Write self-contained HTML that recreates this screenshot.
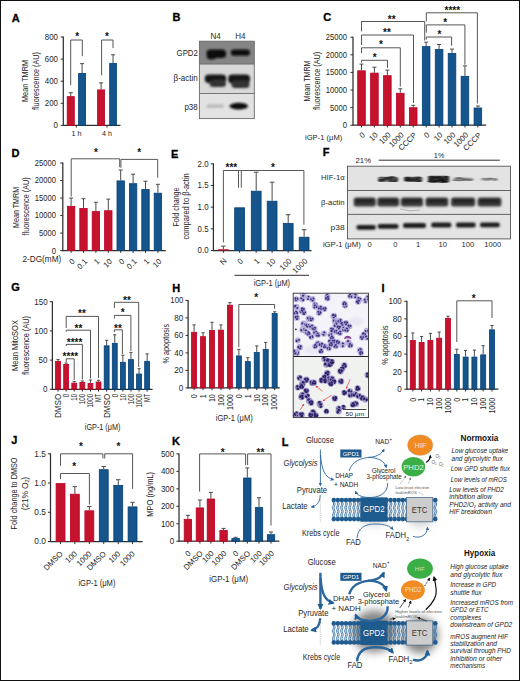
<!DOCTYPE html>
<html><head><meta charset="utf-8"><style>
html,body{margin:0;padding:0;background:#fff;overflow:hidden;}
svg{display:block;font-family:"Liberation Sans", sans-serif;}
</style></head><body>
<svg width="520" height="681" viewBox="0 0 520 681" fill="#262626">
<rect x="0.5" y="0.5" width="519" height="680" fill="#fff" stroke="#111" stroke-width="1"/>
<text x="11.80" y="21.58" font-size="11.0" font-weight="bold" fill="#000" stroke="#000" stroke-width="0.3">A</text>
<line x1="63.30" y1="36.50" x2="63.30" y2="126.00" stroke="#2e2e2e" stroke-width="1.25"/>
<line x1="60.70" y1="125.40" x2="63.30" y2="125.40" stroke="#2e2e2e" stroke-width="1.0"/>
<text x="58.00" y="128.30" font-size="8.2" text-anchor="end" textLength="4.40" lengthAdjust="spacingAndGlyphs" >0</text>
<line x1="60.70" y1="103.30" x2="63.30" y2="103.30" stroke="#2e2e2e" stroke-width="1.0"/>
<text x="58.00" y="106.20" font-size="8.2" text-anchor="end" textLength="13.20" lengthAdjust="spacingAndGlyphs" >200</text>
<line x1="60.70" y1="81.20" x2="63.30" y2="81.20" stroke="#2e2e2e" stroke-width="1.0"/>
<text x="58.00" y="84.10" font-size="8.2" text-anchor="end" textLength="13.20" lengthAdjust="spacingAndGlyphs" >400</text>
<line x1="60.70" y1="59.10" x2="63.30" y2="59.10" stroke="#2e2e2e" stroke-width="1.0"/>
<text x="58.00" y="62.00" font-size="8.2" text-anchor="end" textLength="13.20" lengthAdjust="spacingAndGlyphs" >600</text>
<line x1="60.70" y1="37.00" x2="63.30" y2="37.00" stroke="#2e2e2e" stroke-width="1.0"/>
<text x="58.00" y="39.90" font-size="8.2" text-anchor="end" textLength="13.20" lengthAdjust="spacingAndGlyphs" >800</text>
<line x1="63.30" y1="125.40" x2="120.50" y2="125.40" stroke="#2e2e2e" stroke-width="1.25"/>
<line x1="76.30" y1="125.40" x2="76.30" y2="127.60" stroke="#2e2e2e" stroke-width="1.0"/>
<line x1="107.00" y1="125.40" x2="107.00" y2="127.60" stroke="#2e2e2e" stroke-width="1.0"/>
<rect x="67.20" y="96.63" width="7.10" height="28.77" fill="#c5132e" stroke="#bb0026" stroke-width="0.8"/>
<line x1="70.75" y1="92.69" x2="70.75" y2="96.23" stroke="#4a4a4a" stroke-width="1.0"/>
<line x1="68.75" y1="92.69" x2="72.75" y2="92.69" stroke="#4a4a4a" stroke-width="1.0"/>
<rect x="78.60" y="73.53" width="7.00" height="51.87" fill="#16558b" stroke="#003f79" stroke-width="0.8"/>
<line x1="82.10" y1="63.63" x2="82.10" y2="73.13" stroke="#4a4a4a" stroke-width="1.0"/>
<line x1="80.10" y1="63.63" x2="84.10" y2="63.63" stroke="#4a4a4a" stroke-width="1.0"/>
<rect x="97.60" y="89.89" width="7.00" height="35.51" fill="#c5132e" stroke="#bb0026" stroke-width="0.8"/>
<line x1="101.10" y1="82.86" x2="101.10" y2="89.49" stroke="#4a4a4a" stroke-width="1.0"/>
<line x1="99.10" y1="82.86" x2="103.10" y2="82.86" stroke="#4a4a4a" stroke-width="1.0"/>
<rect x="109.70" y="63.37" width="6.70" height="62.03" fill="#16558b" stroke="#003f79" stroke-width="0.8"/>
<line x1="113.05" y1="54.79" x2="113.05" y2="62.97" stroke="#4a4a4a" stroke-width="1.0"/>
<line x1="111.05" y1="54.79" x2="115.05" y2="54.79" stroke="#4a4a4a" stroke-width="1.0"/>
<path d="M70.70 85.20 L70.70 40.00 L82.30 40.00 L82.30 56.20" stroke="#444444" stroke-width="0.9" fill="none" />
<path d="M101.60 75.40 L101.60 40.00 L113.00 40.00 L113.00 48.10" stroke="#444444" stroke-width="0.9" fill="none" />
<text x="77.10" y="40.00" font-size="10" text-anchor="middle" textLength="3.90" lengthAdjust="spacingAndGlyphs" font-weight="bold" fill="#111" >*</text>
<text x="106.90" y="40.00" font-size="10" text-anchor="middle" textLength="3.90" lengthAdjust="spacingAndGlyphs" font-weight="bold" fill="#111" >*</text>
<text x="76.50" y="136.30" font-size="7.3" text-anchor="middle" textLength="10.00" lengthAdjust="spacingAndGlyphs" >1 h</text>
<text x="107.00" y="136.30" font-size="7.3" text-anchor="middle" textLength="10.00" lengthAdjust="spacingAndGlyphs" >4 h</text>
<text x="28.30" y="81.00" font-size="9.6" text-anchor="middle" textLength="42.00" lengthAdjust="spacingAndGlyphs" transform="rotate(-90 28.30 81.00)" >Mean TMRM</text>
<text x="38.60" y="81.00" font-size="9.6" text-anchor="middle" textLength="58.00" lengthAdjust="spacingAndGlyphs" transform="rotate(-90 38.60 81.00)" >fluorescence (AU)</text>
<text x="172.50" y="20.77" font-size="11.0" font-weight="bold" fill="#000" stroke="#000" stroke-width="0.3">B</text>
<text x="215.60" y="39.30" font-size="8.2" text-anchor="middle" textLength="10.20" lengthAdjust="spacingAndGlyphs" >N4</text>
<text x="240.30" y="39.30" font-size="8.2" text-anchor="middle" textLength="10.20" lengthAdjust="spacingAndGlyphs" >H4</text>
<defs><filter id="bl4" x="-30%" y="-60%" width="160%" height="220%"><feGaussianBlur stdDeviation="1.3"/></filter><filter id="bl1" x="-30%" y="-60%" width="160%" height="220%"><feGaussianBlur stdDeviation="1.1"/></filter><filter id="bl2" x="-30%" y="-60%" width="160%" height="220%"><feGaussianBlur stdDeviation="0.7"/></filter><filter id="bl3" x="-30%" y="-60%" width="160%" height="220%"><feGaussianBlur stdDeviation="1.6"/></filter></defs>
<rect x="199.40" y="41.20" width="54.90" height="22.90" fill="#858585" />
<rect x="199.40" y="64.10" width="54.90" height="29.40" fill="#d8d8d8" />
<rect x="199.40" y="93.50" width="54.90" height="25.10" fill="#e2e2e2" />
<g stroke="#6a6a6a" stroke-width="0.9" fill="none"><rect x="199.4" y="41.2" width="54.9" height="77.4"/><line x1="199.4" y1="64.1" x2="254.3" y2="64.1"/><line x1="199.4" y1="93.5" x2="254.3" y2="93.5"/></g>
<g filter="url(#bl1)" fill="#0a0a0a"><rect x="206.5" y="49.6" width="19.6" height="8.4" rx="4"/><ellipse cx="211.5" cy="57.2" rx="4.5" ry="2.2"/><rect x="230.8" y="49.4" width="19.2" height="6.4" rx="3.2"/></g>
<g filter="url(#bl4)"><rect x="204.8" y="74.4" width="21.4" height="8.6" rx="4" fill="#151515"/><rect x="209.5" y="80.0" width="16.5" height="7.0" rx="3.5" fill="#363636"/><rect x="228.2" y="74.6" width="21.8" height="8.8" rx="4" fill="#151515"/><rect x="231.5" y="80.5" width="18" height="7.5" rx="3.5" fill="#323232"/></g>
<g filter="url(#bl1)"><rect x="206.5" y="104.4" width="17.5" height="3.4" rx="1.7" fill="#b8b8b8"/><ellipse cx="238.8" cy="106.2" rx="9.2" ry="3.4" fill="#0d0d0d"/></g>
<text x="197.80" y="56.00" font-size="8.8" text-anchor="end" textLength="21.20" lengthAdjust="spacingAndGlyphs" >GPD2</text>
<text x="197.80" y="81.30" font-size="8.8" text-anchor="end" textLength="24.20" lengthAdjust="spacingAndGlyphs" >β-actin</text>
<text x="197.80" y="110.30" font-size="8.8" text-anchor="end" textLength="13.40" lengthAdjust="spacingAndGlyphs" >p38</text>
<text x="323.20" y="21.38" font-size="11.0" font-weight="bold" fill="#000" stroke="#000" stroke-width="0.3">C</text>
<line x1="353.00" y1="36.70" x2="353.00" y2="125.80" stroke="#2e2e2e" stroke-width="1.25"/>
<line x1="350.40" y1="125.20" x2="353.00" y2="125.20" stroke="#2e2e2e" stroke-width="1.0"/>
<text x="347.00" y="128.10" font-size="8.2" text-anchor="end" textLength="4.30" lengthAdjust="spacingAndGlyphs" >0</text>
<line x1="350.40" y1="107.60" x2="353.00" y2="107.60" stroke="#2e2e2e" stroke-width="1.0"/>
<text x="347.00" y="110.50" font-size="8.2" text-anchor="end" textLength="17.00" lengthAdjust="spacingAndGlyphs" >5000</text>
<line x1="350.40" y1="90.00" x2="353.00" y2="90.00" stroke="#2e2e2e" stroke-width="1.0"/>
<text x="347.00" y="92.90" font-size="8.2" text-anchor="end" textLength="21.20" lengthAdjust="spacingAndGlyphs" >10000</text>
<line x1="350.40" y1="72.40" x2="353.00" y2="72.40" stroke="#2e2e2e" stroke-width="1.0"/>
<text x="347.00" y="75.30" font-size="8.2" text-anchor="end" textLength="21.20" lengthAdjust="spacingAndGlyphs" >15000</text>
<line x1="350.40" y1="54.80" x2="353.00" y2="54.80" stroke="#2e2e2e" stroke-width="1.0"/>
<text x="347.00" y="57.70" font-size="8.2" text-anchor="end" textLength="21.20" lengthAdjust="spacingAndGlyphs" >20000</text>
<line x1="350.40" y1="37.20" x2="353.00" y2="37.20" stroke="#2e2e2e" stroke-width="1.0"/>
<text x="347.00" y="40.10" font-size="8.2" text-anchor="end" textLength="21.20" lengthAdjust="spacingAndGlyphs" >25000</text>
<line x1="353.00" y1="125.20" x2="486.20" y2="125.20" stroke="#2e2e2e" stroke-width="1.25"/>
<rect x="357.70" y="70.80" width="7.60" height="54.40" fill="#c5132e" stroke="#bb0026" stroke-width="0.8"/>
<line x1="361.50" y1="64.10" x2="361.50" y2="70.40" stroke="#4a4a4a" stroke-width="1.0"/>
<line x1="359.50" y1="64.10" x2="363.50" y2="64.10" stroke="#4a4a4a" stroke-width="1.0"/>
<line x1="361.50" y1="125.20" x2="361.50" y2="127.50" stroke="#2e2e2e" stroke-width="1.0"/>
<text x="365.50" y="135.50" font-size="7.8" text-anchor="end" transform="rotate(-45 365.50 135.50)" >0</text>
<rect x="370.63" y="73.10" width="7.60" height="52.10" fill="#c5132e" stroke="#bb0026" stroke-width="0.8"/>
<line x1="374.43" y1="67.20" x2="374.43" y2="72.70" stroke="#4a4a4a" stroke-width="1.0"/>
<line x1="372.43" y1="67.20" x2="376.43" y2="67.20" stroke="#4a4a4a" stroke-width="1.0"/>
<line x1="374.43" y1="125.20" x2="374.43" y2="127.50" stroke="#2e2e2e" stroke-width="1.0"/>
<text x="378.43" y="135.50" font-size="7.8" text-anchor="end" transform="rotate(-45 378.43 135.50)" >10</text>
<rect x="383.56" y="75.70" width="7.60" height="49.50" fill="#c5132e" stroke="#bb0026" stroke-width="0.8"/>
<line x1="387.36" y1="70.10" x2="387.36" y2="75.30" stroke="#4a4a4a" stroke-width="1.0"/>
<line x1="385.36" y1="70.10" x2="389.36" y2="70.10" stroke="#4a4a4a" stroke-width="1.0"/>
<line x1="387.36" y1="125.20" x2="387.36" y2="127.50" stroke="#2e2e2e" stroke-width="1.0"/>
<text x="391.36" y="135.50" font-size="7.8" text-anchor="end" transform="rotate(-45 391.36 135.50)" >100</text>
<rect x="396.49" y="93.30" width="7.60" height="31.90" fill="#c5132e" stroke="#bb0026" stroke-width="0.8"/>
<line x1="400.29" y1="88.80" x2="400.29" y2="92.90" stroke="#4a4a4a" stroke-width="1.0"/>
<line x1="398.29" y1="88.80" x2="402.29" y2="88.80" stroke="#4a4a4a" stroke-width="1.0"/>
<line x1="400.29" y1="125.20" x2="400.29" y2="127.50" stroke="#2e2e2e" stroke-width="1.0"/>
<text x="404.29" y="135.50" font-size="7.8" text-anchor="end" transform="rotate(-45 404.29 135.50)" >1000</text>
<rect x="409.42" y="107.70" width="7.60" height="17.50" fill="#c5132e" stroke="#bb0026" stroke-width="0.8"/>
<line x1="413.22" y1="105.30" x2="413.22" y2="107.30" stroke="#4a4a4a" stroke-width="1.0"/>
<line x1="411.22" y1="105.30" x2="415.22" y2="105.30" stroke="#4a4a4a" stroke-width="1.0"/>
<line x1="413.22" y1="125.20" x2="413.22" y2="127.50" stroke="#2e2e2e" stroke-width="1.0"/>
<text x="417.22" y="135.50" font-size="7.8" text-anchor="end" transform="rotate(-45 417.22 135.50)" >CCCP</text>
<rect x="422.35" y="46.60" width="7.60" height="78.60" fill="#16558b" stroke="#003f79" stroke-width="0.8"/>
<line x1="426.15" y1="42.20" x2="426.15" y2="46.20" stroke="#4a4a4a" stroke-width="1.0"/>
<line x1="424.15" y1="42.20" x2="428.15" y2="42.20" stroke="#4a4a4a" stroke-width="1.0"/>
<line x1="426.15" y1="125.20" x2="426.15" y2="127.50" stroke="#2e2e2e" stroke-width="1.0"/>
<text x="430.15" y="135.50" font-size="7.8" text-anchor="end" transform="rotate(-45 430.15 135.50)" >0</text>
<rect x="435.28" y="49.50" width="7.60" height="75.70" fill="#16558b" stroke="#003f79" stroke-width="0.8"/>
<line x1="439.08" y1="44.50" x2="439.08" y2="49.10" stroke="#4a4a4a" stroke-width="1.0"/>
<line x1="437.08" y1="44.50" x2="441.08" y2="44.50" stroke="#4a4a4a" stroke-width="1.0"/>
<line x1="439.08" y1="125.20" x2="439.08" y2="127.50" stroke="#2e2e2e" stroke-width="1.0"/>
<text x="443.08" y="135.50" font-size="7.8" text-anchor="end" transform="rotate(-45 443.08 135.50)" >10</text>
<rect x="448.21" y="53.50" width="7.60" height="71.70" fill="#16558b" stroke="#003f79" stroke-width="0.8"/>
<line x1="452.01" y1="49.10" x2="452.01" y2="53.10" stroke="#4a4a4a" stroke-width="1.0"/>
<line x1="450.01" y1="49.10" x2="454.01" y2="49.10" stroke="#4a4a4a" stroke-width="1.0"/>
<line x1="452.01" y1="125.20" x2="452.01" y2="127.50" stroke="#2e2e2e" stroke-width="1.0"/>
<text x="456.01" y="135.50" font-size="7.8" text-anchor="end" transform="rotate(-45 456.01 135.50)" >100</text>
<rect x="461.14" y="76.30" width="7.60" height="48.90" fill="#16558b" stroke="#003f79" stroke-width="0.8"/>
<line x1="464.94" y1="65.90" x2="464.94" y2="75.90" stroke="#4a4a4a" stroke-width="1.0"/>
<line x1="462.94" y1="65.90" x2="466.94" y2="65.90" stroke="#4a4a4a" stroke-width="1.0"/>
<line x1="464.94" y1="125.20" x2="464.94" y2="127.50" stroke="#2e2e2e" stroke-width="1.0"/>
<text x="468.94" y="135.50" font-size="7.8" text-anchor="end" transform="rotate(-45 468.94 135.50)" >1000</text>
<rect x="474.07" y="108.00" width="7.60" height="17.20" fill="#16558b" stroke="#003f79" stroke-width="0.8"/>
<line x1="477.87" y1="106.00" x2="477.87" y2="107.60" stroke="#4a4a4a" stroke-width="1.0"/>
<line x1="475.87" y1="106.00" x2="479.87" y2="106.00" stroke="#4a4a4a" stroke-width="1.0"/>
<line x1="477.87" y1="125.20" x2="477.87" y2="127.50" stroke="#2e2e2e" stroke-width="1.0"/>
<text x="481.87" y="135.50" font-size="7.8" text-anchor="end" transform="rotate(-45 481.87 135.50)" >CCCP</text>
<path d="M361.50 31.40 L361.50 21.50 L424.70 21.50 L424.70 40.50" stroke="#444444" stroke-width="0.9" fill="none" />
<path d="M361.50 45.00 L361.50 35.00 L413.50 35.00 L413.50 103.00" stroke="#444444" stroke-width="0.9" fill="none" />
<path d="M361.50 53.00 L361.50 47.80 L400.30 47.80 L400.30 86.50" stroke="#444444" stroke-width="0.9" fill="none" />
<path d="M361.50 62.50 L361.50 60.30 L387.50 60.30 L387.50 67.90" stroke="#444444" stroke-width="0.9" fill="none" />
<text x="391.70" y="22.50" font-size="10" text-anchor="middle" textLength="7.80" lengthAdjust="spacingAndGlyphs" font-weight="bold" fill="#111" >**</text>
<text x="386.90" y="35.70" font-size="10" text-anchor="middle" textLength="7.80" lengthAdjust="spacingAndGlyphs" font-weight="bold" fill="#111" >**</text>
<text x="381.00" y="48.20" font-size="10" text-anchor="middle" textLength="3.90" lengthAdjust="spacingAndGlyphs" font-weight="bold" fill="#111" >*</text>
<text x="374.80" y="60.70" font-size="10" text-anchor="middle" textLength="3.90" lengthAdjust="spacingAndGlyphs" font-weight="bold" fill="#111" >*</text>
<path d="M426.30 21.40 L426.30 12.80 L477.40 12.80 L477.40 103.50" stroke="#444444" stroke-width="0.9" fill="none" />
<path d="M426.30 32.70 L426.30 24.90 L464.90 24.90 L464.90 64.70" stroke="#444444" stroke-width="0.9" fill="none" />
<path d="M426.30 39.60 L426.30 37.00 L451.60 37.00 L451.60 45.70" stroke="#444444" stroke-width="0.9" fill="none" />
<text x="452.30" y="13.60" font-size="10" text-anchor="middle" textLength="15.60" lengthAdjust="spacingAndGlyphs" font-weight="bold" fill="#111" >****</text>
<text x="445.30" y="25.60" font-size="10" text-anchor="middle" textLength="3.90" lengthAdjust="spacingAndGlyphs" font-weight="bold" fill="#111" >*</text>
<text x="439.50" y="37.60" font-size="10" text-anchor="middle" textLength="3.90" lengthAdjust="spacingAndGlyphs" font-weight="bold" fill="#111" >*</text>
<text x="310.00" y="81.00" font-size="9.6" text-anchor="middle" textLength="41.10" lengthAdjust="spacingAndGlyphs" transform="rotate(-90 310.00 81.00)" >Mean TMRM</text>
<text x="320.50" y="80.80" font-size="9.6" text-anchor="middle" textLength="58.20" lengthAdjust="spacingAndGlyphs" transform="rotate(-90 320.50 80.80)" >fluorescence (AU)</text>
<text x="305.00" y="139.80" font-size="7.3" textLength="37.30" lengthAdjust="spacingAndGlyphs" >iGP-1 (μM)</text>
<text x="11.60" y="157.17" font-size="11.0" font-weight="bold" fill="#000" stroke="#000" stroke-width="0.3">D</text>
<line x1="62.80" y1="162.50" x2="62.80" y2="251.20" stroke="#2e2e2e" stroke-width="1.25"/>
<line x1="60.20" y1="250.60" x2="62.80" y2="250.60" stroke="#2e2e2e" stroke-width="1.0"/>
<text x="56.00" y="253.50" font-size="8.2" text-anchor="end" textLength="4.30" lengthAdjust="spacingAndGlyphs" >0</text>
<line x1="60.20" y1="233.08" x2="62.80" y2="233.08" stroke="#2e2e2e" stroke-width="1.0"/>
<text x="56.00" y="235.98" font-size="8.2" text-anchor="end" textLength="17.00" lengthAdjust="spacingAndGlyphs" >5000</text>
<line x1="60.20" y1="215.56" x2="62.80" y2="215.56" stroke="#2e2e2e" stroke-width="1.0"/>
<text x="56.00" y="218.46" font-size="8.2" text-anchor="end" textLength="21.20" lengthAdjust="spacingAndGlyphs" >10000</text>
<line x1="60.20" y1="198.04" x2="62.80" y2="198.04" stroke="#2e2e2e" stroke-width="1.0"/>
<text x="56.00" y="200.94" font-size="8.2" text-anchor="end" textLength="21.20" lengthAdjust="spacingAndGlyphs" >15000</text>
<line x1="60.20" y1="180.52" x2="62.80" y2="180.52" stroke="#2e2e2e" stroke-width="1.0"/>
<text x="56.00" y="183.42" font-size="8.2" text-anchor="end" textLength="21.20" lengthAdjust="spacingAndGlyphs" >20000</text>
<line x1="60.20" y1="163.00" x2="62.80" y2="163.00" stroke="#2e2e2e" stroke-width="1.0"/>
<text x="56.00" y="165.90" font-size="8.2" text-anchor="end" textLength="21.20" lengthAdjust="spacingAndGlyphs" >25000</text>
<line x1="62.80" y1="250.60" x2="165.80" y2="250.60" stroke="#2e2e2e" stroke-width="1.25"/>
<rect x="67.40" y="206.30" width="7.40" height="44.30" fill="#c5132e" stroke="#bb0026" stroke-width="0.8"/>
<line x1="71.10" y1="198.10" x2="71.10" y2="205.90" stroke="#4a4a4a" stroke-width="1.0"/>
<line x1="69.10" y1="198.10" x2="73.10" y2="198.10" stroke="#4a4a4a" stroke-width="1.0"/>
<line x1="71.10" y1="250.60" x2="71.10" y2="252.90" stroke="#2e2e2e" stroke-width="1.0"/>
<text x="75.40" y="262.00" font-size="7.8" text-anchor="end" transform="rotate(-45 75.40 262.00)" >0</text>
<rect x="79.80" y="208.40" width="7.40" height="42.20" fill="#c5132e" stroke="#bb0026" stroke-width="0.8"/>
<line x1="83.50" y1="198.70" x2="83.50" y2="208.00" stroke="#4a4a4a" stroke-width="1.0"/>
<line x1="81.50" y1="198.70" x2="85.50" y2="198.70" stroke="#4a4a4a" stroke-width="1.0"/>
<line x1="83.50" y1="250.60" x2="83.50" y2="252.90" stroke="#2e2e2e" stroke-width="1.0"/>
<text x="87.80" y="262.00" font-size="7.8" text-anchor="end" transform="rotate(-45 87.80 262.00)" >0.1</text>
<rect x="92.20" y="211.60" width="7.40" height="39.00" fill="#c5132e" stroke="#bb0026" stroke-width="0.8"/>
<line x1="95.90" y1="202.30" x2="95.90" y2="211.20" stroke="#4a4a4a" stroke-width="1.0"/>
<line x1="93.90" y1="202.30" x2="97.90" y2="202.30" stroke="#4a4a4a" stroke-width="1.0"/>
<line x1="95.90" y1="250.60" x2="95.90" y2="252.90" stroke="#2e2e2e" stroke-width="1.0"/>
<text x="100.20" y="262.00" font-size="7.8" text-anchor="end" transform="rotate(-45 100.20 262.00)" >1</text>
<rect x="104.60" y="210.70" width="7.40" height="39.90" fill="#c5132e" stroke="#bb0026" stroke-width="0.8"/>
<line x1="108.30" y1="199.10" x2="108.30" y2="210.30" stroke="#4a4a4a" stroke-width="1.0"/>
<line x1="106.30" y1="199.10" x2="110.30" y2="199.10" stroke="#4a4a4a" stroke-width="1.0"/>
<line x1="108.30" y1="250.60" x2="108.30" y2="252.90" stroke="#2e2e2e" stroke-width="1.0"/>
<text x="112.60" y="262.00" font-size="7.8" text-anchor="end" transform="rotate(-45 112.60 262.00)" >10</text>
<rect x="117.00" y="180.90" width="7.40" height="69.70" fill="#16558b" stroke="#003f79" stroke-width="0.8"/>
<line x1="120.70" y1="170.00" x2="120.70" y2="180.50" stroke="#4a4a4a" stroke-width="1.0"/>
<line x1="118.70" y1="170.00" x2="122.70" y2="170.00" stroke="#4a4a4a" stroke-width="1.0"/>
<line x1="120.70" y1="250.60" x2="120.70" y2="252.90" stroke="#2e2e2e" stroke-width="1.0"/>
<text x="125.00" y="262.00" font-size="7.8" text-anchor="end" transform="rotate(-45 125.00 262.00)" >0</text>
<rect x="129.40" y="183.70" width="7.40" height="66.90" fill="#16558b" stroke="#003f79" stroke-width="0.8"/>
<line x1="133.10" y1="174.20" x2="133.10" y2="183.30" stroke="#4a4a4a" stroke-width="1.0"/>
<line x1="131.10" y1="174.20" x2="135.10" y2="174.20" stroke="#4a4a4a" stroke-width="1.0"/>
<line x1="133.10" y1="250.60" x2="133.10" y2="252.90" stroke="#2e2e2e" stroke-width="1.0"/>
<text x="137.40" y="262.00" font-size="7.8" text-anchor="end" transform="rotate(-45 137.40 262.00)" >0.1</text>
<rect x="141.80" y="189.60" width="7.40" height="61.00" fill="#16558b" stroke="#003f79" stroke-width="0.8"/>
<line x1="145.50" y1="181.20" x2="145.50" y2="189.20" stroke="#4a4a4a" stroke-width="1.0"/>
<line x1="143.50" y1="181.20" x2="147.50" y2="181.20" stroke="#4a4a4a" stroke-width="1.0"/>
<line x1="145.50" y1="250.60" x2="145.50" y2="252.90" stroke="#2e2e2e" stroke-width="1.0"/>
<text x="149.80" y="262.00" font-size="7.8" text-anchor="end" transform="rotate(-45 149.80 262.00)" >1</text>
<rect x="154.20" y="193.20" width="7.40" height="57.40" fill="#16558b" stroke="#003f79" stroke-width="0.8"/>
<line x1="157.90" y1="184.30" x2="157.90" y2="192.80" stroke="#4a4a4a" stroke-width="1.0"/>
<line x1="155.90" y1="184.30" x2="159.90" y2="184.30" stroke="#4a4a4a" stroke-width="1.0"/>
<line x1="157.90" y1="250.60" x2="157.90" y2="252.90" stroke="#2e2e2e" stroke-width="1.0"/>
<text x="162.20" y="262.00" font-size="7.8" text-anchor="end" transform="rotate(-45 162.20 262.00)" >10</text>
<path d="M71.20 196.50 L71.20 158.80 L119.70 158.80 L119.70 167.20" stroke="#444444" stroke-width="0.9" fill="none" />
<path d="M120.90 167.80 L120.90 159.40 L157.70 159.40 L157.70 177.80" stroke="#444444" stroke-width="0.9" fill="none" />
<text x="96.00" y="156.40" font-size="10" text-anchor="middle" textLength="3.90" lengthAdjust="spacingAndGlyphs" font-weight="bold" fill="#111" >*</text>
<text x="139.30" y="156.40" font-size="10" text-anchor="middle" textLength="3.90" lengthAdjust="spacingAndGlyphs" font-weight="bold" fill="#111" >*</text>
<text x="18.60" y="207.40" font-size="9.6" text-anchor="middle" textLength="41.10" lengthAdjust="spacingAndGlyphs" transform="rotate(-90 18.60 207.40)" >Mean TMRM</text>
<text x="28.60" y="206.40" font-size="9.6" text-anchor="middle" textLength="58.20" lengthAdjust="spacingAndGlyphs" transform="rotate(-90 28.60 206.40)" >fluorescence (AU)</text>
<text x="22.50" y="262.00" font-size="8.4" textLength="38.70" lengthAdjust="spacingAndGlyphs" >2-DG(mM)</text>
<text x="171.10" y="158.07" font-size="11.0" font-weight="bold" fill="#000" stroke="#000" stroke-width="0.3">E</text>
<line x1="213.40" y1="163.30" x2="213.40" y2="251.10" stroke="#2e2e2e" stroke-width="1.25"/>
<line x1="210.80" y1="250.50" x2="213.40" y2="250.50" stroke="#2e2e2e" stroke-width="1.0"/>
<text x="208.60" y="253.40" font-size="8.2" text-anchor="end" textLength="11.00" lengthAdjust="spacingAndGlyphs" >0.0</text>
<line x1="210.80" y1="228.82" x2="213.40" y2="228.82" stroke="#2e2e2e" stroke-width="1.0"/>
<text x="208.60" y="231.72" font-size="8.2" text-anchor="end" textLength="11.00" lengthAdjust="spacingAndGlyphs" >0.5</text>
<line x1="210.80" y1="207.15" x2="213.40" y2="207.15" stroke="#2e2e2e" stroke-width="1.0"/>
<text x="208.60" y="210.05" font-size="8.2" text-anchor="end" textLength="11.00" lengthAdjust="spacingAndGlyphs" >1.0</text>
<line x1="210.80" y1="185.48" x2="213.40" y2="185.48" stroke="#2e2e2e" stroke-width="1.0"/>
<text x="208.60" y="188.38" font-size="8.2" text-anchor="end" textLength="11.00" lengthAdjust="spacingAndGlyphs" >1.5</text>
<line x1="210.80" y1="163.80" x2="213.40" y2="163.80" stroke="#2e2e2e" stroke-width="1.0"/>
<text x="208.60" y="166.70" font-size="8.2" text-anchor="end" textLength="11.00" lengthAdjust="spacingAndGlyphs" >2.0</text>
<line x1="213.40" y1="250.50" x2="311.50" y2="250.50" stroke="#2e2e2e" stroke-width="1.25"/>
<rect x="218.10" y="249.20" width="10.60" height="1.30" fill="#c8102e" />
<line x1="223.40" y1="246.10" x2="223.40" y2="249.20" stroke="#4a4a4a" stroke-width="1.0"/>
<line x1="221.10" y1="246.10" x2="225.70" y2="246.10" stroke="#4a4a4a" stroke-width="1.0"/>
<line x1="223.40" y1="250.50" x2="223.40" y2="252.80" stroke="#2e2e2e" stroke-width="1.0"/>
<text x="227.40" y="261.50" font-size="8" text-anchor="end" transform="rotate(-45 227.40 261.50)" >N</text>
<rect x="234.70" y="207.80" width="9.80" height="42.70" fill="#16558b" stroke="#003f79" stroke-width="0.8"/>
<line x1="239.60" y1="250.50" x2="239.60" y2="252.80" stroke="#2e2e2e" stroke-width="1.0"/>
<text x="243.60" y="261.50" font-size="8" text-anchor="end" transform="rotate(-45 243.60 261.50)" >0</text>
<rect x="251.30" y="191.20" width="9.80" height="59.30" fill="#16558b" stroke="#003f79" stroke-width="0.8"/>
<line x1="256.20" y1="172.20" x2="256.20" y2="190.80" stroke="#4a4a4a" stroke-width="1.0"/>
<line x1="253.90" y1="172.20" x2="258.50" y2="172.20" stroke="#4a4a4a" stroke-width="1.0"/>
<line x1="256.20" y1="250.50" x2="256.20" y2="252.80" stroke="#2e2e2e" stroke-width="1.0"/>
<text x="260.20" y="261.50" font-size="8" text-anchor="end" transform="rotate(-45 260.20 261.50)" >1</text>
<rect x="267.20" y="201.20" width="9.80" height="49.30" fill="#16558b" stroke="#003f79" stroke-width="0.8"/>
<line x1="272.10" y1="182.20" x2="272.10" y2="200.80" stroke="#4a4a4a" stroke-width="1.0"/>
<line x1="269.80" y1="182.20" x2="274.40" y2="182.20" stroke="#4a4a4a" stroke-width="1.0"/>
<line x1="272.10" y1="250.50" x2="272.10" y2="252.80" stroke="#2e2e2e" stroke-width="1.0"/>
<text x="276.10" y="261.50" font-size="8" text-anchor="end" transform="rotate(-45 276.10 261.50)" >10</text>
<rect x="283.30" y="223.50" width="9.80" height="27.00" fill="#16558b" stroke="#003f79" stroke-width="0.8"/>
<line x1="288.20" y1="214.70" x2="288.20" y2="223.10" stroke="#4a4a4a" stroke-width="1.0"/>
<line x1="285.90" y1="214.70" x2="290.50" y2="214.70" stroke="#4a4a4a" stroke-width="1.0"/>
<line x1="288.20" y1="250.50" x2="288.20" y2="252.80" stroke="#2e2e2e" stroke-width="1.0"/>
<text x="292.20" y="261.50" font-size="8" text-anchor="end" transform="rotate(-45 292.20 261.50)" >100</text>
<rect x="299.20" y="237.20" width="9.80" height="13.30" fill="#16558b" stroke="#003f79" stroke-width="0.8"/>
<line x1="304.10" y1="229.70" x2="304.10" y2="236.80" stroke="#4a4a4a" stroke-width="1.0"/>
<line x1="301.80" y1="229.70" x2="306.40" y2="229.70" stroke="#4a4a4a" stroke-width="1.0"/>
<line x1="304.10" y1="250.50" x2="304.10" y2="252.80" stroke="#2e2e2e" stroke-width="1.0"/>
<text x="308.10" y="261.50" font-size="8" text-anchor="end" transform="rotate(-45 308.10 261.50)" >1000</text>
<path d="M223.40 242.40 L223.40 170.50 L238.50 170.50 L238.50 187.70" stroke="#444444" stroke-width="0.9" fill="none" />
<path d="M241.30 187.70 L241.30 170.50 L303.90 170.50 L303.90 224.70" stroke="#444444" stroke-width="0.9" fill="none" />
<line x1="238.50" y1="170.50" x2="241.30" y2="170.50" stroke="#444444" stroke-width="0.9"/>
<text x="231.40" y="171.40" font-size="10" text-anchor="middle" textLength="11.70" lengthAdjust="spacingAndGlyphs" font-weight="bold" fill="#111" >***</text>
<text x="273.00" y="171.40" font-size="10" text-anchor="middle" textLength="3.90" lengthAdjust="spacingAndGlyphs" font-weight="bold" fill="#111" >*</text>
<line x1="234.40" y1="275.30" x2="309.00" y2="275.30" stroke="#2e2e2e" stroke-width="1.0"/>
<text x="253.70" y="285.50" font-size="9" textLength="36.40" lengthAdjust="spacingAndGlyphs" >iGP-1 (μM)</text>
<text x="179.40" y="207.00" font-size="9.6" text-anchor="middle" textLength="38.90" lengthAdjust="spacingAndGlyphs" transform="rotate(-90 179.40 207.00)" >Fold change</text>
<text x="189.30" y="206.40" font-size="9.6" text-anchor="middle" textLength="66.30" lengthAdjust="spacingAndGlyphs" transform="rotate(-90 189.30 206.40)" >compared to β-actin</text>
<text x="322.70" y="156.38" font-size="11.0" font-weight="bold" fill="#000" stroke="#000" stroke-width="0.3">F</text>
<text x="363.30" y="163.30" font-size="7.6" text-anchor="middle" textLength="15.40" lengthAdjust="spacingAndGlyphs" >21%</text>
<line x1="378.70" y1="160.20" x2="499.80" y2="160.20" stroke="#333" stroke-width="1.0"/>
<text x="439.00" y="157.50" font-size="7.6" text-anchor="middle" textLength="10.70" lengthAdjust="spacingAndGlyphs" >1%</text>
<rect x="347.50" y="166.20" width="163.00" height="72.70" fill="#e3e3e3" />
<g stroke="#555" stroke-width="0.9" fill="none"><rect x="347.5" y="166.2" width="163.0" height="72.7"/><line x1="347.5" y1="190.5" x2="510.5" y2="190.5"/><line x1="347.5" y1="214.4" x2="510.5" y2="214.4"/></g>
<filter id="blh" x="-20%" y="-80%" width="140%" height="260%"><feGaussianBlur stdDeviation="0.9 0.55"/></filter>
<g filter="url(#blh)">
<rect x="378.0" y="176.8" width="20.3" height="5.0" rx="2" fill="rgb(84,84,84)" opacity="0.82"/>
<ellipse cx="383.9" cy="179.5" rx="2.7" ry="0.8" fill="rgb(41,41,41)" opacity="0.70"/>
<ellipse cx="381.1" cy="177.3" rx="2.0" ry="0.6" fill="rgb(55,55,55)" opacity="0.70"/>
<ellipse cx="396.2" cy="179.2" rx="2.5" ry="0.8" fill="rgb(55,55,55)" opacity="0.70"/>
<ellipse cx="382.5" cy="179.9" rx="2.5" ry="0.9" fill="rgb(56,56,56)" opacity="0.70"/>
<ellipse cx="390.9" cy="177.5" rx="2.7" ry="0.7" fill="rgb(52,52,52)" opacity="0.70"/>
<ellipse cx="380.5" cy="180.8" rx="2.9" ry="0.9" fill="rgb(44,44,44)" opacity="0.70"/>
<ellipse cx="391.6" cy="181.1" rx="3.1" ry="0.7" fill="rgb(41,41,41)" opacity="0.70"/>
<ellipse cx="395.3" cy="180.9" rx="1.8" ry="0.6" fill="rgb(32,32,32)" opacity="0.70"/>
<ellipse cx="395.7" cy="179.0" rx="2.1" ry="0.8" fill="rgb(48,48,48)" opacity="0.70"/>
<ellipse cx="386.3" cy="178.7" rx="2.7" ry="1.0" fill="rgb(47,47,47)" opacity="0.70"/>
<ellipse cx="391.1" cy="181.1" rx="3.5" ry="0.8" fill="rgb(55,55,55)" opacity="0.70"/>
<ellipse cx="382.7" cy="180.8" rx="3.3" ry="0.8" fill="rgb(58,58,58)" opacity="0.70"/>
<ellipse cx="391.6" cy="178.1" rx="2.6" ry="0.6" fill="rgb(54,54,54)" opacity="0.70"/>
<ellipse cx="381.0" cy="180.8" rx="1.7" ry="0.9" fill="rgb(59,59,59)" opacity="0.70"/>
<ellipse cx="386.7" cy="177.8" rx="3.0" ry="0.9" fill="rgb(38,38,38)" opacity="0.70"/>
<ellipse cx="380.7" cy="179.8" rx="2.9" ry="0.7" fill="rgb(31,31,31)" opacity="0.70"/>
<ellipse cx="394.4" cy="181.3" rx="3.5" ry="0.7" fill="rgb(45,45,45)" opacity="0.70"/>
<ellipse cx="381.3" cy="179.7" rx="1.9" ry="0.7" fill="rgb(30,30,30)" opacity="0.70"/>
<ellipse cx="390.0" cy="177.9" rx="3.2" ry="0.7" fill="rgb(31,31,31)" opacity="0.70"/>
<ellipse cx="395.6" cy="181.0" rx="2.4" ry="0.8" fill="rgb(41,41,41)" opacity="0.70"/>
<ellipse cx="390.5" cy="179.7" rx="2.7" ry="1.0" fill="rgb(46,46,46)" opacity="0.70"/>
<ellipse cx="388.3" cy="179.0" rx="2.0" ry="0.7" fill="rgb(51,51,51)" opacity="0.70"/>
<ellipse cx="395.9" cy="179.4" rx="1.5" ry="0.7" fill="rgb(46,46,46)" opacity="0.70"/>
<ellipse cx="389.5" cy="177.3" rx="2.8" ry="0.5" fill="rgb(48,48,48)" opacity="0.70"/>
<ellipse cx="390.2" cy="179.2" rx="2.2" ry="0.9" fill="rgb(50,50,50)" opacity="0.70"/>
<ellipse cx="392.0" cy="177.3" rx="2.9" ry="1.0" fill="rgb(31,31,31)" opacity="0.70"/>
<ellipse cx="384.1" cy="179.1" rx="2.1" ry="0.7" fill="rgb(47,47,47)" opacity="0.70"/>
<ellipse cx="385.1" cy="178.8" rx="2.1" ry="0.7" fill="rgb(47,47,47)" opacity="0.70"/>
<ellipse cx="392.6" cy="177.3" rx="3.0" ry="0.7" fill="rgb(47,47,47)" opacity="0.70"/>
<ellipse cx="383.6" cy="180.6" rx="1.9" ry="0.7" fill="rgb(37,37,37)" opacity="0.70"/>
<rect x="403.7" y="176.8" width="18.8" height="5.0" rx="2" fill="rgb(78,78,78)" opacity="0.84"/>
<ellipse cx="416.0" cy="177.6" rx="2.2" ry="0.9" fill="rgb(34,34,34)" opacity="0.72"/>
<ellipse cx="412.2" cy="180.8" rx="2.2" ry="0.8" fill="rgb(30,30,30)" opacity="0.72"/>
<ellipse cx="418.8" cy="179.1" rx="1.7" ry="0.8" fill="rgb(31,31,31)" opacity="0.72"/>
<ellipse cx="408.5" cy="180.6" rx="1.9" ry="0.6" fill="rgb(50,50,50)" opacity="0.72"/>
<ellipse cx="417.6" cy="179.9" rx="2.2" ry="0.6" fill="rgb(49,49,49)" opacity="0.72"/>
<ellipse cx="410.0" cy="180.5" rx="2.2" ry="0.7" fill="rgb(33,33,33)" opacity="0.72"/>
<ellipse cx="411.9" cy="178.9" rx="1.8" ry="0.5" fill="rgb(52,52,52)" opacity="0.72"/>
<ellipse cx="419.7" cy="180.9" rx="2.4" ry="1.0" fill="rgb(54,54,54)" opacity="0.72"/>
<ellipse cx="419.4" cy="178.1" rx="3.2" ry="0.8" fill="rgb(47,47,47)" opacity="0.72"/>
<ellipse cx="413.4" cy="178.4" rx="2.0" ry="0.5" fill="rgb(35,35,35)" opacity="0.72"/>
<ellipse cx="414.4" cy="178.4" rx="1.6" ry="1.0" fill="rgb(49,49,49)" opacity="0.72"/>
<ellipse cx="416.0" cy="181.1" rx="3.3" ry="0.8" fill="rgb(51,51,51)" opacity="0.72"/>
<ellipse cx="405.9" cy="180.3" rx="2.1" ry="0.8" fill="rgb(30,30,30)" opacity="0.72"/>
<ellipse cx="413.5" cy="178.9" rx="2.7" ry="0.7" fill="rgb(53,53,53)" opacity="0.72"/>
<ellipse cx="409.4" cy="180.8" rx="3.1" ry="0.7" fill="rgb(39,39,39)" opacity="0.72"/>
<ellipse cx="408.6" cy="179.4" rx="1.8" ry="0.9" fill="rgb(49,49,49)" opacity="0.72"/>
<ellipse cx="419.3" cy="180.6" rx="1.5" ry="0.8" fill="rgb(49,49,49)" opacity="0.72"/>
<ellipse cx="418.5" cy="177.4" rx="2.0" ry="0.8" fill="rgb(33,33,33)" opacity="0.72"/>
<ellipse cx="412.0" cy="179.2" rx="1.5" ry="0.5" fill="rgb(48,48,48)" opacity="0.72"/>
<ellipse cx="407.6" cy="177.7" rx="3.4" ry="0.9" fill="rgb(27,27,27)" opacity="0.72"/>
<ellipse cx="407.0" cy="179.3" rx="2.1" ry="0.7" fill="rgb(34,34,34)" opacity="0.72"/>
<ellipse cx="415.3" cy="179.7" rx="1.9" ry="0.7" fill="rgb(35,35,35)" opacity="0.72"/>
<ellipse cx="407.5" cy="179.5" rx="2.3" ry="0.5" fill="rgb(46,46,46)" opacity="0.72"/>
<ellipse cx="408.3" cy="178.8" rx="3.1" ry="0.7" fill="rgb(43,43,43)" opacity="0.72"/>
<ellipse cx="417.6" cy="179.8" rx="2.2" ry="0.7" fill="rgb(37,37,37)" opacity="0.72"/>
<ellipse cx="416.1" cy="179.0" rx="2.4" ry="0.6" fill="rgb(45,45,45)" opacity="0.72"/>
<ellipse cx="413.6" cy="180.1" rx="2.3" ry="0.7" fill="rgb(27,27,27)" opacity="0.72"/>
<ellipse cx="418.7" cy="181.1" rx="3.3" ry="0.9" fill="rgb(36,36,36)" opacity="0.72"/>
<ellipse cx="409.6" cy="179.1" rx="3.1" ry="0.8" fill="rgb(28,28,28)" opacity="0.72"/>
<ellipse cx="418.8" cy="180.5" rx="3.0" ry="0.8" fill="rgb(45,45,45)" opacity="0.72"/>
<ellipse cx="407.2" cy="179.7" rx="1.8" ry="0.9" fill="rgb(25,25,25)" opacity="0.72"/>
<rect x="427.9" y="175.8" width="21.5" height="7.0" rx="2" fill="rgb(60,60,60)" opacity="0.90"/>
<ellipse cx="430.7" cy="177.0" rx="3.3" ry="0.6" fill="rgb(12,12,12)" opacity="0.80"/>
<ellipse cx="430.3" cy="181.2" rx="3.2" ry="0.8" fill="rgb(13,13,13)" opacity="0.80"/>
<ellipse cx="444.5" cy="181.8" rx="3.1" ry="0.5" fill="rgb(27,27,27)" opacity="0.80"/>
<ellipse cx="443.3" cy="179.4" rx="1.7" ry="0.9" fill="rgb(31,31,31)" opacity="0.80"/>
<ellipse cx="446.3" cy="176.8" rx="2.6" ry="0.9" fill="rgb(19,19,19)" opacity="0.80"/>
<ellipse cx="434.1" cy="177.5" rx="2.7" ry="0.9" fill="rgb(17,17,17)" opacity="0.80"/>
<ellipse cx="436.8" cy="178.6" rx="2.2" ry="0.7" fill="rgb(21,21,21)" opacity="0.80"/>
<ellipse cx="431.4" cy="179.3" rx="2.3" ry="0.9" fill="rgb(39,39,39)" opacity="0.80"/>
<ellipse cx="432.7" cy="180.4" rx="2.8" ry="0.8" fill="rgb(32,32,32)" opacity="0.80"/>
<ellipse cx="438.4" cy="180.1" rx="1.8" ry="0.5" fill="rgb(36,36,36)" opacity="0.80"/>
<ellipse cx="443.0" cy="181.6" rx="2.4" ry="0.9" fill="rgb(25,25,25)" opacity="0.80"/>
<ellipse cx="433.2" cy="178.0" rx="2.7" ry="0.7" fill="rgb(15,15,15)" opacity="0.80"/>
<ellipse cx="434.0" cy="180.4" rx="2.1" ry="0.9" fill="rgb(38,38,38)" opacity="0.80"/>
<ellipse cx="437.1" cy="181.3" rx="2.0" ry="0.6" fill="rgb(27,27,27)" opacity="0.80"/>
<ellipse cx="430.3" cy="179.2" rx="1.8" ry="0.7" fill="rgb(21,21,21)" opacity="0.80"/>
<ellipse cx="435.5" cy="180.8" rx="3.5" ry="0.7" fill="rgb(14,14,14)" opacity="0.80"/>
<ellipse cx="440.4" cy="179.1" rx="3.1" ry="0.8" fill="rgb(35,35,35)" opacity="0.80"/>
<ellipse cx="438.3" cy="180.5" rx="2.3" ry="0.9" fill="rgb(35,35,35)" opacity="0.80"/>
<ellipse cx="446.7" cy="179.1" rx="2.0" ry="0.9" fill="rgb(16,16,16)" opacity="0.80"/>
<ellipse cx="441.7" cy="181.9" rx="2.0" ry="0.6" fill="rgb(35,35,35)" opacity="0.80"/>
<ellipse cx="434.4" cy="177.5" rx="3.2" ry="0.9" fill="rgb(31,31,31)" opacity="0.80"/>
<ellipse cx="434.4" cy="181.3" rx="2.3" ry="0.9" fill="rgb(19,19,19)" opacity="0.80"/>
<ellipse cx="431.4" cy="177.0" rx="2.1" ry="0.7" fill="rgb(35,35,35)" opacity="0.80"/>
<ellipse cx="440.1" cy="180.3" rx="2.2" ry="0.7" fill="rgb(10,10,10)" opacity="0.80"/>
<ellipse cx="438.4" cy="177.7" rx="3.4" ry="0.7" fill="rgb(27,27,27)" opacity="0.80"/>
<ellipse cx="439.4" cy="177.2" rx="2.8" ry="0.6" fill="rgb(18,18,18)" opacity="0.80"/>
<ellipse cx="445.4" cy="181.6" rx="3.4" ry="0.7" fill="rgb(12,12,12)" opacity="0.80"/>
<ellipse cx="443.4" cy="180.7" rx="2.9" ry="0.8" fill="rgb(18,18,18)" opacity="0.80"/>
<ellipse cx="444.0" cy="178.0" rx="3.4" ry="0.8" fill="rgb(32,32,32)" opacity="0.80"/>
<ellipse cx="439.3" cy="177.1" rx="2.2" ry="0.9" fill="rgb(24,24,24)" opacity="0.80"/>
<ellipse cx="441.8" cy="179.7" rx="2.8" ry="0.8" fill="rgb(15,15,15)" opacity="0.80"/>
<ellipse cx="433.0" cy="181.5" rx="1.7" ry="1.0" fill="rgb(29,29,29)" opacity="0.80"/>
<ellipse cx="432.4" cy="178.4" rx="2.7" ry="0.8" fill="rgb(31,31,31)" opacity="0.80"/>
<ellipse cx="441.2" cy="179.1" rx="1.9" ry="0.5" fill="rgb(19,19,19)" opacity="0.80"/>
<ellipse cx="442.4" cy="180.7" rx="3.0" ry="0.7" fill="rgb(26,26,26)" opacity="0.80"/>
<ellipse cx="434.6" cy="178.6" rx="1.6" ry="0.8" fill="rgb(36,36,36)" opacity="0.80"/>
<rect x="452.9" y="177.6" width="20.8" height="3.5" rx="2" fill="rgb(138,138,138)" opacity="0.64"/>
<ellipse cx="459.1" cy="180.1" rx="2.2" ry="0.7" fill="rgb(85,85,85)" opacity="0.47"/>
<ellipse cx="464.0" cy="180.2" rx="3.2" ry="0.6" fill="rgb(85,85,85)" opacity="0.47"/>
<ellipse cx="459.4" cy="178.0" rx="3.1" ry="0.9" fill="rgb(78,78,78)" opacity="0.47"/>
<ellipse cx="458.0" cy="178.3" rx="3.0" ry="0.9" fill="rgb(87,87,87)" opacity="0.47"/>
<ellipse cx="467.5" cy="179.6" rx="2.3" ry="0.6" fill="rgb(79,79,79)" opacity="0.47"/>
<ellipse cx="463.8" cy="179.5" rx="2.0" ry="0.9" fill="rgb(81,81,81)" opacity="0.47"/>
<ellipse cx="455.4" cy="180.3" rx="3.4" ry="0.7" fill="rgb(101,101,101)" opacity="0.47"/>
<ellipse cx="464.2" cy="179.6" rx="3.5" ry="0.8" fill="rgb(94,94,94)" opacity="0.47"/>
<ellipse cx="459.9" cy="180.4" rx="2.7" ry="0.9" fill="rgb(89,89,89)" opacity="0.47"/>
<ellipse cx="454.9" cy="180.2" rx="2.5" ry="0.8" fill="rgb(94,94,94)" opacity="0.47"/>
<ellipse cx="462.6" cy="178.3" rx="1.6" ry="0.8" fill="rgb(90,90,90)" opacity="0.47"/>
<ellipse cx="465.8" cy="179.1" rx="3.4" ry="0.9" fill="rgb(91,91,91)" opacity="0.47"/>
<ellipse cx="457.2" cy="180.2" rx="1.6" ry="0.7" fill="rgb(93,93,93)" opacity="0.47"/>
<ellipse cx="458.8" cy="178.0" rx="3.4" ry="0.7" fill="rgb(91,91,91)" opacity="0.47"/>
<ellipse cx="469.5" cy="179.9" rx="3.2" ry="0.8" fill="rgb(79,79,79)" opacity="0.47"/>
<ellipse cx="470.5" cy="180.0" rx="2.2" ry="0.9" fill="rgb(97,97,97)" opacity="0.47"/>
<rect x="480.4" y="178.1" width="17.5" height="2.5" rx="2" fill="rgb(150,150,150)" opacity="0.60"/>
<ellipse cx="495.0" cy="180.2" rx="3.0" ry="0.7" fill="rgb(98,98,98)" opacity="0.42"/>
<ellipse cx="483.9" cy="178.2" rx="1.9" ry="0.6" fill="rgb(87,87,87)" opacity="0.42"/>
<ellipse cx="489.1" cy="179.8" rx="2.3" ry="0.8" fill="rgb(101,101,101)" opacity="0.42"/>
<ellipse cx="486.5" cy="179.2" rx="2.3" ry="0.6" fill="rgb(107,107,107)" opacity="0.42"/>
<ellipse cx="494.5" cy="179.8" rx="2.2" ry="0.8" fill="rgb(96,96,96)" opacity="0.42"/>
<ellipse cx="490.5" cy="178.6" rx="1.9" ry="0.9" fill="rgb(85,85,85)" opacity="0.42"/>
<ellipse cx="484.3" cy="179.2" rx="1.9" ry="0.6" fill="rgb(90,90,90)" opacity="0.42"/>
<ellipse cx="487.9" cy="178.5" rx="1.7" ry="0.6" fill="rgb(85,85,85)" opacity="0.42"/>
<ellipse cx="489.0" cy="178.2" rx="2.4" ry="0.7" fill="rgb(85,85,85)" opacity="0.42"/>
<ellipse cx="491.9" cy="178.2" rx="2.3" ry="0.5" fill="rgb(97,97,97)" opacity="0.42"/>
<ellipse cx="495.4" cy="178.6" rx="2.4" ry="0.6" fill="rgb(87,87,87)" opacity="0.42"/>
<ellipse cx="490.8" cy="178.9" rx="1.6" ry="0.9" fill="rgb(88,88,88)" opacity="0.42"/>
<ellipse cx="486.1" cy="180.0" rx="3.4" ry="0.7" fill="rgb(98,98,98)" opacity="0.42"/>
</g>
<g filter="url(#bl1)">
<rect x="353.7" y="197.4" width="22.1" height="9.0" rx="2.5" fill="#3a3a3a"/>
<rect x="355.7" y="198.6" width="18.1" height="4.5" rx="2" fill="#262626"/>
<rect x="377.3" y="197.4" width="21.9" height="9.0" rx="2.5" fill="#3a3a3a"/>
<rect x="379.3" y="198.6" width="17.9" height="4.5" rx="2" fill="#262626"/>
<rect x="400.8" y="197.4" width="22.2" height="9.0" rx="2.5" fill="#3a3a3a"/>
<rect x="402.8" y="198.6" width="18.2" height="4.5" rx="2" fill="#262626"/>
<rect x="425.5" y="197.4" width="22.8" height="9.0" rx="2.5" fill="#3a3a3a"/>
<rect x="427.5" y="198.6" width="18.8" height="4.5" rx="2" fill="#262626"/>
<rect x="451.0" y="197.4" width="24.2" height="9.0" rx="2.5" fill="#3a3a3a"/>
<rect x="453.0" y="198.6" width="20.2" height="4.5" rx="2" fill="#262626"/>
<rect x="477.6" y="197.4" width="23.8" height="9.0" rx="2.5" fill="#3a3a3a"/>
<rect x="479.6" y="198.6" width="19.8" height="4.5" rx="2" fill="#262626"/>
</g>
<g filter="url(#bl2)" opacity="0.35"><path d="M400 209 q10 3 20 1" stroke="#555" stroke-width="1" fill="none"/></g>
<g filter="url(#bl1)">
<rect x="356.5" y="224.9" width="19.3" height="4.8" rx="2" fill="#1e1e1e"/>
<rect x="377.7" y="223.9" width="20.8" height="4.8" rx="2" fill="#1e1e1e"/>
<rect x="403.0" y="223.1" width="23.0" height="4.8" rx="2" fill="#1e1e1e"/>
<rect x="431.2" y="222.6" width="20.1" height="4.8" rx="2" fill="#1e1e1e"/>
<rect x="456.0" y="222.6" width="19.6" height="4.8" rx="2" fill="#1e1e1e"/>
<rect x="480.0" y="222.4" width="19.8" height="4.8" rx="2" fill="#1e1e1e"/>
</g>
<text x="321.00" y="180.20" font-size="7.6" textLength="23.60" lengthAdjust="spacingAndGlyphs" >HIF-1α</text>
<text x="321.00" y="205.00" font-size="7.6" textLength="23.60" lengthAdjust="spacingAndGlyphs" >β-actin</text>
<text x="344.60" y="229.60" font-size="7.6" text-anchor="end" textLength="14.00" lengthAdjust="spacingAndGlyphs" >p38</text>
<text x="322.90" y="246.90" font-size="7.6" textLength="37.90" lengthAdjust="spacingAndGlyphs" >iGP-1 (μM)</text>
<text x="369.60" y="247.20" font-size="7.6" text-anchor="middle" >0</text>
<text x="395.40" y="247.20" font-size="7.6" text-anchor="middle" >0</text>
<text x="418.00" y="247.20" font-size="7.6" text-anchor="middle" >1</text>
<text x="442.70" y="247.20" font-size="7.6" text-anchor="middle" >10</text>
<text x="467.90" y="247.20" font-size="7.6" text-anchor="middle" >100</text>
<text x="492.70" y="247.20" font-size="7.6" text-anchor="middle" >1000</text>
<text x="11.30" y="291.08" font-size="11.0" font-weight="bold" fill="#000" stroke="#000" stroke-width="0.3">G</text>
<line x1="52.40" y1="301.20" x2="52.40" y2="389.90" stroke="#2e2e2e" stroke-width="1.25"/>
<line x1="49.80" y1="389.30" x2="52.40" y2="389.30" stroke="#2e2e2e" stroke-width="1.0"/>
<text x="47.60" y="392.20" font-size="8.2" text-anchor="end" textLength="4.50" lengthAdjust="spacingAndGlyphs" >0</text>
<line x1="49.80" y1="360.10" x2="52.40" y2="360.10" stroke="#2e2e2e" stroke-width="1.0"/>
<text x="47.60" y="363.00" font-size="8.2" text-anchor="end" textLength="9.00" lengthAdjust="spacingAndGlyphs" >50</text>
<line x1="49.80" y1="330.90" x2="52.40" y2="330.90" stroke="#2e2e2e" stroke-width="1.0"/>
<text x="47.60" y="333.80" font-size="8.2" text-anchor="end" textLength="13.30" lengthAdjust="spacingAndGlyphs" >100</text>
<line x1="49.80" y1="301.70" x2="52.40" y2="301.70" stroke="#2e2e2e" stroke-width="1.0"/>
<text x="47.60" y="304.60" font-size="8.2" text-anchor="end" textLength="13.30" lengthAdjust="spacingAndGlyphs" >150</text>
<line x1="52.40" y1="389.30" x2="152.60" y2="389.30" stroke="#2e2e2e" stroke-width="1.25"/>
<rect x="55.60" y="361.30" width="4.90" height="28.00" fill="#c5132e" stroke="#bb0026" stroke-width="0.8"/>
<line x1="58.05" y1="359.40" x2="58.05" y2="360.90" stroke="#4a4a4a" stroke-width="1.0"/>
<line x1="56.45" y1="359.40" x2="59.65" y2="359.40" stroke="#4a4a4a" stroke-width="1.0"/>
<line x1="58.05" y1="389.30" x2="58.05" y2="391.60" stroke="#2e2e2e" stroke-width="1.0"/>
<text x="60.95" y="393.80" font-size="8.2" text-anchor="end" textLength="24.20" lengthAdjust="spacingAndGlyphs" transform="rotate(-90 60.95 393.80)" >DMSO</text>
<rect x="63.70" y="364.40" width="4.90" height="24.90" fill="#c5132e" stroke="#bb0026" stroke-width="0.8"/>
<line x1="66.15" y1="363.00" x2="66.15" y2="364.00" stroke="#4a4a4a" stroke-width="1.0"/>
<line x1="64.55" y1="363.00" x2="67.75" y2="363.00" stroke="#4a4a4a" stroke-width="1.0"/>
<line x1="66.15" y1="389.30" x2="66.15" y2="391.60" stroke="#2e2e2e" stroke-width="1.0"/>
<text x="69.05" y="393.80" font-size="8.2" text-anchor="end" textLength="3.50" lengthAdjust="spacingAndGlyphs" transform="rotate(-90 69.05 393.80)" >0</text>
<rect x="71.80" y="383.10" width="4.90" height="6.20" fill="#c5132e" stroke="#bb0026" stroke-width="0.8"/>
<line x1="74.25" y1="381.40" x2="74.25" y2="382.70" stroke="#4a4a4a" stroke-width="1.0"/>
<line x1="72.65" y1="381.40" x2="75.85" y2="381.40" stroke="#4a4a4a" stroke-width="1.0"/>
<line x1="74.25" y1="389.30" x2="74.25" y2="391.60" stroke="#2e2e2e" stroke-width="1.0"/>
<text x="77.15" y="393.80" font-size="8.2" text-anchor="end" textLength="6.90" lengthAdjust="spacingAndGlyphs" transform="rotate(-90 77.15 393.80)" >10</text>
<rect x="79.90" y="382.40" width="4.90" height="6.90" fill="#c5132e" stroke="#bb0026" stroke-width="0.8"/>
<line x1="82.35" y1="381.00" x2="82.35" y2="382.00" stroke="#4a4a4a" stroke-width="1.0"/>
<line x1="80.75" y1="381.00" x2="83.95" y2="381.00" stroke="#4a4a4a" stroke-width="1.0"/>
<line x1="82.35" y1="389.30" x2="82.35" y2="391.60" stroke="#2e2e2e" stroke-width="1.0"/>
<text x="85.25" y="393.80" font-size="8.2" text-anchor="end" textLength="10.40" lengthAdjust="spacingAndGlyphs" transform="rotate(-90 85.25 393.80)" >100</text>
<rect x="88.00" y="383.40" width="4.90" height="5.90" fill="#c5132e" stroke="#bb0026" stroke-width="0.8"/>
<line x1="90.45" y1="380.00" x2="90.45" y2="383.00" stroke="#4a4a4a" stroke-width="1.0"/>
<line x1="88.85" y1="380.00" x2="92.05" y2="380.00" stroke="#4a4a4a" stroke-width="1.0"/>
<line x1="90.45" y1="389.30" x2="90.45" y2="391.60" stroke="#2e2e2e" stroke-width="1.0"/>
<text x="93.35" y="393.80" font-size="8.2" text-anchor="end" textLength="13.80" lengthAdjust="spacingAndGlyphs" transform="rotate(-90 93.35 393.80)" >1000</text>
<rect x="96.10" y="382.00" width="4.90" height="7.30" fill="#c5132e" stroke="#bb0026" stroke-width="0.8"/>
<line x1="98.55" y1="380.30" x2="98.55" y2="381.60" stroke="#4a4a4a" stroke-width="1.0"/>
<line x1="96.95" y1="380.30" x2="100.15" y2="380.30" stroke="#4a4a4a" stroke-width="1.0"/>
<line x1="98.55" y1="389.30" x2="98.55" y2="391.60" stroke="#2e2e2e" stroke-width="1.0"/>
<text x="101.45" y="393.80" font-size="8.2" text-anchor="end" textLength="8.20" lengthAdjust="spacingAndGlyphs" transform="rotate(-90 101.45 393.80)" >MT</text>
<rect x="104.20" y="345.80" width="4.90" height="43.50" fill="#16558b" stroke="#003f79" stroke-width="0.8"/>
<line x1="106.65" y1="340.30" x2="106.65" y2="345.40" stroke="#4a4a4a" stroke-width="1.0"/>
<line x1="105.05" y1="340.30" x2="108.25" y2="340.30" stroke="#4a4a4a" stroke-width="1.0"/>
<line x1="106.65" y1="389.30" x2="106.65" y2="391.60" stroke="#2e2e2e" stroke-width="1.0"/>
<text x="109.55" y="393.80" font-size="8.2" text-anchor="end" textLength="24.20" lengthAdjust="spacingAndGlyphs" transform="rotate(-90 109.55 393.80)" >DMSO</text>
<rect x="112.30" y="343.30" width="4.90" height="46.00" fill="#16558b" stroke="#003f79" stroke-width="0.8"/>
<line x1="114.75" y1="334.80" x2="114.75" y2="342.90" stroke="#4a4a4a" stroke-width="1.0"/>
<line x1="113.15" y1="334.80" x2="116.35" y2="334.80" stroke="#4a4a4a" stroke-width="1.0"/>
<line x1="114.75" y1="389.30" x2="114.75" y2="391.60" stroke="#2e2e2e" stroke-width="1.0"/>
<text x="117.65" y="393.80" font-size="8.2" text-anchor="end" textLength="3.50" lengthAdjust="spacingAndGlyphs" transform="rotate(-90 117.65 393.80)" >0</text>
<rect x="120.40" y="362.30" width="4.90" height="27.00" fill="#16558b" stroke="#003f79" stroke-width="0.8"/>
<line x1="122.85" y1="355.20" x2="122.85" y2="361.90" stroke="#4a4a4a" stroke-width="1.0"/>
<line x1="121.25" y1="355.20" x2="124.45" y2="355.20" stroke="#4a4a4a" stroke-width="1.0"/>
<line x1="122.85" y1="389.30" x2="122.85" y2="391.60" stroke="#2e2e2e" stroke-width="1.0"/>
<text x="125.75" y="393.80" font-size="8.2" text-anchor="end" textLength="6.90" lengthAdjust="spacingAndGlyphs" transform="rotate(-90 125.75 393.80)" >10</text>
<rect x="128.50" y="359.60" width="4.90" height="29.70" fill="#16558b" stroke="#003f79" stroke-width="0.8"/>
<line x1="130.95" y1="352.40" x2="130.95" y2="359.20" stroke="#4a4a4a" stroke-width="1.0"/>
<line x1="129.35" y1="352.40" x2="132.55" y2="352.40" stroke="#4a4a4a" stroke-width="1.0"/>
<line x1="130.95" y1="389.30" x2="130.95" y2="391.60" stroke="#2e2e2e" stroke-width="1.0"/>
<text x="133.85" y="393.80" font-size="8.2" text-anchor="end" textLength="10.40" lengthAdjust="spacingAndGlyphs" transform="rotate(-90 133.85 393.80)" >100</text>
<rect x="136.60" y="374.00" width="4.90" height="15.30" fill="#16558b" stroke="#003f79" stroke-width="0.8"/>
<line x1="139.05" y1="368.70" x2="139.05" y2="373.60" stroke="#4a4a4a" stroke-width="1.0"/>
<line x1="137.45" y1="368.70" x2="140.65" y2="368.70" stroke="#4a4a4a" stroke-width="1.0"/>
<line x1="139.05" y1="389.30" x2="139.05" y2="391.60" stroke="#2e2e2e" stroke-width="1.0"/>
<text x="141.95" y="393.80" font-size="8.2" text-anchor="end" textLength="13.80" lengthAdjust="spacingAndGlyphs" transform="rotate(-90 141.95 393.80)" >1000</text>
<rect x="144.70" y="361.30" width="4.90" height="28.00" fill="#16558b" stroke="#003f79" stroke-width="0.8"/>
<line x1="147.15" y1="353.90" x2="147.15" y2="360.90" stroke="#4a4a4a" stroke-width="1.0"/>
<line x1="145.55" y1="353.90" x2="148.75" y2="353.90" stroke="#4a4a4a" stroke-width="1.0"/>
<line x1="147.15" y1="389.30" x2="147.15" y2="391.60" stroke="#2e2e2e" stroke-width="1.0"/>
<text x="150.05" y="393.80" font-size="8.2" text-anchor="end" textLength="8.20" lengthAdjust="spacingAndGlyphs" transform="rotate(-90 150.05 393.80)" >MT</text>
<path d="M66.20 362.00 L66.20 358.80 L74.20 358.80 L74.20 379.90" stroke="#444444" stroke-width="0.9" fill="none" />
<path d="M66.20 346.00 L66.20 344.40 L82.40 344.40 L82.40 379.50" stroke="#444444" stroke-width="0.9" fill="none" />
<path d="M66.20 331.70 L66.20 330.20 L90.50 330.20 L90.50 378.50" stroke="#444444" stroke-width="0.9" fill="none" />
<path d="M66.20 328.00 L66.20 316.40 L98.50 316.40 L98.50 378.00" stroke="#444444" stroke-width="0.9" fill="none" />
<text x="70.40" y="360.00" font-size="10" text-anchor="middle" textLength="15.60" lengthAdjust="spacingAndGlyphs" font-weight="bold" fill="#111" >****</text>
<text x="74.60" y="345.50" font-size="10" text-anchor="middle" textLength="15.60" lengthAdjust="spacingAndGlyphs" font-weight="bold" fill="#111" >****</text>
<text x="78.40" y="331.50" font-size="10" text-anchor="middle" textLength="7.80" lengthAdjust="spacingAndGlyphs" font-weight="bold" fill="#111" >**</text>
<text x="82.00" y="317.30" font-size="10" text-anchor="middle" textLength="7.80" lengthAdjust="spacingAndGlyphs" font-weight="bold" fill="#111" >**</text>
<path d="M114.40 332.00 L114.40 329.80 L122.40 329.80 L122.40 354.00" stroke="#444444" stroke-width="0.9" fill="none" />
<path d="M114.40 318.60 L114.40 315.40 L130.90 315.40 L130.90 351.00" stroke="#444444" stroke-width="0.9" fill="none" />
<path d="M114.40 308.00 L114.40 302.30 L138.70 302.30 L138.70 367.00" stroke="#444444" stroke-width="0.9" fill="none" />
<text x="118.00" y="331.50" font-size="10" text-anchor="middle" textLength="7.80" lengthAdjust="spacingAndGlyphs" font-weight="bold" fill="#111" >**</text>
<text x="122.80" y="316.00" font-size="10" text-anchor="middle" textLength="3.90" lengthAdjust="spacingAndGlyphs" font-weight="bold" fill="#111" >*</text>
<text x="126.90" y="303.50" font-size="10" text-anchor="middle" textLength="7.80" lengthAdjust="spacingAndGlyphs" font-weight="bold" fill="#111" >**</text>
<text x="18.00" y="345.50" font-size="9.6" text-anchor="middle" textLength="50.90" lengthAdjust="spacingAndGlyphs" transform="rotate(-90 18.00 345.50)" >Mean MitoSOX</text>
<text x="29.30" y="345.50" font-size="9.6" text-anchor="middle" textLength="59.10" lengthAdjust="spacingAndGlyphs" transform="rotate(-90 29.30 345.50)" >fluorescence (AU)</text>
<text x="84.80" y="429.60" font-size="9" textLength="35.60" lengthAdjust="spacingAndGlyphs" >iGP-1 (μM)</text>
<text x="172.30" y="291.88" font-size="11.0" font-weight="bold" fill="#000" stroke="#000" stroke-width="0.3">H</text>
<line x1="188.10" y1="299.90" x2="188.10" y2="388.50" stroke="#2e2e2e" stroke-width="1.25"/>
<line x1="185.50" y1="387.90" x2="188.10" y2="387.90" stroke="#2e2e2e" stroke-width="1.0"/>
<text x="183.30" y="390.80" font-size="8.2" text-anchor="end" textLength="4.50" lengthAdjust="spacingAndGlyphs" >0</text>
<line x1="185.50" y1="370.40" x2="188.10" y2="370.40" stroke="#2e2e2e" stroke-width="1.0"/>
<text x="183.30" y="373.30" font-size="8.2" text-anchor="end" textLength="9.00" lengthAdjust="spacingAndGlyphs" >20</text>
<line x1="185.50" y1="352.90" x2="188.10" y2="352.90" stroke="#2e2e2e" stroke-width="1.0"/>
<text x="183.30" y="355.80" font-size="8.2" text-anchor="end" textLength="9.00" lengthAdjust="spacingAndGlyphs" >40</text>
<line x1="185.50" y1="335.40" x2="188.10" y2="335.40" stroke="#2e2e2e" stroke-width="1.0"/>
<text x="183.30" y="338.30" font-size="8.2" text-anchor="end" textLength="9.00" lengthAdjust="spacingAndGlyphs" >60</text>
<line x1="185.50" y1="317.90" x2="188.10" y2="317.90" stroke="#2e2e2e" stroke-width="1.0"/>
<text x="183.30" y="320.80" font-size="8.2" text-anchor="end" textLength="9.00" lengthAdjust="spacingAndGlyphs" >80</text>
<line x1="185.50" y1="300.40" x2="188.10" y2="300.40" stroke="#2e2e2e" stroke-width="1.0"/>
<text x="183.30" y="303.30" font-size="8.2" text-anchor="end" textLength="13.00" lengthAdjust="spacingAndGlyphs" >100</text>
<line x1="188.10" y1="387.90" x2="279.80" y2="387.90" stroke="#2e2e2e" stroke-width="1.25"/>
<rect x="191.60" y="332.30" width="5.00" height="55.60" fill="#c5132e" stroke="#bb0026" stroke-width="0.8"/>
<line x1="194.10" y1="324.90" x2="194.10" y2="331.90" stroke="#4a4a4a" stroke-width="1.0"/>
<line x1="192.50" y1="324.90" x2="195.70" y2="324.90" stroke="#4a4a4a" stroke-width="1.0"/>
<line x1="194.10" y1="387.90" x2="194.10" y2="390.20" stroke="#2e2e2e" stroke-width="1.0"/>
<text x="196.90" y="394.20" font-size="8.4" text-anchor="end" textLength="3.95" lengthAdjust="spacingAndGlyphs" transform="rotate(-90 196.90 394.20)" >0</text>
<rect x="200.55" y="336.67" width="5.00" height="51.23" fill="#c5132e" stroke="#bb0026" stroke-width="0.8"/>
<line x1="203.05" y1="332.77" x2="203.05" y2="336.27" stroke="#4a4a4a" stroke-width="1.0"/>
<line x1="201.45" y1="332.77" x2="204.65" y2="332.77" stroke="#4a4a4a" stroke-width="1.0"/>
<line x1="203.05" y1="387.90" x2="203.05" y2="390.20" stroke="#2e2e2e" stroke-width="1.0"/>
<text x="205.85" y="394.20" font-size="8.4" text-anchor="end" textLength="3.95" lengthAdjust="spacingAndGlyphs" transform="rotate(-90 205.85 394.20)" >1</text>
<rect x="209.50" y="330.55" width="5.00" height="57.35" fill="#c5132e" stroke="#bb0026" stroke-width="0.8"/>
<line x1="212.00" y1="322.27" x2="212.00" y2="330.15" stroke="#4a4a4a" stroke-width="1.0"/>
<line x1="210.40" y1="322.27" x2="213.60" y2="322.27" stroke="#4a4a4a" stroke-width="1.0"/>
<line x1="212.00" y1="387.90" x2="212.00" y2="390.20" stroke="#2e2e2e" stroke-width="1.0"/>
<text x="214.80" y="394.20" font-size="8.4" text-anchor="end" textLength="7.90" lengthAdjust="spacingAndGlyphs" transform="rotate(-90 214.80 394.20)" >10</text>
<rect x="218.45" y="330.11" width="5.00" height="57.79" fill="#c5132e" stroke="#bb0026" stroke-width="0.8"/>
<line x1="220.95" y1="324.90" x2="220.95" y2="329.71" stroke="#4a4a4a" stroke-width="1.0"/>
<line x1="219.35" y1="324.90" x2="222.55" y2="324.90" stroke="#4a4a4a" stroke-width="1.0"/>
<line x1="220.95" y1="387.90" x2="220.95" y2="390.20" stroke="#2e2e2e" stroke-width="1.0"/>
<text x="223.75" y="394.20" font-size="8.4" text-anchor="end" textLength="11.85" lengthAdjust="spacingAndGlyphs" transform="rotate(-90 223.75 394.20)" >100</text>
<rect x="227.40" y="305.17" width="5.00" height="82.72" fill="#c5132e" stroke="#bb0026" stroke-width="0.8"/>
<line x1="229.90" y1="302.59" x2="229.90" y2="304.77" stroke="#4a4a4a" stroke-width="1.0"/>
<line x1="228.30" y1="302.59" x2="231.50" y2="302.59" stroke="#4a4a4a" stroke-width="1.0"/>
<line x1="229.90" y1="387.90" x2="229.90" y2="390.20" stroke="#2e2e2e" stroke-width="1.0"/>
<text x="232.70" y="394.20" font-size="8.4" text-anchor="end" textLength="15.80" lengthAdjust="spacingAndGlyphs" transform="rotate(-90 232.70 394.20)" >1000</text>
<rect x="236.35" y="355.92" width="5.00" height="31.98" fill="#16558b" stroke="#003f79" stroke-width="0.8"/>
<line x1="238.85" y1="349.40" x2="238.85" y2="355.52" stroke="#4a4a4a" stroke-width="1.0"/>
<line x1="237.25" y1="349.40" x2="240.45" y2="349.40" stroke="#4a4a4a" stroke-width="1.0"/>
<line x1="238.85" y1="387.90" x2="238.85" y2="390.20" stroke="#2e2e2e" stroke-width="1.0"/>
<text x="241.65" y="394.20" font-size="8.4" text-anchor="end" textLength="3.95" lengthAdjust="spacingAndGlyphs" transform="rotate(-90 241.65 394.20)" >0</text>
<rect x="245.30" y="361.61" width="5.00" height="26.29" fill="#16558b" stroke="#003f79" stroke-width="0.8"/>
<line x1="247.80" y1="357.71" x2="247.80" y2="361.21" stroke="#4a4a4a" stroke-width="1.0"/>
<line x1="246.20" y1="357.71" x2="249.40" y2="357.71" stroke="#4a4a4a" stroke-width="1.0"/>
<line x1="247.80" y1="387.90" x2="247.80" y2="390.20" stroke="#2e2e2e" stroke-width="1.0"/>
<text x="250.60" y="394.20" font-size="8.4" text-anchor="end" textLength="3.95" lengthAdjust="spacingAndGlyphs" transform="rotate(-90 250.60 394.20)" >1</text>
<rect x="254.25" y="352.42" width="5.00" height="35.48" fill="#16558b" stroke="#003f79" stroke-width="0.8"/>
<line x1="256.75" y1="345.90" x2="256.75" y2="352.02" stroke="#4a4a4a" stroke-width="1.0"/>
<line x1="255.15" y1="345.90" x2="258.35" y2="345.90" stroke="#4a4a4a" stroke-width="1.0"/>
<line x1="256.75" y1="387.90" x2="256.75" y2="390.20" stroke="#2e2e2e" stroke-width="1.0"/>
<text x="259.55" y="394.20" font-size="8.4" text-anchor="end" textLength="7.90" lengthAdjust="spacingAndGlyphs" transform="rotate(-90 259.55 394.20)" >10</text>
<rect x="263.20" y="349.36" width="5.00" height="38.54" fill="#16558b" stroke="#003f79" stroke-width="0.8"/>
<line x1="265.70" y1="342.40" x2="265.70" y2="348.96" stroke="#4a4a4a" stroke-width="1.0"/>
<line x1="264.10" y1="342.40" x2="267.30" y2="342.40" stroke="#4a4a4a" stroke-width="1.0"/>
<line x1="265.70" y1="387.90" x2="265.70" y2="390.20" stroke="#2e2e2e" stroke-width="1.0"/>
<text x="268.50" y="394.20" font-size="8.4" text-anchor="end" textLength="11.85" lengthAdjust="spacingAndGlyphs" transform="rotate(-90 268.50 394.20)" >100</text>
<rect x="272.15" y="313.49" width="5.00" height="74.41" fill="#16558b" stroke="#003f79" stroke-width="0.8"/>
<line x1="274.65" y1="311.77" x2="274.65" y2="313.09" stroke="#4a4a4a" stroke-width="1.0"/>
<line x1="273.05" y1="311.77" x2="276.25" y2="311.77" stroke="#4a4a4a" stroke-width="1.0"/>
<line x1="274.65" y1="387.90" x2="274.65" y2="390.20" stroke="#2e2e2e" stroke-width="1.0"/>
<text x="277.45" y="394.20" font-size="8.4" text-anchor="end" textLength="15.80" lengthAdjust="spacingAndGlyphs" transform="rotate(-90 277.45 394.20)" >1000</text>
<path d="M238.80 347.20 L238.80 304.50 L274.60 304.50 L274.60 308.80" stroke="#444444" stroke-width="0.9" fill="none" />
<text x="256.10" y="301.40" font-size="10" text-anchor="middle" textLength="3.90" lengthAdjust="spacingAndGlyphs" font-weight="bold" fill="#111" >*</text>
<text x="169.30" y="343.70" font-size="9.6" text-anchor="middle" textLength="39.60" lengthAdjust="spacingAndGlyphs" transform="rotate(-90 169.30 343.70)" >% apoptosis</text>
<text x="215.80" y="421.30" font-size="9" textLength="36.90" lengthAdjust="spacingAndGlyphs" >iGP-1 (μM)</text>
<text x="381.40" y="292.08" font-size="11.0" font-weight="bold" fill="#000" stroke="#000" stroke-width="0.3">I</text>
<line x1="406.90" y1="300.80" x2="406.90" y2="389.80" stroke="#2e2e2e" stroke-width="1.25"/>
<line x1="404.30" y1="389.20" x2="406.90" y2="389.20" stroke="#2e2e2e" stroke-width="1.0"/>
<text x="401.80" y="392.10" font-size="8.2" text-anchor="end" textLength="4.50" lengthAdjust="spacingAndGlyphs" >0</text>
<line x1="404.30" y1="371.62" x2="406.90" y2="371.62" stroke="#2e2e2e" stroke-width="1.0"/>
<text x="401.80" y="374.52" font-size="8.2" text-anchor="end" textLength="9.00" lengthAdjust="spacingAndGlyphs" >20</text>
<line x1="404.30" y1="354.04" x2="406.90" y2="354.04" stroke="#2e2e2e" stroke-width="1.0"/>
<text x="401.80" y="356.94" font-size="8.2" text-anchor="end" textLength="9.00" lengthAdjust="spacingAndGlyphs" >40</text>
<line x1="404.30" y1="336.46" x2="406.90" y2="336.46" stroke="#2e2e2e" stroke-width="1.0"/>
<text x="401.80" y="339.36" font-size="8.2" text-anchor="end" textLength="9.00" lengthAdjust="spacingAndGlyphs" >60</text>
<line x1="404.30" y1="318.88" x2="406.90" y2="318.88" stroke="#2e2e2e" stroke-width="1.0"/>
<text x="401.80" y="321.78" font-size="8.2" text-anchor="end" textLength="9.00" lengthAdjust="spacingAndGlyphs" >80</text>
<line x1="404.30" y1="301.30" x2="406.90" y2="301.30" stroke="#2e2e2e" stroke-width="1.0"/>
<text x="401.80" y="304.20" font-size="8.2" text-anchor="end" textLength="13.30" lengthAdjust="spacingAndGlyphs" >100</text>
<line x1="406.90" y1="389.20" x2="498.40" y2="389.20" stroke="#2e2e2e" stroke-width="1.25"/>
<rect x="410.30" y="340.38" width="5.00" height="48.82" fill="#c5132e" stroke="#bb0026" stroke-width="0.8"/>
<line x1="412.80" y1="332.94" x2="412.80" y2="339.98" stroke="#4a4a4a" stroke-width="1.0"/>
<line x1="411.20" y1="332.94" x2="414.40" y2="332.94" stroke="#4a4a4a" stroke-width="1.0"/>
<line x1="412.80" y1="389.20" x2="412.80" y2="391.50" stroke="#2e2e2e" stroke-width="1.0"/>
<text x="415.60" y="397.80" font-size="8.4" text-anchor="end" textLength="3.95" lengthAdjust="spacingAndGlyphs" transform="rotate(-90 415.60 397.80)" >0</text>
<rect x="419.10" y="342.57" width="5.00" height="46.63" fill="#c5132e" stroke="#bb0026" stroke-width="0.8"/>
<line x1="421.60" y1="336.46" x2="421.60" y2="342.17" stroke="#4a4a4a" stroke-width="1.0"/>
<line x1="420.00" y1="336.46" x2="423.20" y2="336.46" stroke="#4a4a4a" stroke-width="1.0"/>
<line x1="421.60" y1="389.20" x2="421.60" y2="391.50" stroke="#2e2e2e" stroke-width="1.0"/>
<text x="424.40" y="397.80" font-size="8.4" text-anchor="end" textLength="3.95" lengthAdjust="spacingAndGlyphs" transform="rotate(-90 424.40 397.80)" >1</text>
<rect x="427.90" y="340.38" width="5.00" height="48.82" fill="#c5132e" stroke="#bb0026" stroke-width="0.8"/>
<line x1="430.40" y1="333.38" x2="430.40" y2="339.98" stroke="#4a4a4a" stroke-width="1.0"/>
<line x1="428.80" y1="333.38" x2="432.00" y2="333.38" stroke="#4a4a4a" stroke-width="1.0"/>
<line x1="430.40" y1="389.20" x2="430.40" y2="391.50" stroke="#2e2e2e" stroke-width="1.0"/>
<text x="433.20" y="397.80" font-size="8.4" text-anchor="end" textLength="7.90" lengthAdjust="spacingAndGlyphs" transform="rotate(-90 433.20 397.80)" >10</text>
<rect x="436.70" y="338.18" width="5.00" height="51.02" fill="#c5132e" stroke="#bb0026" stroke-width="0.8"/>
<line x1="439.20" y1="332.06" x2="439.20" y2="337.78" stroke="#4a4a4a" stroke-width="1.0"/>
<line x1="437.60" y1="332.06" x2="440.80" y2="332.06" stroke="#4a4a4a" stroke-width="1.0"/>
<line x1="439.20" y1="389.20" x2="439.20" y2="391.50" stroke="#2e2e2e" stroke-width="1.0"/>
<text x="442.00" y="397.80" font-size="8.4" text-anchor="end" textLength="11.85" lengthAdjust="spacingAndGlyphs" transform="rotate(-90 442.00 397.80)" >100</text>
<rect x="445.50" y="318.40" width="5.00" height="70.80" fill="#c5132e" stroke="#bb0026" stroke-width="0.8"/>
<line x1="448.00" y1="316.24" x2="448.00" y2="318.00" stroke="#4a4a4a" stroke-width="1.0"/>
<line x1="446.40" y1="316.24" x2="449.60" y2="316.24" stroke="#4a4a4a" stroke-width="1.0"/>
<line x1="448.00" y1="389.20" x2="448.00" y2="391.50" stroke="#2e2e2e" stroke-width="1.0"/>
<text x="450.80" y="397.80" font-size="8.4" text-anchor="end" textLength="15.80" lengthAdjust="spacingAndGlyphs" transform="rotate(-90 450.80 397.80)" >1000</text>
<rect x="454.30" y="354.44" width="5.00" height="34.76" fill="#16558b" stroke="#003f79" stroke-width="0.8"/>
<line x1="456.80" y1="349.21" x2="456.80" y2="354.04" stroke="#4a4a4a" stroke-width="1.0"/>
<line x1="455.20" y1="349.21" x2="458.40" y2="349.21" stroke="#4a4a4a" stroke-width="1.0"/>
<line x1="456.80" y1="389.20" x2="456.80" y2="391.50" stroke="#2e2e2e" stroke-width="1.0"/>
<text x="459.60" y="397.80" font-size="8.4" text-anchor="end" textLength="3.95" lengthAdjust="spacingAndGlyphs" transform="rotate(-90 459.60 397.80)" >0</text>
<rect x="463.10" y="357.08" width="5.00" height="32.12" fill="#16558b" stroke="#003f79" stroke-width="0.8"/>
<line x1="465.60" y1="350.52" x2="465.60" y2="356.68" stroke="#4a4a4a" stroke-width="1.0"/>
<line x1="464.00" y1="350.52" x2="467.20" y2="350.52" stroke="#4a4a4a" stroke-width="1.0"/>
<line x1="465.60" y1="389.20" x2="465.60" y2="391.50" stroke="#2e2e2e" stroke-width="1.0"/>
<text x="468.40" y="397.80" font-size="8.4" text-anchor="end" textLength="3.95" lengthAdjust="spacingAndGlyphs" transform="rotate(-90 468.40 397.80)" >1</text>
<rect x="471.90" y="357.08" width="5.00" height="32.12" fill="#16558b" stroke="#003f79" stroke-width="0.8"/>
<line x1="474.40" y1="350.08" x2="474.40" y2="356.68" stroke="#4a4a4a" stroke-width="1.0"/>
<line x1="472.80" y1="350.08" x2="476.00" y2="350.08" stroke="#4a4a4a" stroke-width="1.0"/>
<line x1="474.40" y1="389.20" x2="474.40" y2="391.50" stroke="#2e2e2e" stroke-width="1.0"/>
<text x="477.20" y="397.80" font-size="8.4" text-anchor="end" textLength="7.90" lengthAdjust="spacingAndGlyphs" transform="rotate(-90 477.20 397.80)" >10</text>
<rect x="480.70" y="354.88" width="5.00" height="34.32" fill="#16558b" stroke="#003f79" stroke-width="0.8"/>
<line x1="483.20" y1="345.69" x2="483.20" y2="354.48" stroke="#4a4a4a" stroke-width="1.0"/>
<line x1="481.60" y1="345.69" x2="484.80" y2="345.69" stroke="#4a4a4a" stroke-width="1.0"/>
<line x1="483.20" y1="389.20" x2="483.20" y2="391.50" stroke="#2e2e2e" stroke-width="1.0"/>
<text x="486.00" y="397.80" font-size="8.4" text-anchor="end" textLength="11.85" lengthAdjust="spacingAndGlyphs" transform="rotate(-90 486.00 397.80)" >100</text>
<rect x="489.50" y="329.83" width="5.00" height="59.37" fill="#16558b" stroke="#003f79" stroke-width="0.8"/>
<line x1="492.00" y1="325.47" x2="492.00" y2="329.43" stroke="#4a4a4a" stroke-width="1.0"/>
<line x1="490.40" y1="325.47" x2="493.60" y2="325.47" stroke="#4a4a4a" stroke-width="1.0"/>
<line x1="492.00" y1="389.20" x2="492.00" y2="391.50" stroke="#2e2e2e" stroke-width="1.0"/>
<text x="494.80" y="397.80" font-size="8.4" text-anchor="end" textLength="15.80" lengthAdjust="spacingAndGlyphs" transform="rotate(-90 494.80 397.80)" >1000</text>
<path d="M456.80 342.00 L456.80 300.80 L492.00 300.80 L492.00 318.00" stroke="#444444" stroke-width="0.9" fill="none" />
<text x="473.80" y="301.80" font-size="10" text-anchor="middle" textLength="3.90" lengthAdjust="spacingAndGlyphs" font-weight="bold" fill="#111" >*</text>
<text x="387.50" y="345.00" font-size="9.6" text-anchor="middle" textLength="39.50" lengthAdjust="spacingAndGlyphs" transform="rotate(-90 387.50 345.00)" >% apoptosis</text>
<text x="11.30" y="443.88" font-size="11.0" font-weight="bold" fill="#000" stroke="#000" stroke-width="0.3">J</text>
<line x1="50.50" y1="453.30" x2="50.50" y2="542.10" stroke="#2e2e2e" stroke-width="1.25"/>
<line x1="47.90" y1="541.50" x2="50.50" y2="541.50" stroke="#2e2e2e" stroke-width="1.0"/>
<text x="45.90" y="544.40" font-size="8.2" text-anchor="end" textLength="11.60" lengthAdjust="spacingAndGlyphs" >0.0</text>
<line x1="47.90" y1="512.27" x2="50.50" y2="512.27" stroke="#2e2e2e" stroke-width="1.0"/>
<text x="45.90" y="515.17" font-size="8.2" text-anchor="end" textLength="11.60" lengthAdjust="spacingAndGlyphs" >0.5</text>
<line x1="47.90" y1="483.03" x2="50.50" y2="483.03" stroke="#2e2e2e" stroke-width="1.0"/>
<text x="45.90" y="485.93" font-size="8.2" text-anchor="end" textLength="11.60" lengthAdjust="spacingAndGlyphs" >1.0</text>
<line x1="47.90" y1="453.80" x2="50.50" y2="453.80" stroke="#2e2e2e" stroke-width="1.0"/>
<text x="45.90" y="456.70" font-size="8.2" text-anchor="end" textLength="11.60" lengthAdjust="spacingAndGlyphs" >1.5</text>
<line x1="50.50" y1="541.50" x2="142.70" y2="541.50" stroke="#2e2e2e" stroke-width="1.25"/>
<rect x="56.10" y="483.60" width="8.90" height="57.90" fill="#c5132e" stroke="#bb0026" stroke-width="0.8"/>
<line x1="60.55" y1="541.50" x2="60.55" y2="544.10" stroke="#2e2e2e" stroke-width="1.0"/>
<text x="63.25" y="554.40" font-size="7.8" text-anchor="end" transform="rotate(-45 63.25 554.40)" >DMSO</text>
<rect x="70.40" y="494.20" width="8.90" height="47.30" fill="#c5132e" stroke="#bb0026" stroke-width="0.8"/>
<line x1="74.85" y1="486.60" x2="74.85" y2="493.80" stroke="#4a4a4a" stroke-width="1.0"/>
<line x1="72.65" y1="486.60" x2="77.05" y2="486.60" stroke="#4a4a4a" stroke-width="1.0"/>
<line x1="74.85" y1="541.50" x2="74.85" y2="544.10" stroke="#2e2e2e" stroke-width="1.0"/>
<text x="77.55" y="554.40" font-size="7.8" text-anchor="end" transform="rotate(-45 77.55 554.40)" >100</text>
<rect x="84.90" y="510.80" width="8.90" height="30.70" fill="#c5132e" stroke="#bb0026" stroke-width="0.8"/>
<line x1="89.35" y1="506.50" x2="89.35" y2="510.40" stroke="#4a4a4a" stroke-width="1.0"/>
<line x1="87.15" y1="506.50" x2="91.55" y2="506.50" stroke="#4a4a4a" stroke-width="1.0"/>
<line x1="89.35" y1="541.50" x2="89.35" y2="544.10" stroke="#2e2e2e" stroke-width="1.0"/>
<text x="92.05" y="554.40" font-size="7.8" text-anchor="end" transform="rotate(-45 92.05 554.40)" >1000</text>
<rect x="99.30" y="469.70" width="8.90" height="71.80" fill="#16558b" stroke="#003f79" stroke-width="0.8"/>
<line x1="103.75" y1="466.50" x2="103.75" y2="469.30" stroke="#4a4a4a" stroke-width="1.0"/>
<line x1="101.55" y1="466.50" x2="105.95" y2="466.50" stroke="#4a4a4a" stroke-width="1.0"/>
<line x1="103.75" y1="541.50" x2="103.75" y2="544.10" stroke="#2e2e2e" stroke-width="1.0"/>
<text x="106.45" y="554.40" font-size="7.8" text-anchor="end" transform="rotate(-45 106.45 554.40)" >DMSO</text>
<rect x="113.80" y="485.40" width="8.90" height="56.10" fill="#16558b" stroke="#003f79" stroke-width="0.8"/>
<line x1="118.25" y1="479.70" x2="118.25" y2="485.00" stroke="#4a4a4a" stroke-width="1.0"/>
<line x1="116.05" y1="479.70" x2="120.45" y2="479.70" stroke="#4a4a4a" stroke-width="1.0"/>
<line x1="118.25" y1="541.50" x2="118.25" y2="544.10" stroke="#2e2e2e" stroke-width="1.0"/>
<text x="120.95" y="554.40" font-size="7.8" text-anchor="end" transform="rotate(-45 120.95 554.40)" >100</text>
<rect x="128.10" y="506.90" width="8.90" height="34.60" fill="#16558b" stroke="#003f79" stroke-width="0.8"/>
<line x1="132.55" y1="502.30" x2="132.55" y2="506.50" stroke="#4a4a4a" stroke-width="1.0"/>
<line x1="130.35" y1="502.30" x2="134.75" y2="502.30" stroke="#4a4a4a" stroke-width="1.0"/>
<line x1="132.55" y1="541.50" x2="132.55" y2="544.10" stroke="#2e2e2e" stroke-width="1.0"/>
<text x="135.25" y="554.40" font-size="7.8" text-anchor="end" transform="rotate(-45 135.25 554.40)" >1000</text>
<path d="M60.50 465.80 L60.50 453.80 L102.90 453.80 L102.90 458.50" stroke="#444444" stroke-width="0.9" fill="none" />
<path d="M104.70 458.50 L104.70 453.80 L132.60 453.80 L132.60 488.90" stroke="#444444" stroke-width="0.9" fill="none" />
<path d="M60.50 479.20 L60.50 473.50 L89.40 473.50 L89.40 504.60" stroke="#444444" stroke-width="0.9" fill="none" />
<text x="80.90" y="450.20" font-size="10" text-anchor="middle" textLength="3.90" lengthAdjust="spacingAndGlyphs" font-weight="bold" fill="#111" >*</text>
<text x="118.50" y="450.20" font-size="10" text-anchor="middle" textLength="3.90" lengthAdjust="spacingAndGlyphs" font-weight="bold" fill="#111" >*</text>
<text x="74.20" y="470.40" font-size="10" text-anchor="middle" textLength="3.90" lengthAdjust="spacingAndGlyphs" font-weight="bold" fill="#111" >*</text>
<text x="17.30" y="493.50" font-size="9.6" text-anchor="middle" textLength="72.00" lengthAdjust="spacingAndGlyphs" transform="rotate(-90 17.30 493.50)" >Fold change to DMSO</text>
<text x="27.60" y="493.70" font-size="8.6" text-anchor="middle" transform="rotate(-90 27.60 493.70)" letter-spacing="-0.25">(21% O<tspan font-size="5.5" dy="1.8">2</tspan><tspan dy="-1.8">)</tspan></text>
<text x="78.40" y="585.80" font-size="9" textLength="37.00" lengthAdjust="spacingAndGlyphs" >iGP-1 (μM)</text>
<text x="172.10" y="444.78" font-size="11.0" font-weight="bold" fill="#000" stroke="#000" stroke-width="0.3">K</text>
<line x1="179.00" y1="453.40" x2="179.00" y2="541.80" stroke="#2e2e2e" stroke-width="1.25"/>
<line x1="176.40" y1="541.20" x2="179.00" y2="541.20" stroke="#2e2e2e" stroke-width="1.0"/>
<text x="174.30" y="544.10" font-size="8.2" text-anchor="end" textLength="4.50" lengthAdjust="spacingAndGlyphs" >0</text>
<line x1="176.40" y1="523.74" x2="179.00" y2="523.74" stroke="#2e2e2e" stroke-width="1.0"/>
<text x="174.30" y="526.64" font-size="8.2" text-anchor="end" textLength="13.40" lengthAdjust="spacingAndGlyphs" >100</text>
<line x1="176.40" y1="506.28" x2="179.00" y2="506.28" stroke="#2e2e2e" stroke-width="1.0"/>
<text x="174.30" y="509.18" font-size="8.2" text-anchor="end" textLength="13.40" lengthAdjust="spacingAndGlyphs" >200</text>
<line x1="176.40" y1="488.82" x2="179.00" y2="488.82" stroke="#2e2e2e" stroke-width="1.0"/>
<text x="174.30" y="491.72" font-size="8.2" text-anchor="end" textLength="13.40" lengthAdjust="spacingAndGlyphs" >300</text>
<line x1="176.40" y1="471.36" x2="179.00" y2="471.36" stroke="#2e2e2e" stroke-width="1.0"/>
<text x="174.30" y="474.26" font-size="8.2" text-anchor="end" textLength="13.40" lengthAdjust="spacingAndGlyphs" >400</text>
<line x1="176.40" y1="453.90" x2="179.00" y2="453.90" stroke="#2e2e2e" stroke-width="1.0"/>
<text x="174.30" y="456.80" font-size="8.2" text-anchor="end" textLength="13.40" lengthAdjust="spacingAndGlyphs" >500</text>
<line x1="179.00" y1="541.20" x2="279.40" y2="541.20" stroke="#2e2e2e" stroke-width="1.25"/>
<rect x="184.20" y="519.30" width="7.40" height="21.90" fill="#c5132e" stroke="#bb0026" stroke-width="0.8"/>
<line x1="187.90" y1="515.30" x2="187.90" y2="518.90" stroke="#4a4a4a" stroke-width="1.0"/>
<line x1="185.90" y1="515.30" x2="189.90" y2="515.30" stroke="#4a4a4a" stroke-width="1.0"/>
<line x1="187.90" y1="541.20" x2="187.90" y2="543.60" stroke="#2e2e2e" stroke-width="1.0"/>
<text x="191.40" y="554.00" font-size="7.8" text-anchor="end" transform="rotate(-45 191.40 554.00)" >0</text>
<rect x="196.20" y="507.90" width="7.40" height="33.30" fill="#c5132e" stroke="#bb0026" stroke-width="0.8"/>
<line x1="199.90" y1="500.00" x2="199.90" y2="507.50" stroke="#4a4a4a" stroke-width="1.0"/>
<line x1="197.90" y1="500.00" x2="201.90" y2="500.00" stroke="#4a4a4a" stroke-width="1.0"/>
<line x1="199.90" y1="541.20" x2="199.90" y2="543.60" stroke="#2e2e2e" stroke-width="1.0"/>
<text x="203.40" y="554.00" font-size="7.8" text-anchor="end" transform="rotate(-45 203.40 554.00)" >DMSO</text>
<rect x="207.20" y="499.00" width="7.40" height="42.20" fill="#c5132e" stroke="#bb0026" stroke-width="0.8"/>
<line x1="210.90" y1="492.40" x2="210.90" y2="498.60" stroke="#4a4a4a" stroke-width="1.0"/>
<line x1="208.90" y1="492.40" x2="212.90" y2="492.40" stroke="#4a4a4a" stroke-width="1.0"/>
<line x1="210.90" y1="541.20" x2="210.90" y2="543.60" stroke="#2e2e2e" stroke-width="1.0"/>
<text x="214.40" y="554.00" font-size="7.8" text-anchor="end" transform="rotate(-45 214.40 554.00)" >100</text>
<rect x="219.90" y="530.40" width="7.40" height="10.80" fill="#c5132e" stroke="#bb0026" stroke-width="0.8"/>
<line x1="223.60" y1="528.40" x2="223.60" y2="530.00" stroke="#4a4a4a" stroke-width="1.0"/>
<line x1="221.60" y1="528.40" x2="225.60" y2="528.40" stroke="#4a4a4a" stroke-width="1.0"/>
<line x1="223.60" y1="541.20" x2="223.60" y2="543.60" stroke="#2e2e2e" stroke-width="1.0"/>
<text x="227.10" y="554.00" font-size="7.8" text-anchor="end" transform="rotate(-45 227.10 554.00)" >1000</text>
<rect x="231.90" y="538.60" width="7.40" height="2.60" fill="#16558b" stroke="#003f79" stroke-width="0.8"/>
<line x1="235.60" y1="537.30" x2="235.60" y2="538.20" stroke="#4a4a4a" stroke-width="1.0"/>
<line x1="233.60" y1="537.30" x2="237.60" y2="537.30" stroke="#4a4a4a" stroke-width="1.0"/>
<line x1="235.60" y1="541.20" x2="235.60" y2="543.60" stroke="#2e2e2e" stroke-width="1.0"/>
<text x="239.10" y="554.00" font-size="7.8" text-anchor="end" transform="rotate(-45 239.10 554.00)" >0</text>
<rect x="243.60" y="478.00" width="7.40" height="63.20" fill="#16558b" stroke="#003f79" stroke-width="0.8"/>
<line x1="247.30" y1="467.90" x2="247.30" y2="477.60" stroke="#4a4a4a" stroke-width="1.0"/>
<line x1="245.30" y1="467.90" x2="249.30" y2="467.90" stroke="#4a4a4a" stroke-width="1.0"/>
<line x1="247.30" y1="541.20" x2="247.30" y2="543.60" stroke="#2e2e2e" stroke-width="1.0"/>
<text x="250.80" y="554.00" font-size="7.8" text-anchor="end" transform="rotate(-45 250.80 554.00)" >DMSO</text>
<rect x="255.30" y="507.60" width="7.40" height="33.60" fill="#16558b" stroke="#003f79" stroke-width="0.8"/>
<line x1="259.00" y1="497.70" x2="259.00" y2="507.20" stroke="#4a4a4a" stroke-width="1.0"/>
<line x1="257.00" y1="497.70" x2="261.00" y2="497.70" stroke="#4a4a4a" stroke-width="1.0"/>
<line x1="259.00" y1="541.20" x2="259.00" y2="543.60" stroke="#2e2e2e" stroke-width="1.0"/>
<text x="262.50" y="554.00" font-size="7.8" text-anchor="end" transform="rotate(-45 262.50 554.00)" >100</text>
<rect x="267.30" y="534.70" width="7.40" height="6.50" fill="#16558b" stroke="#003f79" stroke-width="0.8"/>
<line x1="271.00" y1="532.00" x2="271.00" y2="534.30" stroke="#4a4a4a" stroke-width="1.0"/>
<line x1="269.00" y1="532.00" x2="273.00" y2="532.00" stroke="#4a4a4a" stroke-width="1.0"/>
<line x1="271.00" y1="541.20" x2="271.00" y2="543.60" stroke="#2e2e2e" stroke-width="1.0"/>
<text x="274.50" y="554.00" font-size="7.8" text-anchor="end" transform="rotate(-45 274.50 554.00)" >1000</text>
<path d="M199.60 491.60 L199.60 453.90 L245.60 453.90 L245.60 465.10" stroke="#444444" stroke-width="0.9" fill="none" />
<path d="M247.60 465.10 L247.60 453.90 L271.00 453.90 L271.00 525.50" stroke="#444444" stroke-width="0.9" fill="none" />
<text x="222.80" y="456.00" font-size="10" text-anchor="middle" textLength="3.90" lengthAdjust="spacingAndGlyphs" font-weight="bold" fill="#111" >*</text>
<text x="260.50" y="456.00" font-size="10" text-anchor="middle" textLength="7.80" lengthAdjust="spacingAndGlyphs" font-weight="bold" fill="#111" >**</text>
<text x="153.50" y="494.30" font-size="9.6" text-anchor="middle" textLength="44.70" lengthAdjust="spacingAndGlyphs" transform="rotate(-90 153.50 494.30)" >MPO (ng/mL)</text>
<text x="209.20" y="582.20" font-size="9" textLength="39.00" lengthAdjust="spacingAndGlyphs" >iGP-1 (μM)</text>
<defs><clipPath id="mtop"><rect x="293.2" y="293.2" width="75.30000000000001" height="63.30000000000001"/></clipPath><clipPath id="mbot"><rect x="293.2" y="356.5" width="75.30000000000001" height="61.10000000000002"/></clipPath><radialGradient id="cellT"><stop offset="0" stop-color="#8f84c0"/><stop offset="0.45" stop-color="#5d4f98"/><stop offset="0.8" stop-color="#4b3d88"/><stop offset="1" stop-color="#9b92c8" stop-opacity="0.6"/></radialGradient><radialGradient id="cellB"><stop offset="0" stop-color="#7a6aa8"/><stop offset="0.45" stop-color="#43336f"/><stop offset="0.8" stop-color="#3a2b68"/><stop offset="1" stop-color="#8a7cb0" stop-opacity="0.6"/></radialGradient></defs>
<rect x="293.20" y="293.20" width="75.30" height="63.30" fill="#f4f3f9" />
<rect x="293.20" y="356.50" width="75.30" height="61.10" fill="#f0f2ef" />
<g clip-path="url(#mtop)">
<g filter="url(#bl3)" opacity="0.25"><ellipse cx="356" cy="321" rx="7" ry="4" fill="#c9c3e3"/><ellipse cx="312" cy="350" rx="8" ry="4" fill="#c9c3e3"/></g>
<circle cx="296.36" cy="299.27" r="3.06" fill="#aea6d6" opacity="0.85"/>
<ellipse cx="295.37" cy="298.45" rx="1.24" ry="0.91" fill="#3d3180" transform="rotate(310 295.37 298.45)"/>
<ellipse cx="297.56" cy="298.81" rx="1.23" ry="0.81" fill="#3d3180" transform="rotate(429 297.56 298.81)"/>
<ellipse cx="295.88" cy="300.46" rx="1.07" ry="0.83" fill="#3d3180" transform="rotate(562 295.88 300.46)"/>
<circle cx="302.17" cy="299.27" r="3.11" fill="#aea6d6" opacity="0.85"/>
<ellipse cx="303.24" cy="300.02" rx="1.27" ry="1.08" fill="#3d3180" transform="rotate(125 303.24 300.02)"/>
<ellipse cx="301.29" cy="298.31" rx="1.19" ry="1.09" fill="#3d3180" transform="rotate(317 301.29 298.31)"/>
<circle cx="307.99" cy="297.81" r="2.92" fill="#aea6d6" opacity="0.85"/>
<ellipse cx="307.94" cy="299.04" rx="1.09" ry="0.89" fill="#3d3180" transform="rotate(182 307.94 299.04)"/>
<ellipse cx="308.51" cy="296.70" rx="1.11" ry="0.97" fill="#3d3180" transform="rotate(385 308.51 296.70)"/>
<circle cx="312.35" cy="299.27" r="3.22" fill="#aea6d6" opacity="0.85"/>
<ellipse cx="311.00" cy="299.22" rx="1.07" ry="0.86" fill="#3d3180" transform="rotate(272 311.00 299.22)"/>
<ellipse cx="313.43" cy="298.46" rx="1.20" ry="0.89" fill="#3d3180" transform="rotate(413 313.43 298.46)"/>
<ellipse cx="312.58" cy="300.60" rx="1.21" ry="0.89" fill="#3d3180" transform="rotate(530 312.58 300.60)"/>
<circle cx="303.14" cy="294.42" r="3.30" fill="#aea6d6" opacity="0.85"/>
<ellipse cx="303.13" cy="295.81" rx="1.23" ry="1.06" fill="#3d3180" transform="rotate(180 303.13 295.81)"/>
<ellipse cx="303.28" cy="293.04" rx="1.15" ry="1.09" fill="#3d3180" transform="rotate(366 303.28 293.04)"/>
<circle cx="327.37" cy="295.88" r="2.96" fill="#aea6d6" opacity="0.85"/>
<ellipse cx="327.17" cy="294.65" rx="1.22" ry="0.81" fill="#3d3180" transform="rotate(351 327.17 294.65)"/>
<ellipse cx="328.34" cy="296.65" rx="1.32" ry="0.97" fill="#3d3180" transform="rotate(488 328.34 296.65)"/>
<ellipse cx="326.17" cy="296.19" rx="1.16" ry="1.01" fill="#3d3180" transform="rotate(616 326.17 296.19)"/>
<circle cx="327.37" cy="298.30" r="3.20" fill="#aea6d6" opacity="0.85"/>
<ellipse cx="326.03" cy="298.39" rx="1.38" ry="0.94" fill="#3d3180" transform="rotate(266 326.03 298.39)"/>
<ellipse cx="327.82" cy="297.04" rx="1.07" ry="1.01" fill="#3d3180" transform="rotate(380 327.82 297.04)"/>
<ellipse cx="328.24" cy="299.32" rx="1.40" ry="1.05" fill="#3d3180" transform="rotate(499 328.24 299.32)"/>
<circle cx="315.26" cy="304.60" r="3.04" fill="#aea6d6" opacity="0.85"/>
<ellipse cx="314.34" cy="303.70" rx="1.21" ry="0.85" fill="#3d3180" transform="rotate(314 314.34 303.70)"/>
<ellipse cx="316.50" cy="304.32" rx="1.07" ry="1.03" fill="#3d3180" transform="rotate(438 316.50 304.32)"/>
<ellipse cx="314.86" cy="305.81" rx="1.14" ry="0.92" fill="#3d3180" transform="rotate(558 314.86 305.81)"/>
<circle cx="320.10" cy="307.99" r="3.34" fill="#aea6d6" opacity="0.85"/>
<ellipse cx="318.76" cy="308.39" rx="1.36" ry="1.05" fill="#3d3180" transform="rotate(253 318.76 308.39)"/>
<ellipse cx="320.68" cy="306.71" rx="1.15" ry="0.92" fill="#3d3180" transform="rotate(384 320.68 306.71)"/>
<ellipse cx="321.22" cy="308.83" rx="1.36" ry="1.09" fill="#3d3180" transform="rotate(487 321.22 308.83)"/>
<circle cx="324.46" cy="308.96" r="2.98" fill="#aea6d6" opacity="0.85"/>
<ellipse cx="324.80" cy="310.16" rx="1.22" ry="0.98" fill="#3d3180" transform="rotate(164 324.80 310.16)"/>
<ellipse cx="323.26" cy="308.63" rx="1.05" ry="0.93" fill="#3d3180" transform="rotate(285 323.26 308.63)"/>
<ellipse cx="325.40" cy="308.14" rx="1.25" ry="1.09" fill="#3d3180" transform="rotate(409 325.40 308.14)"/>
<circle cx="319.13" cy="312.83" r="3.25" fill="#aea6d6" opacity="0.85"/>
<ellipse cx="318.23" cy="311.81" rx="1.07" ry="1.07" fill="#3d3180" transform="rotate(318 318.23 311.81)"/>
<ellipse cx="320.48" cy="312.64" rx="1.36" ry="1.04" fill="#3d3180" transform="rotate(442 320.48 312.64)"/>
<ellipse cx="318.93" cy="314.18" rx="1.19" ry="0.83" fill="#3d3180" transform="rotate(549 318.93 314.18)"/>
<circle cx="315.26" cy="306.53" r="3.22" fill="#aea6d6" opacity="0.85"/>
<ellipse cx="316.57" cy="306.87" rx="1.11" ry="0.90" fill="#3d3180" transform="rotate(104 316.57 306.87)"/>
<ellipse cx="314.41" cy="307.59" rx="1.05" ry="0.85" fill="#3d3180" transform="rotate(219 314.41 307.59)"/>
<ellipse cx="314.81" cy="305.26" rx="1.18" ry="0.81" fill="#3d3180" transform="rotate(341 314.81 305.26)"/>
<circle cx="296.36" cy="307.02" r="3.34" fill="#aea6d6" opacity="0.85"/>
<ellipse cx="297.35" cy="308.01" rx="1.17" ry="0.91" fill="#3d3180" transform="rotate(135 297.35 308.01)"/>
<ellipse cx="295.29" cy="306.11" rx="1.35" ry="1.10" fill="#3d3180" transform="rotate(311 295.29 306.11)"/>
<circle cx="295.88" cy="312.83" r="3.13" fill="#aea6d6" opacity="0.85"/>
<ellipse cx="297.13" cy="313.22" rx="1.17" ry="0.88" fill="#3d3180" transform="rotate(107 297.13 313.22)"/>
<ellipse cx="294.62" cy="313.24" rx="1.11" ry="0.81" fill="#3d3180" transform="rotate(252 294.62 313.24)"/>
<ellipse cx="296.25" cy="311.57" rx="1.23" ry="0.84" fill="#3d3180" transform="rotate(376 296.25 311.57)"/>
<circle cx="296.84" cy="317.68" r="3.17" fill="#aea6d6" opacity="0.85"/>
<ellipse cx="295.65" cy="317.08" rx="1.35" ry="1.01" fill="#3d3180" transform="rotate(297 295.65 317.08)"/>
<ellipse cx="297.55" cy="316.55" rx="1.18" ry="0.85" fill="#3d3180" transform="rotate(392 297.55 316.55)"/>
<ellipse cx="297.09" cy="318.99" rx="1.24" ry="1.03" fill="#3d3180" transform="rotate(529 297.09 318.99)"/>
<circle cx="301.69" cy="311.38" r="3.06" fill="#aea6d6" opacity="0.85"/>
<ellipse cx="302.50" cy="310.38" rx="1.35" ry="1.04" fill="#3d3180" transform="rotate(399 302.50 310.38)"/>
<ellipse cx="302.27" cy="312.53" rx="1.31" ry="0.87" fill="#3d3180" transform="rotate(513 302.27 312.53)"/>
<ellipse cx="300.41" cy="311.54" rx="1.17" ry="0.81" fill="#3d3180" transform="rotate(623 300.41 311.54)"/>
<circle cx="304.11" cy="312.83" r="2.91" fill="#aea6d6" opacity="0.85"/>
<ellipse cx="303.90" cy="314.04" rx="1.38" ry="0.93" fill="#3d3180" transform="rotate(190 303.90 314.04)"/>
<ellipse cx="303.30" cy="311.92" rx="1.40" ry="1.09" fill="#3d3180" transform="rotate(318 303.30 311.92)"/>
<ellipse cx="305.16" cy="312.20" rx="1.13" ry="0.87" fill="#3d3180" transform="rotate(419 305.16 312.20)"/>
<circle cx="302.66" cy="309.44" r="3.00" fill="#aea6d6" opacity="0.85"/>
<ellipse cx="302.00" cy="308.37" rx="1.34" ry="0.94" fill="#3d3180" transform="rotate(328 302.00 308.37)"/>
<ellipse cx="303.90" cy="309.22" rx="1.33" ry="0.83" fill="#3d3180" transform="rotate(440 303.90 309.22)"/>
<ellipse cx="302.22" cy="310.62" rx="1.37" ry="1.03" fill="#3d3180" transform="rotate(560 302.22 310.62)"/>
<circle cx="308.96" cy="318.65" r="3.28" fill="#aea6d6" opacity="0.85"/>
<ellipse cx="309.33" cy="319.97" rx="1.17" ry="1.04" fill="#3d3180" transform="rotate(164 309.33 319.97)"/>
<ellipse cx="307.67" cy="318.17" rx="1.19" ry="0.92" fill="#3d3180" transform="rotate(290 307.67 318.17)"/>
<ellipse cx="310.01" cy="317.76" rx="1.30" ry="0.85" fill="#3d3180" transform="rotate(410 310.01 317.76)"/>
<circle cx="311.38" cy="319.13" r="2.96" fill="#aea6d6" opacity="0.85"/>
<ellipse cx="312.52" cy="318.63" rx="1.10" ry="1.05" fill="#3d3180" transform="rotate(426 312.52 318.63)"/>
<ellipse cx="311.12" cy="320.35" rx="1.28" ry="0.91" fill="#3d3180" transform="rotate(552 311.12 320.35)"/>
<ellipse cx="310.27" cy="318.56" rx="1.10" ry="0.80" fill="#3d3180" transform="rotate(657 310.27 318.56)"/>
<circle cx="303.63" cy="323.98" r="3.39" fill="#aea6d6" opacity="0.85"/>
<ellipse cx="302.33" cy="323.39" rx="1.20" ry="1.06" fill="#3d3180" transform="rotate(294 302.33 323.39)"/>
<ellipse cx="304.96" cy="324.48" rx="1.12" ry="0.88" fill="#3d3180" transform="rotate(471 304.96 324.48)"/>
<circle cx="307.50" cy="325.43" r="3.05" fill="#aea6d6" opacity="0.85"/>
<ellipse cx="306.32" cy="324.93" rx="1.20" ry="0.84" fill="#3d3180" transform="rotate(293 306.32 324.93)"/>
<ellipse cx="308.74" cy="325.10" rx="1.17" ry="0.94" fill="#3d3180" transform="rotate(435 308.74 325.10)"/>
<ellipse cx="307.42" cy="326.71" rx="1.37" ry="0.93" fill="#3d3180" transform="rotate(544 307.42 326.71)"/>
<circle cx="311.38" cy="326.88" r="3.36" fill="#aea6d6" opacity="0.85"/>
<ellipse cx="310.00" cy="326.58" rx="1.06" ry="0.93" fill="#3d3180" transform="rotate(282 310.00 326.58)"/>
<ellipse cx="312.10" cy="325.67" rx="1.05" ry="1.04" fill="#3d3180" transform="rotate(391 312.10 325.67)"/>
<ellipse cx="312.08" cy="328.11" rx="1.22" ry="1.02" fill="#3d3180" transform="rotate(510 312.08 328.11)"/>
<circle cx="314.29" cy="328.82" r="3.18" fill="#aea6d6" opacity="0.85"/>
<ellipse cx="312.97" cy="328.62" rx="1.32" ry="0.83" fill="#3d3180" transform="rotate(279 312.97 328.62)"/>
<ellipse cx="315.12" cy="327.78" rx="1.14" ry="0.88" fill="#3d3180" transform="rotate(399 315.12 327.78)"/>
<ellipse cx="314.61" cy="330.12" rx="1.23" ry="0.97" fill="#3d3180" transform="rotate(526 314.61 330.12)"/>
<circle cx="302.66" cy="329.79" r="3.28" fill="#aea6d6" opacity="0.85"/>
<ellipse cx="301.34" cy="330.18" rx="1.23" ry="0.95" fill="#3d3180" transform="rotate(253 301.34 330.18)"/>
<ellipse cx="304.00" cy="329.46" rx="1.21" ry="0.96" fill="#3d3180" transform="rotate(436 304.00 329.46)"/>
<circle cx="306.05" cy="331.73" r="3.14" fill="#aea6d6" opacity="0.85"/>
<ellipse cx="305.93" cy="330.42" rx="1.38" ry="0.88" fill="#3d3180" transform="rotate(355 305.93 330.42)"/>
<ellipse cx="306.42" cy="332.99" rx="1.38" ry="1.05" fill="#3d3180" transform="rotate(524 306.42 332.99)"/>
<circle cx="308.47" cy="333.67" r="2.97" fill="#aea6d6" opacity="0.85"/>
<ellipse cx="307.46" cy="334.39" rx="1.13" ry="0.82" fill="#3d3180" transform="rotate(234 307.46 334.39)"/>
<ellipse cx="308.80" cy="332.46" rx="1.32" ry="1.07" fill="#3d3180" transform="rotate(375 308.80 332.46)"/>
<ellipse cx="309.58" cy="334.24" rx="1.30" ry="1.00" fill="#3d3180" transform="rotate(477 309.58 334.24)"/>
<circle cx="311.38" cy="337.06" r="2.97" fill="#aea6d6" opacity="0.85"/>
<ellipse cx="312.54" cy="336.60" rx="1.38" ry="0.92" fill="#3d3180" transform="rotate(429 312.54 336.60)"/>
<ellipse cx="310.16" cy="337.32" rx="1.40" ry="1.05" fill="#3d3180" transform="rotate(618 310.16 337.32)"/>
<circle cx="315.26" cy="332.70" r="2.98" fill="#aea6d6" opacity="0.85"/>
<ellipse cx="314.00" cy="332.70" rx="1.12" ry="0.90" fill="#3d3180" transform="rotate(270 314.00 332.70)"/>
<ellipse cx="316.11" cy="331.79" rx="1.06" ry="0.97" fill="#3d3180" transform="rotate(403 316.11 331.79)"/>
<ellipse cx="315.81" cy="333.82" rx="1.06" ry="0.90" fill="#3d3180" transform="rotate(514 315.81 333.82)"/>
<circle cx="317.68" cy="334.64" r="3.21" fill="#aea6d6" opacity="0.85"/>
<ellipse cx="318.71" cy="335.50" rx="1.33" ry="1.09" fill="#3d3180" transform="rotate(130 318.71 335.50)"/>
<ellipse cx="316.82" cy="335.68" rx="1.14" ry="0.81" fill="#3d3180" transform="rotate(220 316.82 335.68)"/>
<ellipse cx="317.74" cy="333.29" rx="1.14" ry="0.84" fill="#3d3180" transform="rotate(363 317.74 333.29)"/>
<circle cx="323.98" cy="333.67" r="3.11" fill="#aea6d6" opacity="0.85"/>
<ellipse cx="324.35" cy="332.41" rx="1.10" ry="1.08" fill="#3d3180" transform="rotate(377 324.35 332.41)"/>
<ellipse cx="323.38" cy="334.83" rx="1.30" ry="0.83" fill="#3d3180" transform="rotate(567 323.38 334.83)"/>
<circle cx="330.28" cy="334.64" r="2.93" fill="#aea6d6" opacity="0.85"/>
<ellipse cx="329.36" cy="335.45" rx="1.38" ry="0.99" fill="#3d3180" transform="rotate(228 329.36 335.45)"/>
<ellipse cx="331.45" cy="334.29" rx="1.08" ry="1.06" fill="#3d3180" transform="rotate(433 331.45 334.29)"/>
<circle cx="297.81" cy="340.45" r="2.93" fill="#aea6d6" opacity="0.85"/>
<ellipse cx="296.67" cy="340.91" rx="1.24" ry="1.08" fill="#3d3180" transform="rotate(248 296.67 340.91)"/>
<ellipse cx="298.93" cy="339.94" rx="1.10" ry="0.96" fill="#3d3180" transform="rotate(425 298.93 339.94)"/>
<circle cx="317.68" cy="343.36" r="3.02" fill="#aea6d6" opacity="0.85"/>
<ellipse cx="318.61" cy="344.22" rx="1.12" ry="0.89" fill="#3d3180" transform="rotate(133 318.61 344.22)"/>
<ellipse cx="316.42" cy="343.55" rx="1.32" ry="0.89" fill="#3d3180" transform="rotate(261 316.42 343.55)"/>
<ellipse cx="318.28" cy="342.24" rx="1.11" ry="0.90" fill="#3d3180" transform="rotate(388 318.28 342.24)"/>
<circle cx="315.26" cy="346.26" r="2.91" fill="#aea6d6" opacity="0.85"/>
<ellipse cx="316.44" cy="346.55" rx="1.24" ry="0.86" fill="#3d3180" transform="rotate(104 316.44 346.55)"/>
<ellipse cx="314.56" cy="347.27" rx="1.38" ry="0.83" fill="#3d3180" transform="rotate(215 314.56 347.27)"/>
<ellipse cx="314.97" cy="345.08" rx="1.20" ry="0.95" fill="#3d3180" transform="rotate(346 314.97 345.08)"/>
<circle cx="321.07" cy="344.81" r="3.32" fill="#aea6d6" opacity="0.85"/>
<ellipse cx="319.69" cy="344.60" rx="1.39" ry="0.90" fill="#3d3180" transform="rotate(279 319.69 344.60)"/>
<ellipse cx="322.03" cy="343.80" rx="1.30" ry="0.99" fill="#3d3180" transform="rotate(404 322.03 343.80)"/>
<ellipse cx="321.78" cy="346.01" rx="1.17" ry="0.82" fill="#3d3180" transform="rotate(509 321.78 346.01)"/>
<circle cx="324.95" cy="346.26" r="2.96" fill="#aea6d6" opacity="0.85"/>
<ellipse cx="324.69" cy="345.04" rx="1.11" ry="0.83" fill="#3d3180" transform="rotate(348 324.69 345.04)"/>
<ellipse cx="325.92" cy="347.04" rx="1.35" ry="1.00" fill="#3d3180" transform="rotate(488 325.92 347.04)"/>
<ellipse cx="324.00" cy="347.08" rx="1.13" ry="0.89" fill="#3d3180" transform="rotate(589 324.00 347.08)"/>
<circle cx="321.07" cy="351.11" r="3.13" fill="#aea6d6" opacity="0.85"/>
<ellipse cx="319.91" cy="351.72" rx="1.39" ry="1.09" fill="#3d3180" transform="rotate(242 319.91 351.72)"/>
<ellipse cx="321.35" cy="349.82" rx="1.14" ry="1.09" fill="#3d3180" transform="rotate(372 321.35 349.82)"/>
<ellipse cx="322.16" cy="351.84" rx="1.17" ry="0.80" fill="#3d3180" transform="rotate(484 322.16 351.84)"/>
<circle cx="328.82" cy="348.20" r="3.09" fill="#aea6d6" opacity="0.85"/>
<ellipse cx="327.54" cy="348.41" rx="1.23" ry="0.80" fill="#3d3180" transform="rotate(261 327.54 348.41)"/>
<ellipse cx="329.33" cy="347.01" rx="1.08" ry="0.92" fill="#3d3180" transform="rotate(383 329.33 347.01)"/>
<ellipse cx="329.74" cy="349.12" rx="1.06" ry="0.89" fill="#3d3180" transform="rotate(495 329.74 349.12)"/>
<circle cx="330.28" cy="341.42" r="3.02" fill="#aea6d6" opacity="0.85"/>
<ellipse cx="329.08" cy="341.00" rx="1.28" ry="1.01" fill="#3d3180" transform="rotate(289 329.08 341.00)"/>
<ellipse cx="331.29" cy="340.67" rx="1.19" ry="0.90" fill="#3d3180" transform="rotate(414 331.29 340.67)"/>
<ellipse cx="330.34" cy="342.68" rx="1.10" ry="1.02" fill="#3d3180" transform="rotate(537 330.34 342.68)"/>
<circle cx="299.75" cy="347.23" r="3.22" fill="#aea6d6" opacity="0.85"/>
<ellipse cx="300.69" cy="346.26" rx="1.27" ry="1.02" fill="#3d3180" transform="rotate(404 300.69 346.26)"/>
<ellipse cx="300.18" cy="348.52" rx="1.10" ry="0.96" fill="#3d3180" transform="rotate(521 300.18 348.52)"/>
<ellipse cx="298.40" cy="347.21" rx="1.34" ry="1.04" fill="#3d3180" transform="rotate(631 298.40 347.21)"/>
<circle cx="296.84" cy="353.05" r="3.31" fill="#aea6d6" opacity="0.85"/>
<ellipse cx="298.02" cy="352.30" rx="1.29" ry="0.87" fill="#3d3180" transform="rotate(418 298.02 352.30)"/>
<ellipse cx="297.43" cy="354.31" rx="1.10" ry="0.91" fill="#3d3180" transform="rotate(515 297.43 354.31)"/>
<ellipse cx="295.47" cy="352.86" rx="1.34" ry="0.97" fill="#3d3180" transform="rotate(638 295.47 352.86)"/>
<circle cx="294.91" cy="352.08" r="3.21" fill="#aea6d6" opacity="0.85"/>
<ellipse cx="294.33" cy="350.86" rx="1.05" ry="1.04" fill="#3d3180" transform="rotate(335 294.33 350.86)"/>
<ellipse cx="295.29" cy="353.37" rx="1.23" ry="0.96" fill="#3d3180" transform="rotate(524 295.29 353.37)"/>
<circle cx="350.35" cy="295.88" r="3.23" fill="#aea6d6" opacity="0.85"/>
<ellipse cx="350.04" cy="294.56" rx="1.08" ry="0.88" fill="#3d3180" transform="rotate(347 350.04 294.56)"/>
<ellipse cx="351.48" cy="296.62" rx="1.12" ry="1.02" fill="#3d3180" transform="rotate(483 351.48 296.62)"/>
<ellipse cx="349.06" cy="296.30" rx="1.22" ry="0.91" fill="#3d3180" transform="rotate(612 349.06 296.30)"/>
<circle cx="355.19" cy="295.88" r="3.14" fill="#aea6d6" opacity="0.85"/>
<ellipse cx="355.43" cy="294.58" rx="1.27" ry="0.82" fill="#3d3180" transform="rotate(370 355.43 294.58)"/>
<ellipse cx="355.33" cy="297.19" rx="1.14" ry="1.02" fill="#3d3180" transform="rotate(534 355.33 297.19)"/>
<circle cx="359.07" cy="299.27" r="3.05" fill="#aea6d6" opacity="0.85"/>
<ellipse cx="360.33" cy="299.03" rx="1.14" ry="1.00" fill="#3d3180" transform="rotate(79 360.33 299.03)"/>
<ellipse cx="358.23" cy="300.23" rx="1.29" ry="0.89" fill="#3d3180" transform="rotate(221 358.23 300.23)"/>
<ellipse cx="358.53" cy="298.11" rx="1.21" ry="0.94" fill="#3d3180" transform="rotate(335 358.53 298.11)"/>
<circle cx="365.37" cy="300.72" r="2.96" fill="#aea6d6" opacity="0.85"/>
<ellipse cx="365.41" cy="301.96" rx="1.38" ry="0.81" fill="#3d3180" transform="rotate(178 365.41 301.96)"/>
<ellipse cx="364.95" cy="299.55" rx="1.34" ry="1.09" fill="#3d3180" transform="rotate(340 364.95 299.55)"/>
<circle cx="358.10" cy="301.69" r="3.12" fill="#aea6d6" opacity="0.85"/>
<ellipse cx="358.08" cy="303.00" rx="1.12" ry="0.97" fill="#3d3180" transform="rotate(181 358.08 303.00)"/>
<ellipse cx="356.79" cy="301.62" rx="1.23" ry="1.09" fill="#3d3180" transform="rotate(273 356.79 301.62)"/>
<ellipse cx="358.81" cy="300.59" rx="1.34" ry="0.95" fill="#3d3180" transform="rotate(393 358.81 300.59)"/>
<circle cx="368.28" cy="297.81" r="3.34" fill="#aea6d6" opacity="0.85"/>
<ellipse cx="368.10" cy="299.21" rx="1.22" ry="0.81" fill="#3d3180" transform="rotate(187 368.10 299.21)"/>
<ellipse cx="367.71" cy="296.53" rx="1.22" ry="0.94" fill="#3d3180" transform="rotate(336 367.71 296.53)"/>
<circle cx="345.02" cy="305.57" r="3.05" fill="#aea6d6" opacity="0.85"/>
<ellipse cx="344.43" cy="306.70" rx="1.34" ry="0.80" fill="#3d3180" transform="rotate(208 344.43 306.70)"/>
<ellipse cx="344.63" cy="304.34" rx="1.34" ry="0.84" fill="#3d3180" transform="rotate(342 344.63 304.34)"/>
<ellipse cx="346.23" cy="305.97" rx="1.30" ry="1.07" fill="#3d3180" transform="rotate(469 346.23 305.97)"/>
<circle cx="344.53" cy="303.63" r="3.04" fill="#aea6d6" opacity="0.85"/>
<ellipse cx="343.34" cy="304.09" rx="1.26" ry="0.91" fill="#3d3180" transform="rotate(249 343.34 304.09)"/>
<ellipse cx="344.29" cy="302.37" rx="1.15" ry="0.81" fill="#3d3180" transform="rotate(349 344.29 302.37)"/>
<ellipse cx="345.80" cy="303.80" rx="1.34" ry="0.89" fill="#3d3180" transform="rotate(458 345.80 303.80)"/>
<circle cx="333.88" cy="316.22" r="3.37" fill="#aea6d6" opacity="0.85"/>
<ellipse cx="333.73" cy="317.63" rx="1.12" ry="0.91" fill="#3d3180" transform="rotate(186 333.73 317.63)"/>
<ellipse cx="332.99" cy="315.12" rx="1.36" ry="1.04" fill="#3d3180" transform="rotate(321 332.99 315.12)"/>
<ellipse cx="335.21" cy="315.74" rx="1.37" ry="1.08" fill="#3d3180" transform="rotate(430 335.21 315.74)"/>
<circle cx="334.84" cy="321.07" r="3.17" fill="#aea6d6" opacity="0.85"/>
<ellipse cx="336.05" cy="321.65" rx="1.21" ry="1.03" fill="#3d3180" transform="rotate(116 336.05 321.65)"/>
<ellipse cx="333.62" cy="320.55" rx="1.15" ry="0.81" fill="#3d3180" transform="rotate(293 333.62 320.55)"/>
<circle cx="339.69" cy="321.07" r="3.36" fill="#aea6d6" opacity="0.85"/>
<ellipse cx="338.33" cy="321.44" rx="1.15" ry="1.02" fill="#3d3180" transform="rotate(255 338.33 321.44)"/>
<ellipse cx="340.53" cy="319.93" rx="1.14" ry="1.00" fill="#3d3180" transform="rotate(396 340.53 319.93)"/>
<ellipse cx="340.72" cy="322.04" rx="1.25" ry="0.92" fill="#3d3180" transform="rotate(493 340.72 322.04)"/>
<circle cx="342.60" cy="323.98" r="2.98" fill="#aea6d6" opacity="0.85"/>
<ellipse cx="342.62" cy="325.23" rx="1.22" ry="0.87" fill="#3d3180" transform="rotate(179 342.62 325.23)"/>
<ellipse cx="341.50" cy="323.37" rx="1.40" ry="0.93" fill="#3d3180" transform="rotate(299 341.50 323.37)"/>
<ellipse cx="343.27" cy="322.92" rx="1.12" ry="0.83" fill="#3d3180" transform="rotate(392 343.27 322.92)"/>
<circle cx="345.99" cy="323.01" r="3.07" fill="#aea6d6" opacity="0.85"/>
<ellipse cx="346.26" cy="324.27" rx="1.25" ry="1.07" fill="#3d3180" transform="rotate(168 346.26 324.27)"/>
<ellipse cx="344.93" cy="322.27" rx="1.19" ry="0.92" fill="#3d3180" transform="rotate(305 344.93 322.27)"/>
<ellipse cx="347.07" cy="322.30" rx="1.18" ry="0.90" fill="#3d3180" transform="rotate(417 347.07 322.30)"/>
<circle cx="349.38" cy="326.40" r="2.93" fill="#aea6d6" opacity="0.85"/>
<ellipse cx="350.50" cy="325.89" rx="1.23" ry="0.99" fill="#3d3180" transform="rotate(426 350.50 325.89)"/>
<ellipse cx="348.75" cy="327.46" rx="1.13" ry="0.88" fill="#3d3180" transform="rotate(571 348.75 327.46)"/>
<ellipse cx="348.43" cy="325.61" rx="1.19" ry="0.93" fill="#3d3180" transform="rotate(670 348.43 325.61)"/>
<circle cx="335.81" cy="324.95" r="3.38" fill="#aea6d6" opacity="0.85"/>
<ellipse cx="336.48" cy="323.69" rx="1.06" ry="1.01" fill="#3d3180" transform="rotate(388 336.48 323.69)"/>
<ellipse cx="334.61" cy="325.70" rx="1.22" ry="0.98" fill="#3d3180" transform="rotate(598 334.61 325.70)"/>
<circle cx="338.72" cy="327.37" r="2.90" fill="#aea6d6" opacity="0.85"/>
<ellipse cx="339.90" cy="327.05" rx="1.35" ry="1.09" fill="#3d3180" transform="rotate(435 339.90 327.05)"/>
<ellipse cx="338.83" cy="328.58" rx="1.09" ry="0.85" fill="#3d3180" transform="rotate(535 338.83 328.58)"/>
<ellipse cx="337.72" cy="326.68" rx="1.29" ry="1.08" fill="#3d3180" transform="rotate(664 337.72 326.68)"/>
<circle cx="343.57" cy="328.82" r="3.26" fill="#aea6d6" opacity="0.85"/>
<ellipse cx="343.66" cy="327.46" rx="1.24" ry="0.81" fill="#3d3180" transform="rotate(364 343.66 327.46)"/>
<ellipse cx="343.21" cy="330.14" rx="1.13" ry="1.08" fill="#3d3180" transform="rotate(555 343.21 330.14)"/>
<circle cx="346.47" cy="329.79" r="3.22" fill="#aea6d6" opacity="0.85"/>
<ellipse cx="347.55" cy="330.62" rx="1.27" ry="1.01" fill="#3d3180" transform="rotate(128 347.55 330.62)"/>
<ellipse cx="345.27" cy="330.41" rx="1.07" ry="0.96" fill="#3d3180" transform="rotate(243 345.27 330.41)"/>
<ellipse cx="346.91" cy="328.51" rx="1.19" ry="0.87" fill="#3d3180" transform="rotate(379 346.91 328.51)"/>
<circle cx="331.94" cy="329.79" r="3.20" fill="#aea6d6" opacity="0.85"/>
<ellipse cx="331.54" cy="331.07" rx="1.39" ry="0.99" fill="#3d3180" transform="rotate(197 331.54 331.07)"/>
<ellipse cx="331.30" cy="328.61" rx="1.22" ry="0.87" fill="#3d3180" transform="rotate(332 331.30 328.61)"/>
<ellipse cx="333.20" cy="329.33" rx="1.39" ry="1.01" fill="#3d3180" transform="rotate(430 333.20 329.33)"/>
<circle cx="335.81" cy="331.73" r="3.05" fill="#aea6d6" opacity="0.85"/>
<ellipse cx="334.54" cy="331.61" rx="1.20" ry="0.88" fill="#3d3180" transform="rotate(275 334.54 331.61)"/>
<ellipse cx="336.55" cy="330.68" rx="1.37" ry="0.87" fill="#3d3180" transform="rotate(395 336.55 330.68)"/>
<ellipse cx="336.75" cy="332.61" rx="1.17" ry="0.93" fill="#3d3180" transform="rotate(493 336.75 332.61)"/>
<circle cx="339.69" cy="332.70" r="3.24" fill="#aea6d6" opacity="0.85"/>
<ellipse cx="340.27" cy="331.47" rx="1.23" ry="0.86" fill="#3d3180" transform="rotate(385 340.27 331.47)"/>
<ellipse cx="340.31" cy="333.91" rx="1.16" ry="1.05" fill="#3d3180" transform="rotate(513 340.31 333.91)"/>
<ellipse cx="338.43" cy="333.21" rx="1.13" ry="1.03" fill="#3d3180" transform="rotate(608 338.43 333.21)"/>
<circle cx="366.82" cy="330.76" r="3.05" fill="#aea6d6" opacity="0.85"/>
<ellipse cx="365.57" cy="331.03" rx="1.13" ry="0.93" fill="#3d3180" transform="rotate(258 365.57 331.03)"/>
<ellipse cx="368.10" cy="330.85" rx="1.38" ry="0.84" fill="#3d3180" transform="rotate(454 368.10 330.85)"/>
<circle cx="363.91" cy="334.64" r="3.10" fill="#aea6d6" opacity="0.85"/>
<ellipse cx="365.12" cy="334.16" rx="1.07" ry="0.82" fill="#3d3180" transform="rotate(428 365.12 334.16)"/>
<ellipse cx="363.53" cy="335.88" rx="1.36" ry="1.07" fill="#3d3180" transform="rotate(557 363.53 335.88)"/>
<ellipse cx="363.24" cy="333.52" rx="1.40" ry="1.08" fill="#3d3180" transform="rotate(689 363.24 333.52)"/>
<circle cx="361.98" cy="337.54" r="3.06" fill="#aea6d6" opacity="0.85"/>
<ellipse cx="363.22" cy="337.22" rx="1.06" ry="1.00" fill="#3d3180" transform="rotate(435 363.22 337.22)"/>
<ellipse cx="361.92" cy="338.83" rx="1.18" ry="0.90" fill="#3d3180" transform="rotate(543 361.92 338.83)"/>
<ellipse cx="360.82" cy="336.99" rx="1.05" ry="0.88" fill="#3d3180" transform="rotate(656 360.82 336.99)"/>
<circle cx="366.82" cy="337.54" r="3.08" fill="#aea6d6" opacity="0.85"/>
<ellipse cx="367.46" cy="338.67" rx="1.12" ry="0.91" fill="#3d3180" transform="rotate(150 367.46 338.67)"/>
<ellipse cx="366.09" cy="336.48" rx="1.34" ry="0.93" fill="#3d3180" transform="rotate(326 366.09 336.48)"/>
<circle cx="331.94" cy="337.54" r="2.92" fill="#aea6d6" opacity="0.85"/>
<ellipse cx="330.89" cy="338.18" rx="1.12" ry="0.91" fill="#3d3180" transform="rotate(239 330.89 338.18)"/>
<ellipse cx="331.89" cy="336.32" rx="1.06" ry="0.92" fill="#3d3180" transform="rotate(358 331.89 336.32)"/>
<ellipse cx="333.05" cy="338.06" rx="1.32" ry="0.81" fill="#3d3180" transform="rotate(475 333.05 338.06)"/>
<circle cx="333.88" cy="341.42" r="2.92" fill="#aea6d6" opacity="0.85"/>
<ellipse cx="334.85" cy="340.68" rx="1.31" ry="1.07" fill="#3d3180" transform="rotate(413 334.85 340.68)"/>
<ellipse cx="333.97" cy="342.64" rx="1.15" ry="1.09" fill="#3d3180" transform="rotate(536 333.97 342.64)"/>
<ellipse cx="332.88" cy="340.71" rx="1.14" ry="1.01" fill="#3d3180" transform="rotate(665 332.88 340.71)"/>
<circle cx="337.75" cy="342.39" r="3.06" fill="#aea6d6" opacity="0.85"/>
<ellipse cx="339.02" cy="342.61" rx="1.37" ry="0.99" fill="#3d3180" transform="rotate(100 339.02 342.61)"/>
<ellipse cx="336.82" cy="343.27" rx="1.06" ry="0.87" fill="#3d3180" transform="rotate(227 336.82 343.27)"/>
<ellipse cx="337.12" cy="341.27" rx="1.38" ry="1.09" fill="#3d3180" transform="rotate(331 337.12 341.27)"/>
<circle cx="330.97" cy="344.33" r="3.09" fill="#aea6d6" opacity="0.85"/>
<ellipse cx="329.80" cy="344.88" rx="1.37" ry="0.85" fill="#3d3180" transform="rotate(245 329.80 344.88)"/>
<ellipse cx="331.31" cy="343.07" rx="1.31" ry="1.05" fill="#3d3180" transform="rotate(375 331.31 343.07)"/>
<ellipse cx="331.90" cy="345.23" rx="1.26" ry="0.90" fill="#3d3180" transform="rotate(494 331.90 345.23)"/>
<circle cx="335.81" cy="346.26" r="3.06" fill="#aea6d6" opacity="0.85"/>
<ellipse cx="335.75" cy="344.98" rx="1.12" ry="1.03" fill="#3d3180" transform="rotate(357 335.75 344.98)"/>
<ellipse cx="336.89" cy="346.96" rx="1.07" ry="0.81" fill="#3d3180" transform="rotate(483 336.89 346.96)"/>
<ellipse cx="334.58" cy="346.63" rx="1.16" ry="1.09" fill="#3d3180" transform="rotate(613 334.58 346.63)"/>
<circle cx="342.60" cy="344.81" r="3.34" fill="#aea6d6" opacity="0.85"/>
<ellipse cx="342.82" cy="346.20" rx="1.08" ry="0.95" fill="#3d3180" transform="rotate(171 342.82 346.20)"/>
<ellipse cx="342.90" cy="343.44" rx="1.21" ry="0.87" fill="#3d3180" transform="rotate(373 342.90 343.44)"/>
<circle cx="348.41" cy="342.39" r="3.11" fill="#aea6d6" opacity="0.85"/>
<ellipse cx="347.99" cy="341.15" rx="1.35" ry="1.00" fill="#3d3180" transform="rotate(341 347.99 341.15)"/>
<ellipse cx="349.26" cy="343.38" rx="1.34" ry="0.89" fill="#3d3180" transform="rotate(500 349.26 343.38)"/>
<circle cx="350.35" cy="345.29" r="3.18" fill="#aea6d6" opacity="0.85"/>
<ellipse cx="350.01" cy="344.00" rx="1.14" ry="0.87" fill="#3d3180" transform="rotate(345 350.01 344.00)"/>
<ellipse cx="351.65" cy="345.61" rx="1.36" ry="0.97" fill="#3d3180" transform="rotate(464 351.65 345.61)"/>
<ellipse cx="349.33" cy="346.16" rx="1.19" ry="1.10" fill="#3d3180" transform="rotate(590 349.33 346.16)"/>
<circle cx="360.04" cy="350.14" r="3.15" fill="#aea6d6" opacity="0.85"/>
<ellipse cx="360.63" cy="348.95" rx="1.40" ry="0.83" fill="#3d3180" transform="rotate(386 360.63 348.95)"/>
<ellipse cx="360.89" cy="351.16" rx="1.34" ry="1.05" fill="#3d3180" transform="rotate(500 360.89 351.16)"/>
<ellipse cx="358.72" cy="350.02" rx="1.06" ry="0.89" fill="#3d3180" transform="rotate(635 358.72 350.02)"/>
<circle cx="361.01" cy="353.05" r="2.96" fill="#aea6d6" opacity="0.85"/>
<ellipse cx="362.24" cy="352.90" rx="1.38" ry="0.91" fill="#3d3180" transform="rotate(443 362.24 352.90)"/>
<ellipse cx="360.33" cy="354.09" rx="1.21" ry="0.88" fill="#3d3180" transform="rotate(573 360.33 354.09)"/>
<ellipse cx="360.38" cy="351.97" rx="1.38" ry="0.83" fill="#3d3180" transform="rotate(690 360.38 351.97)"/>
<path d="M344.4 338.6 Q347.6 334.2 351.2 338.6 Q347.6 336.6 344.4 338.6 z" fill="#8b3f9a" stroke="#8b3f9a" stroke-width="1.1"/>
<circle cx="295.88" cy="329.31" r="0.9" fill="#222"/>
</g>
<g clip-path="url(#mbot)">
<circle cx="324.46" cy="358.82" r="3.20" fill="#958ac2" opacity="0.85"/>
<ellipse cx="324.83" cy="360.11" rx="1.40" ry="1.06" fill="#2d2166" transform="rotate(164 324.83 360.11)"/>
<ellipse cx="324.00" cy="357.56" rx="1.56" ry="1.20" fill="#2d2166" transform="rotate(340 324.00 357.56)"/>
<circle cx="328.28" cy="360.73" r="3.00" fill="#958ac2" opacity="0.85"/>
<ellipse cx="327.57" cy="361.77" rx="1.41" ry="1.09" fill="#2d2166" transform="rotate(214 327.57 361.77)"/>
<ellipse cx="327.43" cy="359.80" rx="1.63" ry="1.16" fill="#2d2166" transform="rotate(318 327.43 359.80)"/>
<ellipse cx="329.48" cy="360.35" rx="1.39" ry="1.12" fill="#2d2166" transform="rotate(433 329.48 360.35)"/>
<circle cx="326.37" cy="364.55" r="3.18" fill="#958ac2" opacity="0.85"/>
<ellipse cx="327.61" cy="365.03" rx="1.59" ry="1.12" fill="#2d2166" transform="rotate(111 327.61 365.03)"/>
<ellipse cx="325.16" cy="363.98" rx="1.46" ry="1.29" fill="#2d2166" transform="rotate(295 325.16 363.98)"/>
<circle cx="330.19" cy="364.55" r="3.06" fill="#958ac2" opacity="0.85"/>
<ellipse cx="329.44" cy="365.59" rx="1.65" ry="1.30" fill="#2d2166" transform="rotate(216 329.44 365.59)"/>
<ellipse cx="329.62" cy="363.39" rx="1.42" ry="1.22" fill="#2d2166" transform="rotate(334 329.62 363.39)"/>
<ellipse cx="331.47" cy="364.51" rx="1.35" ry="1.27" fill="#2d2166" transform="rotate(448 331.47 364.51)"/>
<circle cx="299.64" cy="377.91" r="3.11" fill="#958ac2" opacity="0.85"/>
<ellipse cx="298.41" cy="378.37" rx="1.51" ry="1.05" fill="#2d2166" transform="rotate(249 298.41 378.37)"/>
<ellipse cx="300.47" cy="376.90" rx="1.54" ry="1.19" fill="#2d2166" transform="rotate(400 300.47 376.90)"/>
<circle cx="306.32" cy="379.82" r="3.35" fill="#958ac2" opacity="0.85"/>
<ellipse cx="305.23" cy="378.92" rx="1.53" ry="1.04" fill="#2d2166" transform="rotate(310 305.23 378.92)"/>
<ellipse cx="307.61" cy="379.26" rx="1.53" ry="1.28" fill="#2d2166" transform="rotate(427 307.61 379.26)"/>
<ellipse cx="306.31" cy="381.23" rx="1.52" ry="1.24" fill="#2d2166" transform="rotate(541 306.31 381.23)"/>
<circle cx="302.50" cy="383.64" r="3.38" fill="#958ac2" opacity="0.85"/>
<ellipse cx="303.19" cy="384.88" rx="1.69" ry="1.14" fill="#2d2166" transform="rotate(151 303.19 384.88)"/>
<ellipse cx="301.27" cy="384.35" rx="1.67" ry="1.12" fill="#2d2166" transform="rotate(240 301.27 384.35)"/>
<ellipse cx="303.20" cy="382.40" rx="1.57" ry="1.25" fill="#2d2166" transform="rotate(390 303.20 382.40)"/>
<circle cx="297.73" cy="387.46" r="2.98" fill="#958ac2" opacity="0.85"/>
<ellipse cx="298.02" cy="388.68" rx="1.65" ry="1.25" fill="#2d2166" transform="rotate(167 298.02 388.68)"/>
<ellipse cx="297.28" cy="386.29" rx="1.43" ry="1.12" fill="#2d2166" transform="rotate(339 297.28 386.29)"/>
<circle cx="301.55" cy="386.50" r="3.16" fill="#958ac2" opacity="0.85"/>
<ellipse cx="302.63" cy="387.28" rx="1.60" ry="1.27" fill="#2d2166" transform="rotate(126 302.63 387.28)"/>
<ellipse cx="300.42" cy="387.20" rx="1.55" ry="1.23" fill="#2d2166" transform="rotate(239 300.42 387.20)"/>
<ellipse cx="301.51" cy="385.18" rx="1.64" ry="1.04" fill="#2d2166" transform="rotate(358 301.51 385.18)"/>
<circle cx="312.05" cy="382.68" r="3.20" fill="#958ac2" opacity="0.85"/>
<ellipse cx="311.00" cy="381.84" rx="1.50" ry="1.17" fill="#2d2166" transform="rotate(309 311.00 381.84)"/>
<ellipse cx="313.33" cy="382.30" rx="1.58" ry="1.13" fill="#2d2166" transform="rotate(433 313.33 382.30)"/>
<ellipse cx="311.73" cy="383.99" rx="1.36" ry="1.19" fill="#2d2166" transform="rotate(554 311.73 383.99)"/>
<circle cx="313.96" cy="382.68" r="3.14" fill="#958ac2" opacity="0.85"/>
<ellipse cx="314.29" cy="381.41" rx="1.51" ry="1.05" fill="#2d2166" transform="rotate(375 314.29 381.41)"/>
<ellipse cx="315.05" cy="383.42" rx="1.39" ry="1.04" fill="#2d2166" transform="rotate(484 315.05 383.42)"/>
<ellipse cx="312.79" cy="383.30" rx="1.38" ry="1.13" fill="#2d2166" transform="rotate(603 312.79 383.30)"/>
<circle cx="306.32" cy="390.80" r="3.16" fill="#958ac2" opacity="0.85"/>
<ellipse cx="305.23" cy="390.04" rx="1.61" ry="1.23" fill="#2d2166" transform="rotate(305 305.23 390.04)"/>
<ellipse cx="307.62" cy="390.56" rx="1.37" ry="1.15" fill="#2d2166" transform="rotate(440 307.62 390.56)"/>
<ellipse cx="305.98" cy="392.08" rx="1.68" ry="1.04" fill="#2d2166" transform="rotate(555 305.98 392.08)"/>
<circle cx="302.50" cy="395.10" r="3.33" fill="#958ac2" opacity="0.85"/>
<ellipse cx="302.61" cy="393.70" rx="1.42" ry="1.29" fill="#2d2166" transform="rotate(364 302.61 393.70)"/>
<ellipse cx="302.67" cy="396.48" rx="1.68" ry="1.27" fill="#2d2166" transform="rotate(533 302.67 396.48)"/>
<circle cx="307.27" cy="396.05" r="2.98" fill="#958ac2" opacity="0.85"/>
<ellipse cx="308.23" cy="395.25" rx="1.47" ry="1.23" fill="#2d2166" transform="rotate(410 308.23 395.25)"/>
<ellipse cx="306.27" cy="396.80" rx="1.66" ry="1.08" fill="#2d2166" transform="rotate(593 306.27 396.80)"/>
<circle cx="301.55" cy="397.00" r="3.31" fill="#958ac2" opacity="0.85"/>
<ellipse cx="300.21" cy="396.64" rx="1.42" ry="1.08" fill="#2d2166" transform="rotate(285 300.21 396.64)"/>
<ellipse cx="302.26" cy="395.81" rx="1.46" ry="1.01" fill="#2d2166" transform="rotate(391 302.26 395.81)"/>
<ellipse cx="302.44" cy="398.07" rx="1.41" ry="1.28" fill="#2d2166" transform="rotate(500 302.44 398.07)"/>
<circle cx="309.18" cy="400.82" r="3.24" fill="#958ac2" opacity="0.85"/>
<ellipse cx="309.64" cy="402.11" rx="1.39" ry="1.16" fill="#2d2166" transform="rotate(161 309.64 402.11)"/>
<ellipse cx="308.62" cy="399.59" rx="1.48" ry="1.26" fill="#2d2166" transform="rotate(335 308.62 399.59)"/>
<circle cx="311.09" cy="402.73" r="3.18" fill="#958ac2" opacity="0.85"/>
<ellipse cx="311.84" cy="401.63" rx="1.70" ry="1.19" fill="#2d2166" transform="rotate(394 311.84 401.63)"/>
<ellipse cx="311.46" cy="404.02" rx="1.63" ry="1.08" fill="#2d2166" transform="rotate(524 311.46 404.02)"/>
<ellipse cx="309.99" cy="401.98" rx="1.55" ry="1.11" fill="#2d2166" transform="rotate(665 309.99 401.98)"/>
<circle cx="327.32" cy="373.14" r="3.28" fill="#958ac2" opacity="0.85"/>
<ellipse cx="327.75" cy="374.45" rx="1.37" ry="1.25" fill="#2d2166" transform="rotate(162 327.75 374.45)"/>
<ellipse cx="325.95" cy="373.25" rx="1.57" ry="1.30" fill="#2d2166" transform="rotate(265 325.95 373.25)"/>
<ellipse cx="328.14" cy="372.03" rx="1.58" ry="1.09" fill="#2d2166" transform="rotate(397 328.14 372.03)"/>
<circle cx="324.46" cy="376.96" r="2.90" fill="#958ac2" opacity="0.85"/>
<ellipse cx="325.11" cy="377.99" rx="1.50" ry="1.15" fill="#2d2166" transform="rotate(148 325.11 377.99)"/>
<ellipse cx="323.25" cy="376.80" rx="1.40" ry="1.07" fill="#2d2166" transform="rotate(277 323.25 376.80)"/>
<ellipse cx="325.05" cy="375.89" rx="1.36" ry="1.00" fill="#2d2166" transform="rotate(389 325.05 375.89)"/>
<circle cx="321.59" cy="380.30" r="3.08" fill="#958ac2" opacity="0.85"/>
<ellipse cx="320.97" cy="381.43" rx="1.55" ry="1.18" fill="#2d2166" transform="rotate(209 320.97 381.43)"/>
<ellipse cx="320.92" cy="379.20" rx="1.57" ry="1.14" fill="#2d2166" transform="rotate(328 320.92 379.20)"/>
<ellipse cx="322.88" cy="380.21" rx="1.68" ry="1.07" fill="#2d2166" transform="rotate(446 322.88 380.21)"/>
<circle cx="325.41" cy="380.78" r="2.97" fill="#958ac2" opacity="0.85"/>
<ellipse cx="324.84" cy="379.67" rx="1.62" ry="1.12" fill="#2d2166" transform="rotate(333 324.84 379.67)"/>
<ellipse cx="326.60" cy="380.38" rx="1.35" ry="1.19" fill="#2d2166" transform="rotate(432 326.60 380.38)"/>
<ellipse cx="324.95" cy="381.93" rx="1.47" ry="1.19" fill="#2d2166" transform="rotate(562 324.95 381.93)"/>
<circle cx="329.23" cy="378.87" r="3.12" fill="#958ac2" opacity="0.85"/>
<ellipse cx="328.90" cy="377.60" rx="1.67" ry="1.01" fill="#2d2166" transform="rotate(345 328.90 377.60)"/>
<ellipse cx="329.34" cy="380.17" rx="1.49" ry="1.07" fill="#2d2166" transform="rotate(535 329.34 380.17)"/>
<circle cx="330.19" cy="382.68" r="2.93" fill="#958ac2" opacity="0.85"/>
<ellipse cx="331.41" cy="382.82" rx="1.68" ry="1.04" fill="#2d2166" transform="rotate(96 331.41 382.82)"/>
<ellipse cx="328.96" cy="382.81" rx="1.56" ry="1.15" fill="#2d2166" transform="rotate(264 328.96 382.81)"/>
<circle cx="319.68" cy="403.69" r="3.22" fill="#958ac2" opacity="0.85"/>
<ellipse cx="320.44" cy="404.81" rx="1.46" ry="1.01" fill="#2d2166" transform="rotate(146 320.44 404.81)"/>
<ellipse cx="319.36" cy="402.37" rx="1.62" ry="1.21" fill="#2d2166" transform="rotate(346 319.36 402.37)"/>
<circle cx="320.64" cy="405.60" r="2.90" fill="#958ac2" opacity="0.85"/>
<ellipse cx="320.58" cy="404.38" rx="1.61" ry="1.14" fill="#2d2166" transform="rotate(357 320.58 404.38)"/>
<ellipse cx="320.88" cy="406.79" rx="1.39" ry="1.07" fill="#2d2166" transform="rotate(529 320.88 406.79)"/>
<circle cx="326.37" cy="411.32" r="2.92" fill="#958ac2" opacity="0.85"/>
<ellipse cx="326.51" cy="410.11" rx="1.65" ry="1.21" fill="#2d2166" transform="rotate(367 326.51 410.11)"/>
<ellipse cx="327.51" cy="411.78" rx="1.54" ry="1.13" fill="#2d2166" transform="rotate(472 327.51 411.78)"/>
<ellipse cx="325.22" cy="411.75" rx="1.53" ry="1.08" fill="#2d2166" transform="rotate(610 325.22 411.75)"/>
<circle cx="296.77" cy="414.19" r="3.22" fill="#958ac2" opacity="0.85"/>
<ellipse cx="296.75" cy="415.54" rx="1.36" ry="1.08" fill="#2d2166" transform="rotate(181 296.75 415.54)"/>
<ellipse cx="296.29" cy="412.93" rx="1.61" ry="1.28" fill="#2d2166" transform="rotate(339 296.29 412.93)"/>
<circle cx="301.55" cy="414.67" r="3.27" fill="#958ac2" opacity="0.85"/>
<ellipse cx="302.45" cy="413.63" rx="1.43" ry="1.27" fill="#2d2166" transform="rotate(401 302.45 413.63)"/>
<ellipse cx="301.75" cy="416.02" rx="1.59" ry="1.20" fill="#2d2166" transform="rotate(531 301.75 416.02)"/>
<ellipse cx="300.40" cy="413.91" rx="1.51" ry="1.25" fill="#2d2166" transform="rotate(663 300.40 413.91)"/>
<circle cx="293.91" cy="415.14" r="3.25" fill="#958ac2" opacity="0.85"/>
<ellipse cx="292.59" cy="415.49" rx="1.55" ry="1.09" fill="#2d2166" transform="rotate(255 292.59 415.49)"/>
<ellipse cx="295.06" cy="414.41" rx="1.57" ry="1.02" fill="#2d2166" transform="rotate(418 295.06 414.41)"/>
<circle cx="313.00" cy="412.28" r="3.36" fill="#958ac2" opacity="0.85"/>
<ellipse cx="314.41" cy="412.18" rx="1.68" ry="1.10" fill="#2d2166" transform="rotate(86 314.41 412.18)"/>
<ellipse cx="312.35" cy="413.53" rx="1.36" ry="1.01" fill="#2d2166" transform="rotate(207 312.35 413.53)"/>
<ellipse cx="312.67" cy="410.91" rx="1.57" ry="1.21" fill="#2d2166" transform="rotate(346 312.67 410.91)"/>
<circle cx="311.09" cy="415.14" r="3.27" fill="#958ac2" opacity="0.85"/>
<ellipse cx="309.88" cy="414.50" rx="1.64" ry="1.25" fill="#2d2166" transform="rotate(298 309.88 414.50)"/>
<ellipse cx="312.43" cy="414.81" rx="1.37" ry="1.26" fill="#2d2166" transform="rotate(436 312.43 414.81)"/>
<ellipse cx="310.70" cy="416.46" rx="1.68" ry="1.03" fill="#2d2166" transform="rotate(557 310.70 416.46)"/>
<circle cx="315.87" cy="415.14" r="3.00" fill="#958ac2" opacity="0.85"/>
<ellipse cx="317.02" cy="415.66" rx="1.63" ry="1.19" fill="#2d2166" transform="rotate(114 317.02 415.66)"/>
<ellipse cx="314.85" cy="415.89" rx="1.57" ry="1.09" fill="#2d2166" transform="rotate(234 314.85 415.89)"/>
<ellipse cx="315.21" cy="414.07" rx="1.38" ry="1.23" fill="#2d2166" transform="rotate(329 315.21 414.07)"/>
<circle cx="331.91" cy="361.68" r="3.00" fill="#958ac2" opacity="0.85"/>
<ellipse cx="331.00" cy="362.56" rx="1.44" ry="1.08" fill="#2d2166" transform="rotate(226 331.00 362.56)"/>
<ellipse cx="332.13" cy="360.44" rx="1.48" ry="1.10" fill="#2d2166" transform="rotate(370 332.13 360.44)"/>
<ellipse cx="332.74" cy="362.63" rx="1.53" ry="1.26" fill="#2d2166" transform="rotate(499 332.74 362.63)"/>
<circle cx="344.32" cy="365.50" r="3.21" fill="#958ac2" opacity="0.85"/>
<ellipse cx="343.20" cy="366.25" rx="1.62" ry="1.10" fill="#2d2166" transform="rotate(236 343.20 366.25)"/>
<ellipse cx="344.45" cy="364.16" rx="1.54" ry="1.06" fill="#2d2166" transform="rotate(366 344.45 364.16)"/>
<ellipse cx="345.34" cy="366.39" rx="1.38" ry="1.25" fill="#2d2166" transform="rotate(491 345.34 366.39)"/>
<circle cx="342.41" cy="368.84" r="2.99" fill="#958ac2" opacity="0.85"/>
<ellipse cx="342.59" cy="370.08" rx="1.69" ry="1.00" fill="#2d2166" transform="rotate(172 342.59 370.08)"/>
<ellipse cx="341.19" cy="368.57" rx="1.52" ry="1.24" fill="#2d2166" transform="rotate(282 341.19 368.57)"/>
<ellipse cx="343.07" cy="367.78" rx="1.52" ry="1.10" fill="#2d2166" transform="rotate(392 343.07 367.78)"/>
<circle cx="340.50" cy="371.23" r="3.32" fill="#958ac2" opacity="0.85"/>
<ellipse cx="341.73" cy="370.58" rx="1.43" ry="1.21" fill="#2d2166" transform="rotate(422 341.73 370.58)"/>
<ellipse cx="340.27" cy="372.60" rx="1.39" ry="1.19" fill="#2d2166" transform="rotate(550 340.27 372.60)"/>
<ellipse cx="339.24" cy="370.63" rx="1.63" ry="1.21" fill="#2d2166" transform="rotate(655 339.24 370.63)"/>
<circle cx="331.91" cy="378.87" r="3.29" fill="#958ac2" opacity="0.85"/>
<ellipse cx="331.12" cy="380.00" rx="1.49" ry="1.27" fill="#2d2166" transform="rotate(215 331.12 380.00)"/>
<ellipse cx="332.47" cy="377.60" rx="1.66" ry="1.01" fill="#2d2166" transform="rotate(384 332.47 377.60)"/>
<circle cx="333.82" cy="381.73" r="3.00" fill="#958ac2" opacity="0.85"/>
<ellipse cx="334.85" cy="381.00" rx="1.48" ry="1.27" fill="#2d2166" transform="rotate(414 334.85 381.00)"/>
<ellipse cx="334.14" cy="382.95" rx="1.51" ry="1.16" fill="#2d2166" transform="rotate(525 334.14 382.95)"/>
<ellipse cx="332.76" cy="381.04" rx="1.61" ry="1.19" fill="#2d2166" transform="rotate(663 332.76 381.04)"/>
<circle cx="330.95" cy="383.64" r="3.07" fill="#958ac2" opacity="0.85"/>
<ellipse cx="331.44" cy="384.83" rx="1.58" ry="1.22" fill="#2d2166" transform="rotate(158 331.44 384.83)"/>
<ellipse cx="329.71" cy="383.98" rx="1.50" ry="1.23" fill="#2d2166" transform="rotate(255 329.71 383.98)"/>
<ellipse cx="331.57" cy="382.51" rx="1.39" ry="1.14" fill="#2d2166" transform="rotate(389 331.57 382.51)"/>
<circle cx="340.98" cy="381.25" r="3.34" fill="#958ac2" opacity="0.85"/>
<ellipse cx="341.63" cy="382.49" rx="1.60" ry="1.25" fill="#2d2166" transform="rotate(152 341.63 382.49)"/>
<ellipse cx="339.58" cy="381.32" rx="1.40" ry="1.07" fill="#2d2166" transform="rotate(267 339.58 381.32)"/>
<ellipse cx="341.74" cy="380.08" rx="1.53" ry="1.05" fill="#2d2166" transform="rotate(393 341.74 380.08)"/>
<circle cx="344.32" cy="392.71" r="3.06" fill="#958ac2" opacity="0.85"/>
<ellipse cx="345.61" cy="392.68" rx="1.39" ry="1.29" fill="#2d2166" transform="rotate(449 345.61 392.68)"/>
<ellipse cx="344.16" cy="393.99" rx="1.48" ry="1.30" fill="#2d2166" transform="rotate(547 344.16 393.99)"/>
<ellipse cx="343.70" cy="391.58" rx="1.61" ry="1.13" fill="#2d2166" transform="rotate(691 343.70 391.58)"/>
<circle cx="350.05" cy="391.28" r="3.00" fill="#958ac2" opacity="0.85"/>
<ellipse cx="351.16" cy="391.88" rx="1.49" ry="1.01" fill="#2d2166" transform="rotate(118 351.16 391.88)"/>
<ellipse cx="349.02" cy="390.55" rx="1.63" ry="1.21" fill="#2d2166" transform="rotate(305 349.02 390.55)"/>
<circle cx="350.53" cy="395.10" r="3.15" fill="#958ac2" opacity="0.85"/>
<ellipse cx="349.33" cy="395.67" rx="1.56" ry="1.12" fill="#2d2166" transform="rotate(244 349.33 395.67)"/>
<ellipse cx="351.84" cy="394.98" rx="1.67" ry="1.13" fill="#2d2166" transform="rotate(445 351.84 394.98)"/>
<circle cx="354.82" cy="394.14" r="3.19" fill="#958ac2" opacity="0.85"/>
<ellipse cx="353.76" cy="394.96" rx="1.60" ry="1.26" fill="#2d2166" transform="rotate(232 353.76 394.96)"/>
<ellipse cx="356.09" cy="393.71" rx="1.60" ry="1.26" fill="#2d2166" transform="rotate(431 356.09 393.71)"/>
<circle cx="358.64" cy="396.05" r="3.24" fill="#958ac2" opacity="0.85"/>
<ellipse cx="357.39" cy="396.58" rx="1.57" ry="1.03" fill="#2d2166" transform="rotate(247 357.39 396.58)"/>
<ellipse cx="359.92" cy="395.60" rx="1.62" ry="1.21" fill="#2d2166" transform="rotate(431 359.92 395.60)"/>
<circle cx="362.46" cy="397.96" r="3.21" fill="#958ac2" opacity="0.85"/>
<ellipse cx="361.28" cy="398.62" rx="1.57" ry="1.12" fill="#2d2166" transform="rotate(241 361.28 398.62)"/>
<ellipse cx="362.66" cy="396.62" rx="1.68" ry="1.05" fill="#2d2166" transform="rotate(369 362.66 396.62)"/>
<ellipse cx="363.53" cy="398.79" rx="1.62" ry="1.12" fill="#2d2166" transform="rotate(488 363.53 398.79)"/>
<circle cx="365.32" cy="399.39" r="3.14" fill="#958ac2" opacity="0.85"/>
<ellipse cx="366.60" cy="399.74" rx="1.41" ry="1.23" fill="#2d2166" transform="rotate(105 366.60 399.74)"/>
<ellipse cx="364.17" cy="398.75" rx="1.53" ry="1.03" fill="#2d2166" transform="rotate(299 364.17 398.75)"/>
<circle cx="357.68" cy="388.41" r="3.19" fill="#958ac2" opacity="0.85"/>
<ellipse cx="357.42" cy="387.10" rx="1.57" ry="1.25" fill="#2d2166" transform="rotate(349 357.42 387.10)"/>
<ellipse cx="358.95" cy="388.85" rx="1.49" ry="1.28" fill="#2d2166" transform="rotate(469 358.95 388.85)"/>
<ellipse cx="356.86" cy="389.46" rx="1.59" ry="1.12" fill="#2d2166" transform="rotate(578 356.86 389.46)"/>
<circle cx="355.78" cy="403.69" r="3.28" fill="#958ac2" opacity="0.85"/>
<ellipse cx="357.13" cy="403.43" rx="1.37" ry="1.08" fill="#2d2166" transform="rotate(439 357.13 403.43)"/>
<ellipse cx="355.28" cy="404.97" rx="1.35" ry="1.13" fill="#2d2166" transform="rotate(561 355.28 404.97)"/>
<ellipse cx="354.92" cy="402.61" rx="1.59" ry="1.11" fill="#2d2166" transform="rotate(682 354.92 402.61)"/>
<circle cx="352.91" cy="404.64" r="3.03" fill="#958ac2" opacity="0.85"/>
<ellipse cx="353.18" cy="403.40" rx="1.53" ry="1.07" fill="#2d2166" transform="rotate(372 353.18 403.40)"/>
<ellipse cx="353.93" cy="405.41" rx="1.49" ry="1.06" fill="#2d2166" transform="rotate(487 353.93 405.41)"/>
<ellipse cx="352.02" cy="405.56" rx="1.62" ry="1.24" fill="#2d2166" transform="rotate(584 352.02 405.56)"/>
<circle cx="334.77" cy="398.44" r="3.22" fill="#958ac2" opacity="0.85"/>
<ellipse cx="333.46" cy="398.13" rx="1.69" ry="1.11" fill="#2d2166" transform="rotate(283 333.46 398.13)"/>
<ellipse cx="335.91" cy="397.70" rx="1.64" ry="1.24" fill="#2d2166" transform="rotate(417 335.91 397.70)"/>
<ellipse cx="334.98" cy="399.77" rx="1.45" ry="1.16" fill="#2d2166" transform="rotate(531 334.98 399.77)"/>
<circle cx="338.59" cy="408.46" r="2.96" fill="#958ac2" opacity="0.85"/>
<ellipse cx="337.64" cy="409.26" rx="1.44" ry="1.11" fill="#2d2166" transform="rotate(230 337.64 409.26)"/>
<ellipse cx="339.20" cy="407.37" rx="1.50" ry="1.06" fill="#2d2166" transform="rotate(389 339.20 407.37)"/>
<circle cx="343.37" cy="407.51" r="2.90" fill="#958ac2" opacity="0.85"/>
<ellipse cx="343.31" cy="408.72" rx="1.46" ry="1.14" fill="#2d2166" transform="rotate(182 343.31 408.72)"/>
<ellipse cx="343.55" cy="406.30" rx="1.57" ry="1.20" fill="#2d2166" transform="rotate(369 343.55 406.30)"/>
<circle cx="338.59" cy="411.32" r="3.08" fill="#958ac2" opacity="0.85"/>
<ellipse cx="339.08" cy="410.13" rx="1.64" ry="1.27" fill="#2d2166" transform="rotate(382 339.08 410.13)"/>
<ellipse cx="337.64" cy="412.20" rx="1.40" ry="1.25" fill="#2d2166" transform="rotate(587 337.64 412.20)"/>
<circle cx="367.71" cy="375.05" r="3.22" fill="#958ac2" opacity="0.85"/>
<ellipse cx="368.98" cy="375.50" rx="1.58" ry="1.08" fill="#2d2166" transform="rotate(110 368.98 375.50)"/>
<ellipse cx="367.24" cy="376.31" rx="1.40" ry="1.07" fill="#2d2166" transform="rotate(200 367.24 376.31)"/>
<ellipse cx="367.33" cy="373.75" rx="1.47" ry="1.05" fill="#2d2166" transform="rotate(344 367.33 373.75)"/>
</g>
<defs><marker id="ahr" viewBox="0 0 10 10" refX="8" refY="5" markerWidth="2.4" markerHeight="2.4" orient="auto" markerUnits="userSpaceOnUse"><path d="M0 0 L10 5 L0 10 z" fill="#e8454a"/></marker></defs>
<line x1="322.55" y1="391.28" x2="315.87" y2="386.03" stroke="#e8454a" stroke-width="0.75" marker-end="url(#ahr)"/>
<line x1="331.62" y1="395.10" x2="323.03" y2="400.82" stroke="#e8454a" stroke-width="0.75" marker-end="url(#ahr)"/>
<line x1="300.11" y1="409.89" x2="303.93" y2="404.16" stroke="#e8454a" stroke-width="0.75" marker-end="url(#ahr)"/>
<line x1="350.05" y1="379.34" x2="346.23" y2="388.41" stroke="#e8454a" stroke-width="0.75" marker-end="url(#ahr)"/>
<rect x="342.40" y="408.90" width="25.50" height="8.00" fill="#ffffff" />
<line x1="342.90" y1="409.50" x2="366.30" y2="409.50" stroke="#111" stroke-width="0.8"/>
<text x="354.90" y="415.60" font-size="6.2" text-anchor="middle" textLength="18.60" lengthAdjust="spacingAndGlyphs" fill="#222" >50 μm</text>
<rect x="293.2" y="293.2" width="75.30" height="124.40" fill="none" stroke="#333" stroke-width="0.9"/>
<line x1="293.20" y1="356.50" x2="368.50" y2="356.50" stroke="#222" stroke-width="1.0"/>
<defs><marker id="ahs" viewBox="0 0 10 10" refX="8" refY="5" markerWidth="3.6" markerHeight="3.6" orient="auto-start-reverse" markerUnits="userSpaceOnUse"><path d="M0 0 L10 5 L0 10 z" fill="#2b679d"/></marker><marker id="ahb" viewBox="0 0 10 10" refX="8" refY="5" markerWidth="6" markerHeight="6" orient="auto-start-reverse" markerUnits="userSpaceOnUse"><path d="M0 0 L10 5 L0 10 z" fill="#1f5f98"/></marker><marker id="ahk" viewBox="0 0 10 10" refX="8" refY="5" markerWidth="3.2" markerHeight="3.2" orient="auto-start-reverse" markerUnits="userSpaceOnUse"><path d="M0 0 L10 5 L0 10 z" fill="#111"/></marker><marker id="ahkb" viewBox="0 0 10 10" refX="8" refY="5" markerWidth="5" markerHeight="5" orient="auto-start-reverse" markerUnits="userSpaceOnUse"><path d="M0 0 L10 5 L0 10 z" fill="#111"/></marker><marker id="ahg" viewBox="0 0 10 10" refX="8" refY="5" markerWidth="2.6" markerHeight="2.6" orient="auto-start-reverse" markerUnits="userSpaceOnUse"><path d="M0 0 L10 5 L0 10 z" fill="#777"/></marker><filter id="shad" x="-50%" y="-50%" width="200%" height="200%"><feGaussianBlur stdDeviation="4"/></filter></defs>
<text x="281.80" y="445.68" font-size="11.0" font-weight="bold" fill="#000" stroke="#000" stroke-width="0.3">L</text>
<ellipse cx="374" cy="512.0" rx="16" ry="14" fill="#888" opacity="0.35" filter="url(#shad)"/>
<ellipse cx="420.5" cy="514.0" rx="14" ry="13" fill="#888" opacity="0.35" filter="url(#shad)"/>
<path d="M333.05 502.10 q1.25 1.87 0 3.75 t0 3.75 t0 3.75 t0 3.75 M334.55 502.10 q1.25 1.87 0 3.75 t0 3.75 t0 3.75 t0 3.75 M337.11 502.10 q1.25 1.87 0 3.75 t0 3.75 t0 3.75 t0 3.75 M338.61 502.10 q1.25 1.87 0 3.75 t0 3.75 t0 3.75 t0 3.75 M341.17 502.10 q1.25 1.87 0 3.75 t0 3.75 t0 3.75 t0 3.75 M342.67 502.10 q1.25 1.87 0 3.75 t0 3.75 t0 3.75 t0 3.75 M345.23 502.10 q1.25 1.87 0 3.75 t0 3.75 t0 3.75 t0 3.75 M346.73 502.10 q1.25 1.87 0 3.75 t0 3.75 t0 3.75 t0 3.75 M349.29 502.10 q1.25 1.87 0 3.75 t0 3.75 t0 3.75 t0 3.75 M350.79 502.10 q1.25 1.87 0 3.75 t0 3.75 t0 3.75 t0 3.75 M353.35 502.10 q1.25 1.87 0 3.75 t0 3.75 t0 3.75 t0 3.75 M354.85 502.10 q1.25 1.87 0 3.75 t0 3.75 t0 3.75 t0 3.75 M357.41 502.10 q1.25 1.87 0 3.75 t0 3.75 t0 3.75 t0 3.75 M358.91 502.10 q1.25 1.87 0 3.75 t0 3.75 t0 3.75 t0 3.75 M361.47 502.10 q1.25 1.87 0 3.75 t0 3.75 t0 3.75 t0 3.75 M362.97 502.10 q1.25 1.87 0 3.75 t0 3.75 t0 3.75 t0 3.75 M365.53 502.10 q1.25 1.87 0 3.75 t0 3.75 t0 3.75 t0 3.75 M367.03 502.10 q1.25 1.87 0 3.75 t0 3.75 t0 3.75 t0 3.75 M369.59 502.10 q1.25 1.87 0 3.75 t0 3.75 t0 3.75 t0 3.75 M371.09 502.10 q1.25 1.87 0 3.75 t0 3.75 t0 3.75 t0 3.75 M373.65 502.10 q1.25 1.87 0 3.75 t0 3.75 t0 3.75 t0 3.75 M375.15 502.10 q1.25 1.87 0 3.75 t0 3.75 t0 3.75 t0 3.75 M377.71 502.10 q1.25 1.87 0 3.75 t0 3.75 t0 3.75 t0 3.75 M379.21 502.10 q1.25 1.87 0 3.75 t0 3.75 t0 3.75 t0 3.75 M381.77 502.10 q1.25 1.87 0 3.75 t0 3.75 t0 3.75 t0 3.75 M383.27 502.10 q1.25 1.87 0 3.75 t0 3.75 t0 3.75 t0 3.75 M385.83 502.10 q1.25 1.87 0 3.75 t0 3.75 t0 3.75 t0 3.75 M387.33 502.10 q1.25 1.87 0 3.75 t0 3.75 t0 3.75 t0 3.75 M389.89 502.10 q1.25 1.87 0 3.75 t0 3.75 t0 3.75 t0 3.75 M391.39 502.10 q1.25 1.87 0 3.75 t0 3.75 t0 3.75 t0 3.75 M393.95 502.10 q1.25 1.87 0 3.75 t0 3.75 t0 3.75 t0 3.75 M395.45 502.10 q1.25 1.87 0 3.75 t0 3.75 t0 3.75 t0 3.75 M398.01 502.10 q1.25 1.87 0 3.75 t0 3.75 t0 3.75 t0 3.75 M399.51 502.10 q1.25 1.87 0 3.75 t0 3.75 t0 3.75 t0 3.75 M402.07 502.10 q1.25 1.87 0 3.75 t0 3.75 t0 3.75 t0 3.75 M403.57 502.10 q1.25 1.87 0 3.75 t0 3.75 t0 3.75 t0 3.75 M406.13 502.10 q1.25 1.87 0 3.75 t0 3.75 t0 3.75 t0 3.75 M407.63 502.10 q1.25 1.87 0 3.75 t0 3.75 t0 3.75 t0 3.75 M410.19 502.10 q1.25 1.87 0 3.75 t0 3.75 t0 3.75 t0 3.75 M411.69 502.10 q1.25 1.87 0 3.75 t0 3.75 t0 3.75 t0 3.75 M414.25 502.10 q1.25 1.87 0 3.75 t0 3.75 t0 3.75 t0 3.75 M415.75 502.10 q1.25 1.87 0 3.75 t0 3.75 t0 3.75 t0 3.75 M418.31 502.10 q1.25 1.87 0 3.75 t0 3.75 t0 3.75 t0 3.75 M419.81 502.10 q1.25 1.87 0 3.75 t0 3.75 t0 3.75 t0 3.75 M422.37 502.10 q1.25 1.87 0 3.75 t0 3.75 t0 3.75 t0 3.75 M423.87 502.10 q1.25 1.87 0 3.75 t0 3.75 t0 3.75 t0 3.75 M426.43 502.10 q1.25 1.87 0 3.75 t0 3.75 t0 3.75 t0 3.75 M427.93 502.10 q1.25 1.87 0 3.75 t0 3.75 t0 3.75 t0 3.75 M430.49 502.10 q1.25 1.87 0 3.75 t0 3.75 t0 3.75 t0 3.75 M431.99 502.10 q1.25 1.87 0 3.75 t0 3.75 t0 3.75 t0 3.75 M434.55 502.10 q1.25 1.87 0 3.75 t0 3.75 t0 3.75 t0 3.75 M436.05 502.10 q1.25 1.87 0 3.75 t0 3.75 t0 3.75 t0 3.75" stroke="#2c6aa2" stroke-width="0.85" fill="none"/>
<circle cx="333.80" cy="500.10" r="2.3" fill="#1f5b8f"/>
<circle cx="333.80" cy="519.10" r="2.3" fill="#1f5b8f"/>
<circle cx="337.86" cy="500.10" r="2.3" fill="#1f5b8f"/>
<circle cx="337.86" cy="519.10" r="2.3" fill="#1f5b8f"/>
<circle cx="341.92" cy="500.10" r="2.3" fill="#1f5b8f"/>
<circle cx="341.92" cy="519.10" r="2.3" fill="#1f5b8f"/>
<circle cx="345.98" cy="500.10" r="2.3" fill="#1f5b8f"/>
<circle cx="345.98" cy="519.10" r="2.3" fill="#1f5b8f"/>
<circle cx="350.04" cy="500.10" r="2.3" fill="#1f5b8f"/>
<circle cx="350.04" cy="519.10" r="2.3" fill="#1f5b8f"/>
<circle cx="354.10" cy="500.10" r="2.3" fill="#1f5b8f"/>
<circle cx="354.10" cy="519.10" r="2.3" fill="#1f5b8f"/>
<circle cx="358.16" cy="500.10" r="2.3" fill="#1f5b8f"/>
<circle cx="358.16" cy="519.10" r="2.3" fill="#1f5b8f"/>
<circle cx="362.22" cy="500.10" r="2.3" fill="#1f5b8f"/>
<circle cx="362.22" cy="519.10" r="2.3" fill="#1f5b8f"/>
<circle cx="366.28" cy="500.10" r="2.3" fill="#1f5b8f"/>
<circle cx="366.28" cy="519.10" r="2.3" fill="#1f5b8f"/>
<circle cx="370.34" cy="500.10" r="2.3" fill="#1f5b8f"/>
<circle cx="370.34" cy="519.10" r="2.3" fill="#1f5b8f"/>
<circle cx="374.40" cy="500.10" r="2.3" fill="#1f5b8f"/>
<circle cx="374.40" cy="519.10" r="2.3" fill="#1f5b8f"/>
<circle cx="378.46" cy="500.10" r="2.3" fill="#1f5b8f"/>
<circle cx="378.46" cy="519.10" r="2.3" fill="#1f5b8f"/>
<circle cx="382.52" cy="500.10" r="2.3" fill="#1f5b8f"/>
<circle cx="382.52" cy="519.10" r="2.3" fill="#1f5b8f"/>
<circle cx="386.58" cy="500.10" r="2.3" fill="#1f5b8f"/>
<circle cx="386.58" cy="519.10" r="2.3" fill="#1f5b8f"/>
<circle cx="390.64" cy="500.10" r="2.3" fill="#1f5b8f"/>
<circle cx="390.64" cy="519.10" r="2.3" fill="#1f5b8f"/>
<circle cx="394.70" cy="500.10" r="2.3" fill="#1f5b8f"/>
<circle cx="394.70" cy="519.10" r="2.3" fill="#1f5b8f"/>
<circle cx="398.76" cy="500.10" r="2.3" fill="#1f5b8f"/>
<circle cx="398.76" cy="519.10" r="2.3" fill="#1f5b8f"/>
<circle cx="402.82" cy="500.10" r="2.3" fill="#1f5b8f"/>
<circle cx="402.82" cy="519.10" r="2.3" fill="#1f5b8f"/>
<circle cx="406.88" cy="500.10" r="2.3" fill="#1f5b8f"/>
<circle cx="406.88" cy="519.10" r="2.3" fill="#1f5b8f"/>
<circle cx="410.94" cy="500.10" r="2.3" fill="#1f5b8f"/>
<circle cx="410.94" cy="519.10" r="2.3" fill="#1f5b8f"/>
<circle cx="415.00" cy="500.10" r="2.3" fill="#1f5b8f"/>
<circle cx="415.00" cy="519.10" r="2.3" fill="#1f5b8f"/>
<circle cx="419.06" cy="500.10" r="2.3" fill="#1f5b8f"/>
<circle cx="419.06" cy="519.10" r="2.3" fill="#1f5b8f"/>
<circle cx="423.12" cy="500.10" r="2.3" fill="#1f5b8f"/>
<circle cx="423.12" cy="519.10" r="2.3" fill="#1f5b8f"/>
<circle cx="427.18" cy="500.10" r="2.3" fill="#1f5b8f"/>
<circle cx="427.18" cy="519.10" r="2.3" fill="#1f5b8f"/>
<circle cx="431.24" cy="500.10" r="2.3" fill="#1f5b8f"/>
<circle cx="431.24" cy="519.10" r="2.3" fill="#1f5b8f"/>
<circle cx="435.30" cy="500.10" r="2.3" fill="#1f5b8f"/>
<circle cx="435.30" cy="519.10" r="2.3" fill="#1f5b8f"/>
<rect x="360.30" y="497.40" width="27.00" height="24.20" fill="#1d5a8e" />
<text x="373.80" y="512.40" font-size="8.2" text-anchor="middle" textLength="21.50" lengthAdjust="spacingAndGlyphs" fill="#ffffff" >GPD2</text>
<rect x="406.4" y="497.6" width="26.4" height="24.2" fill="#cdcdcd" stroke="#4d6d8d" stroke-width="0.8"/>
<text x="419.60" y="512.60" font-size="8.2" text-anchor="middle" textLength="15.50" lengthAdjust="spacingAndGlyphs" fill="#333" >ETC</text>
<text x="305.90" y="443.00" font-size="8.5" textLength="28.00" lengthAdjust="spacingAndGlyphs" >Glucose</text>
<text x="283.50" y="466.20" font-size="8.5" textLength="34.10" lengthAdjust="spacingAndGlyphs" font-style="italic" >Glycolysis</text>
<text x="296.80" y="492.50" font-size="8.5" textLength="30.30" lengthAdjust="spacingAndGlyphs" >Pyruvate</text>
<text x="282.20" y="509.00" font-size="8.5" textLength="25.50" lengthAdjust="spacingAndGlyphs" >Lactate</text>
<text x="302.00" y="535.50" font-size="8.5" textLength="37.50" lengthAdjust="spacingAndGlyphs" >Krebs cycle</text>
<text x="346.00" y="544.80" font-size="8.6" textLength="14.90" lengthAdjust="spacingAndGlyphs" >FAD</text>
<text x="385.60" y="538.30" font-size="8.6" textLength="20.40" lengthAdjust="spacingAndGlyphs" >FADH</text>
<g transform="translate(406.30 541.00) scale(0.3333)">
<text x="0.00" y="0.00" font-size="15.600000000000001" >2</text>
</g>
<text x="375.20" y="444.30" font-size="7.6" textLength="14.00" lengthAdjust="spacingAndGlyphs" >NAD</text>
<g transform="translate(389.40 441.00) scale(0.3333)">
<text x="0.00" y="0.00" font-size="13.5" >+</text>
</g>
<rect x="340.30" y="449.50" width="21.20" height="8.00" fill="#1d5a8e" />
<text x="350.90" y="455.60" font-size="6.2" text-anchor="middle" textLength="16.50" lengthAdjust="spacingAndGlyphs" fill="#ffffff" >GPD1</text>
<text x="335.20" y="477.60" font-size="6.4" textLength="18.00" lengthAdjust="spacingAndGlyphs" >DHAP</text>
<text x="334.00" y="487.30" font-size="6.4" textLength="24.20" lengthAdjust="spacingAndGlyphs" >+ NADH</text>
<text x="371.70" y="473.10" font-size="6.4" textLength="23.70" lengthAdjust="spacingAndGlyphs" >Glycerol</text>
<text x="366.60" y="479.40" font-size="6.4" textLength="35.20" lengthAdjust="spacingAndGlyphs" >3-phosphate</text>
<path d="M320.4 449.5 L320.4 485.6" stroke="#2b679d" stroke-width="0.9" fill="none" marker-end="url(#ahs)" />
<path d="M320.6 455 C321.5 470 325 477.5 333.5 479.8" stroke="#2b679d" stroke-width="0.9" fill="none" marker-end="url(#ahs)" />
<path d="M320.2 495.0 C320 502 317 506 311.5 507" stroke="#2b679d" stroke-width="0.9" fill="none" marker-end="url(#ahs)" />
<line x1="320.3" y1="497.2" x2="320.3" y2="522" stroke="#999" stroke-width="0.6" stroke-dasharray="1.2 1"/>
<path d="M349.2 471 C352 461 361 458 370 457.3 C378 456.5 382 453.5 384 449.3" stroke="#2b679d" stroke-width="0.9" fill="none" marker-end="url(#ahs)" />
<path d="M368 457.3 C377 457.5 384.5 460.5 386.3 467.5" stroke="#2b679d" stroke-width="0.9" fill="none" marker-end="url(#ahs)" />
<path d="M387.7 483 C388 494 378 498 368 497.5 C361 497 357 495 355.5 491.3" stroke="#2b679d" stroke-width="0.9" fill="none" marker-end="url(#ahs)" />
<path d="M357 538 C358 528 365 524 375 524 C385 524 390 526 393 529.5" stroke="#2b679d" stroke-width="0.9" fill="none" marker-end="url(#ahs)" />
<path d="M413 536.3 C420 539 427.5 535 427.5 527.5" stroke="#2b679d" stroke-width="0.9" fill="none" marker-end="url(#ahs)" />
<ellipse cx="420.2" cy="445.2" rx="12.7" ry="10.4" fill="#f08a22" stroke="#9fb8d0" stroke-width="0.5" stroke-dasharray="1 0.8"/>
<text x="420.60" y="447.60" font-size="7.4" text-anchor="middle" textLength="12.00" lengthAdjust="spacingAndGlyphs" fill="#fbe6cc" >HIF</text>
<ellipse cx="413.4" cy="466.8" rx="11.8" ry="9.8" fill="#3cae46"/>
<text x="413.50" y="469.60" font-size="7.6" text-anchor="middle" textLength="20.60" lengthAdjust="spacingAndGlyphs" fill="#e8f5e8" >PHD2</text>
<path d="M426.2 462.3 C428.8 461 430.3 458.5 430.4 455.6" stroke="#111" stroke-width="1.3" fill="none" marker-end="url(#ahk)"/>
<g transform="translate(435.60 458.10) scale(0.3333)">
<text x="0.00" y="0.00" font-size="13.799999999999999" fill="#666" >O</text>
</g>
<g transform="translate(438.80 459.30) scale(0.3333)">
<text x="0.00" y="0.00" font-size="8.399999999999999" fill="#666" >2</text>
</g>
<g transform="translate(431.50 463.60) scale(0.3333)">
<text x="0.00" y="0.00" font-size="13.799999999999999" fill="#666" >O</text>
</g>
<g transform="translate(434.70 464.80) scale(0.3333)">
<text x="0.00" y="0.00" font-size="8.399999999999999" fill="#666" >2</text>
</g>
<g transform="translate(438.80 465.50) scale(0.3333)">
<text x="0.00" y="0.00" font-size="13.799999999999999" fill="#666" >O</text>
</g>
<g transform="translate(442.00 466.70) scale(0.3333)">
<text x="0.00" y="0.00" font-size="8.399999999999999" fill="#666" >2</text>
</g>
<line x1="399.8" y1="484.5" x2="405.9" y2="476.0" stroke="#888" stroke-width="0.4" marker-end="url(#ahg)"/>
<line x1="408.2" y1="484.0" x2="410.8" y2="477.8" stroke="#888" stroke-width="0.4" marker-end="url(#ahg)"/>
<line x1="417.9" y1="491.8" x2="423.6" y2="495.0" stroke="#888" stroke-width="0.4"/>
<g transform="translate(395.50 488.70) scale(0.3333)">
<text x="0.00" y="0.00" font-size="11.7" textLength="101.70" lengthAdjust="spacingAndGlyphs" fill="#555" >Low-level electron</text>
</g>
<g transform="translate(395.50 493.90) scale(0.3333)">
<text x="0.00" y="0.00" font-size="11.7" textLength="63.60" lengthAdjust="spacingAndGlyphs" fill="#555" >leak/mROS</text>
</g>
<text x="460.60" y="440.70" font-size="8.8" textLength="37.80" lengthAdjust="spacingAndGlyphs" font-weight="bold" fill="#111" >Normoxia</text>
<text x="451.50" y="452.80" font-size="6.6" textLength="56.70" lengthAdjust="spacingAndGlyphs" font-style="italic" fill="#222" >Low glucose uptake</text>
<text x="451.50" y="460.50" font-size="6.6" textLength="51.20" lengthAdjust="spacingAndGlyphs" font-style="italic" fill="#222" >and glycolytic flux</text>
<text x="450.80" y="470.80" font-size="6.6" textLength="59.10" lengthAdjust="spacingAndGlyphs" font-style="italic" fill="#222" >Low GPD shuttle flux</text>
<text x="450.80" y="481.60" font-size="6.6" textLength="56.20" lengthAdjust="spacingAndGlyphs" font-style="italic" fill="#222" >Low levels of mROS</text>
<text x="449.30" y="491.60" font-size="6.6" textLength="54.50" lengthAdjust="spacingAndGlyphs" font-style="italic" fill="#222" >Low levels of PHD2</text>
<text x="449.30" y="499.10" font-size="6.6" textLength="42.60" lengthAdjust="spacingAndGlyphs" font-style="italic" fill="#222" >inhibition allow</text>
<text x="449.30" y="506.60" font-size="6.6" font-style="italic" fill="#222" >PHD2/O<tspan font-size="4" dy="1.2">2</tspan><tspan dy="-1.2"> activity and</tspan></text>
<text x="449.30" y="514.10" font-size="6.6" textLength="42.60" lengthAdjust="spacingAndGlyphs" font-style="italic" fill="#222" >HIF breakdown</text>
<ellipse cx="374" cy="631.3" rx="22" ry="21" fill="#666" opacity="0.8" filter="url(#shad)"/>
<ellipse cx="420.5" cy="635.3" rx="17.5" ry="18" fill="#666" opacity="0.8" filter="url(#shad)"/>
<path d="M333.05 625.40 q1.25 1.87 0 3.75 t0 3.75 t0 3.75 t0 3.75 M334.55 625.40 q1.25 1.87 0 3.75 t0 3.75 t0 3.75 t0 3.75 M337.11 625.40 q1.25 1.87 0 3.75 t0 3.75 t0 3.75 t0 3.75 M338.61 625.40 q1.25 1.87 0 3.75 t0 3.75 t0 3.75 t0 3.75 M341.17 625.40 q1.25 1.87 0 3.75 t0 3.75 t0 3.75 t0 3.75 M342.67 625.40 q1.25 1.87 0 3.75 t0 3.75 t0 3.75 t0 3.75 M345.23 625.40 q1.25 1.87 0 3.75 t0 3.75 t0 3.75 t0 3.75 M346.73 625.40 q1.25 1.87 0 3.75 t0 3.75 t0 3.75 t0 3.75 M349.29 625.40 q1.25 1.87 0 3.75 t0 3.75 t0 3.75 t0 3.75 M350.79 625.40 q1.25 1.87 0 3.75 t0 3.75 t0 3.75 t0 3.75 M353.35 625.40 q1.25 1.87 0 3.75 t0 3.75 t0 3.75 t0 3.75 M354.85 625.40 q1.25 1.87 0 3.75 t0 3.75 t0 3.75 t0 3.75 M357.41 625.40 q1.25 1.87 0 3.75 t0 3.75 t0 3.75 t0 3.75 M358.91 625.40 q1.25 1.87 0 3.75 t0 3.75 t0 3.75 t0 3.75 M361.47 625.40 q1.25 1.87 0 3.75 t0 3.75 t0 3.75 t0 3.75 M362.97 625.40 q1.25 1.87 0 3.75 t0 3.75 t0 3.75 t0 3.75 M365.53 625.40 q1.25 1.87 0 3.75 t0 3.75 t0 3.75 t0 3.75 M367.03 625.40 q1.25 1.87 0 3.75 t0 3.75 t0 3.75 t0 3.75 M369.59 625.40 q1.25 1.87 0 3.75 t0 3.75 t0 3.75 t0 3.75 M371.09 625.40 q1.25 1.87 0 3.75 t0 3.75 t0 3.75 t0 3.75 M373.65 625.40 q1.25 1.87 0 3.75 t0 3.75 t0 3.75 t0 3.75 M375.15 625.40 q1.25 1.87 0 3.75 t0 3.75 t0 3.75 t0 3.75 M377.71 625.40 q1.25 1.87 0 3.75 t0 3.75 t0 3.75 t0 3.75 M379.21 625.40 q1.25 1.87 0 3.75 t0 3.75 t0 3.75 t0 3.75 M381.77 625.40 q1.25 1.87 0 3.75 t0 3.75 t0 3.75 t0 3.75 M383.27 625.40 q1.25 1.87 0 3.75 t0 3.75 t0 3.75 t0 3.75 M385.83 625.40 q1.25 1.87 0 3.75 t0 3.75 t0 3.75 t0 3.75 M387.33 625.40 q1.25 1.87 0 3.75 t0 3.75 t0 3.75 t0 3.75 M389.89 625.40 q1.25 1.87 0 3.75 t0 3.75 t0 3.75 t0 3.75 M391.39 625.40 q1.25 1.87 0 3.75 t0 3.75 t0 3.75 t0 3.75 M393.95 625.40 q1.25 1.87 0 3.75 t0 3.75 t0 3.75 t0 3.75 M395.45 625.40 q1.25 1.87 0 3.75 t0 3.75 t0 3.75 t0 3.75 M398.01 625.40 q1.25 1.87 0 3.75 t0 3.75 t0 3.75 t0 3.75 M399.51 625.40 q1.25 1.87 0 3.75 t0 3.75 t0 3.75 t0 3.75 M402.07 625.40 q1.25 1.87 0 3.75 t0 3.75 t0 3.75 t0 3.75 M403.57 625.40 q1.25 1.87 0 3.75 t0 3.75 t0 3.75 t0 3.75 M406.13 625.40 q1.25 1.87 0 3.75 t0 3.75 t0 3.75 t0 3.75 M407.63 625.40 q1.25 1.87 0 3.75 t0 3.75 t0 3.75 t0 3.75 M410.19 625.40 q1.25 1.87 0 3.75 t0 3.75 t0 3.75 t0 3.75 M411.69 625.40 q1.25 1.87 0 3.75 t0 3.75 t0 3.75 t0 3.75 M414.25 625.40 q1.25 1.87 0 3.75 t0 3.75 t0 3.75 t0 3.75 M415.75 625.40 q1.25 1.87 0 3.75 t0 3.75 t0 3.75 t0 3.75 M418.31 625.40 q1.25 1.87 0 3.75 t0 3.75 t0 3.75 t0 3.75 M419.81 625.40 q1.25 1.87 0 3.75 t0 3.75 t0 3.75 t0 3.75 M422.37 625.40 q1.25 1.87 0 3.75 t0 3.75 t0 3.75 t0 3.75 M423.87 625.40 q1.25 1.87 0 3.75 t0 3.75 t0 3.75 t0 3.75 M426.43 625.40 q1.25 1.87 0 3.75 t0 3.75 t0 3.75 t0 3.75 M427.93 625.40 q1.25 1.87 0 3.75 t0 3.75 t0 3.75 t0 3.75 M430.49 625.40 q1.25 1.87 0 3.75 t0 3.75 t0 3.75 t0 3.75 M431.99 625.40 q1.25 1.87 0 3.75 t0 3.75 t0 3.75 t0 3.75 M434.55 625.40 q1.25 1.87 0 3.75 t0 3.75 t0 3.75 t0 3.75 M436.05 625.40 q1.25 1.87 0 3.75 t0 3.75 t0 3.75 t0 3.75" stroke="#2c6aa2" stroke-width="0.85" fill="none"/>
<circle cx="333.80" cy="623.40" r="2.3" fill="#1f5b8f"/>
<circle cx="333.80" cy="642.40" r="2.3" fill="#1f5b8f"/>
<circle cx="337.86" cy="623.40" r="2.3" fill="#1f5b8f"/>
<circle cx="337.86" cy="642.40" r="2.3" fill="#1f5b8f"/>
<circle cx="341.92" cy="623.40" r="2.3" fill="#1f5b8f"/>
<circle cx="341.92" cy="642.40" r="2.3" fill="#1f5b8f"/>
<circle cx="345.98" cy="623.40" r="2.3" fill="#1f5b8f"/>
<circle cx="345.98" cy="642.40" r="2.3" fill="#1f5b8f"/>
<circle cx="350.04" cy="623.40" r="2.3" fill="#1f5b8f"/>
<circle cx="350.04" cy="642.40" r="2.3" fill="#1f5b8f"/>
<circle cx="354.10" cy="623.40" r="2.3" fill="#1f5b8f"/>
<circle cx="354.10" cy="642.40" r="2.3" fill="#1f5b8f"/>
<circle cx="358.16" cy="623.40" r="2.3" fill="#1f5b8f"/>
<circle cx="358.16" cy="642.40" r="2.3" fill="#1f5b8f"/>
<circle cx="362.22" cy="623.40" r="2.3" fill="#1f5b8f"/>
<circle cx="362.22" cy="642.40" r="2.3" fill="#1f5b8f"/>
<circle cx="366.28" cy="623.40" r="2.3" fill="#1f5b8f"/>
<circle cx="366.28" cy="642.40" r="2.3" fill="#1f5b8f"/>
<circle cx="370.34" cy="623.40" r="2.3" fill="#1f5b8f"/>
<circle cx="370.34" cy="642.40" r="2.3" fill="#1f5b8f"/>
<circle cx="374.40" cy="623.40" r="2.3" fill="#1f5b8f"/>
<circle cx="374.40" cy="642.40" r="2.3" fill="#1f5b8f"/>
<circle cx="378.46" cy="623.40" r="2.3" fill="#1f5b8f"/>
<circle cx="378.46" cy="642.40" r="2.3" fill="#1f5b8f"/>
<circle cx="382.52" cy="623.40" r="2.3" fill="#1f5b8f"/>
<circle cx="382.52" cy="642.40" r="2.3" fill="#1f5b8f"/>
<circle cx="386.58" cy="623.40" r="2.3" fill="#1f5b8f"/>
<circle cx="386.58" cy="642.40" r="2.3" fill="#1f5b8f"/>
<circle cx="390.64" cy="623.40" r="2.3" fill="#1f5b8f"/>
<circle cx="390.64" cy="642.40" r="2.3" fill="#1f5b8f"/>
<circle cx="394.70" cy="623.40" r="2.3" fill="#1f5b8f"/>
<circle cx="394.70" cy="642.40" r="2.3" fill="#1f5b8f"/>
<circle cx="398.76" cy="623.40" r="2.3" fill="#1f5b8f"/>
<circle cx="398.76" cy="642.40" r="2.3" fill="#1f5b8f"/>
<circle cx="402.82" cy="623.40" r="2.3" fill="#1f5b8f"/>
<circle cx="402.82" cy="642.40" r="2.3" fill="#1f5b8f"/>
<circle cx="406.88" cy="623.40" r="2.3" fill="#1f5b8f"/>
<circle cx="406.88" cy="642.40" r="2.3" fill="#1f5b8f"/>
<circle cx="410.94" cy="623.40" r="2.3" fill="#1f5b8f"/>
<circle cx="410.94" cy="642.40" r="2.3" fill="#1f5b8f"/>
<circle cx="415.00" cy="623.40" r="2.3" fill="#1f5b8f"/>
<circle cx="415.00" cy="642.40" r="2.3" fill="#1f5b8f"/>
<circle cx="419.06" cy="623.40" r="2.3" fill="#1f5b8f"/>
<circle cx="419.06" cy="642.40" r="2.3" fill="#1f5b8f"/>
<circle cx="423.12" cy="623.40" r="2.3" fill="#1f5b8f"/>
<circle cx="423.12" cy="642.40" r="2.3" fill="#1f5b8f"/>
<circle cx="427.18" cy="623.40" r="2.3" fill="#1f5b8f"/>
<circle cx="427.18" cy="642.40" r="2.3" fill="#1f5b8f"/>
<circle cx="431.24" cy="623.40" r="2.3" fill="#1f5b8f"/>
<circle cx="431.24" cy="642.40" r="2.3" fill="#1f5b8f"/>
<circle cx="435.30" cy="623.40" r="2.3" fill="#1f5b8f"/>
<circle cx="435.30" cy="642.40" r="2.3" fill="#1f5b8f"/>
<rect x="360.30" y="620.70" width="27.00" height="24.20" fill="#1d5a8e" />
<text x="373.80" y="635.70" font-size="8.2" text-anchor="middle" textLength="21.50" lengthAdjust="spacingAndGlyphs" fill="#ffffff" >GPD2</text>
<rect x="406.4" y="620.9" width="26.4" height="24.2" fill="#cdcdcd" stroke="#4d6d8d" stroke-width="0.8"/>
<text x="419.60" y="635.90" font-size="8.2" text-anchor="middle" textLength="15.50" lengthAdjust="spacingAndGlyphs" fill="#333" >ETC</text>
<text x="307.70" y="565.30" font-size="8.5" textLength="28.00" lengthAdjust="spacingAndGlyphs" >Glucose</text>
<text x="283.50" y="589.50" font-size="8.5" textLength="34.10" lengthAdjust="spacingAndGlyphs" font-style="italic" >Glycolysis</text>
<text x="298.20" y="615.80" font-size="8.5" textLength="30.30" lengthAdjust="spacingAndGlyphs" >Pyruvate</text>
<text x="283.20" y="632.30" font-size="8.5" textLength="25.50" lengthAdjust="spacingAndGlyphs" >Lactate</text>
<text x="302.70" y="659.90" font-size="8.5" textLength="37.50" lengthAdjust="spacingAndGlyphs" >Krebs cycle</text>
<text x="347.40" y="668.10" font-size="8.6" textLength="14.90" lengthAdjust="spacingAndGlyphs" >FAD</text>
<text x="388.40" y="661.60" font-size="8.6" textLength="20.80" lengthAdjust="spacingAndGlyphs" >FADH</text>
<g transform="translate(409.50 664.30) scale(0.3333)">
<text x="0.00" y="0.00" font-size="15.600000000000001" >2</text>
</g>
<text x="372.80" y="567.60" font-size="7.6" textLength="14.00" lengthAdjust="spacingAndGlyphs" >NAD</text>
<g transform="translate(387.00 564.30) scale(0.3333)">
<text x="0.00" y="0.00" font-size="13.5" >+</text>
</g>
<rect x="340.30" y="572.80" width="21.20" height="8.00" fill="#1d5a8e" />
<text x="350.90" y="578.90" font-size="6.2" text-anchor="middle" textLength="16.50" lengthAdjust="spacingAndGlyphs" fill="#ffffff" >GPD1</text>
<text x="333.00" y="600.60" font-size="7.6" textLength="21.50" lengthAdjust="spacingAndGlyphs" >DHAP</text>
<text x="331.50" y="611.40" font-size="7.6" textLength="29.30" lengthAdjust="spacingAndGlyphs" >+ NADH</text>
<text x="363.00" y="596.60" font-size="7.6" textLength="27.00" lengthAdjust="spacingAndGlyphs" >Glycerol</text>
<text x="357.70" y="603.60" font-size="7.6" textLength="41.50" lengthAdjust="spacingAndGlyphs" >3-phosphate</text>
<path d="M320.4 572.8 L320.4 608.9" stroke="#2b679d" stroke-width="2.4" fill="none" marker-end="url(#ahb)" />
<path d="M320.6 578.3 C321.5 593.3 325 600.8 333.5 603.1" stroke="#2b679d" stroke-width="2.4" fill="none" marker-end="url(#ahb)" />
<path d="M320.2 618.3 C320 625.3 317 629.3 311.5 630.3" stroke="#2b679d" stroke-width="2.4" fill="none" marker-end="url(#ahb)" />
<line x1="320.3" y1="620.5" x2="320.3" y2="645.3" stroke="#999" stroke-width="0.6" stroke-dasharray="1.2 1"/>
<path d="M349.2 594.3 C352 584.3 361 581.3 370 580.6 C378 579.8 382 576.8 384 572.6" stroke="#2b679d" stroke-width="2.4" fill="none" marker-end="url(#ahb)" />
<path d="M368 580.6 C377 580.8 384.5 583.8 386.3 590.8" stroke="#2b679d" stroke-width="2.4" fill="none" marker-end="url(#ahb)" />
<path d="M387.7 606.3 C388 617.3 378 621.3 368 620.8 C361 620.3 357 618.3 355.5 614.6" stroke="#2b679d" stroke-width="2.4" fill="none" marker-end="url(#ahb)" />
<path d="M357 661.3 C358 651.3 365 647.3 375 647.3 C385 647.3 390 649.3 393 652.8" stroke="#2b679d" stroke-width="2.4" fill="none" marker-end="url(#ahb)" />
<path d="M413 659.5999999999999 C420 662.3 427.5 658.3 427.5 650.8" stroke="#2b679d" stroke-width="2.4" fill="none" marker-end="url(#ahb)" />
<ellipse cx="420.0" cy="568.6" rx="12.9" ry="10.2" fill="#3cae46"/>
<text x="419.80" y="570.60" font-size="6.2" text-anchor="middle" textLength="10.00" lengthAdjust="spacingAndGlyphs" fill="#bfe5c0" >HIF</text>
<ellipse cx="412.9" cy="590.2" rx="11.9" ry="10.0" fill="#f08a22"/>
<text x="413.20" y="592.20" font-size="6.6" text-anchor="middle" textLength="16.40" lengthAdjust="spacingAndGlyphs" fill="#fbe0c4" >PHD2</text>
<path d="M424.6 586 L429.8 578" stroke="#111" stroke-width="0.9" stroke-dasharray="1.6 1.2" fill="none" marker-end="url(#ahk)"/>
<path d="M425.8 609.7 C432 604 437 598 436.2 590 C435.8 585 435 581 434 577" stroke="#111" stroke-width="1.2" fill="none" marker-end="url(#ahkb)"/>
<line x1="399.8" y1="608.0" x2="405.6" y2="599.5" stroke="#111" stroke-width="0.7" marker-end="url(#ahk)"/>
<line x1="408.5" y1="607.4" x2="410.8" y2="601.0" stroke="#111" stroke-width="0.7" marker-end="url(#ahk)"/>
<line x1="426.9" y1="621.2" x2="417.7" y2="617.4" stroke="#111" stroke-width="0.7" marker-end="url(#ahk)"/>
<line x1="390.0" y1="619.2" x2="395.2" y2="618.3" stroke="#111" stroke-width="0.7" marker-end="url(#ahk)"/>
<g transform="translate(395.20 613.20) scale(0.3333)">
<text x="0.00" y="0.00" font-size="11.7" textLength="140.10" lengthAdjust="spacingAndGlyphs" fill="#555" >Higher levels of electron</text>
</g>
<g transform="translate(395.20 617.80) scale(0.3333)">
<text x="0.00" y="0.00" font-size="11.7" textLength="65.70" lengthAdjust="spacingAndGlyphs" fill="#555" >leak/mROS</text>
</g>
<text x="464.10" y="555.50" font-size="8.8" textLength="31.10" lengthAdjust="spacingAndGlyphs" font-weight="bold" fill="#111" >Hypoxia</text>
<text x="450.30" y="569.40" font-size="6.6" textLength="58.20" lengthAdjust="spacingAndGlyphs" font-style="italic" fill="#222" >High glucose uptake</text>
<text x="450.30" y="576.50" font-size="6.6" textLength="52.00" lengthAdjust="spacingAndGlyphs" font-style="italic" fill="#222" >and glycolytic flux</text>
<text x="450.30" y="587.40" font-size="6.6" textLength="45.80" lengthAdjust="spacingAndGlyphs" font-style="italic" fill="#222" >Increase in GPD</text>
<text x="450.30" y="595.00" font-size="6.6" textLength="31.30" lengthAdjust="spacingAndGlyphs" font-style="italic" fill="#222" >shuttle flux</text>
<text x="450.30" y="604.50" font-size="6.6" textLength="62.80" lengthAdjust="spacingAndGlyphs" font-style="italic" fill="#222" >Increased mROS from</text>
<text x="450.30" y="612.40" font-size="6.6" textLength="38.20" lengthAdjust="spacingAndGlyphs" font-style="italic" fill="#222" >GPD2 or ETC</text>
<text x="450.30" y="619.80" font-size="6.6" textLength="31.00" lengthAdjust="spacingAndGlyphs" font-style="italic" fill="#222" >complexes</text>
<text x="450.30" y="627.40" font-size="6.6" textLength="61.90" lengthAdjust="spacingAndGlyphs" font-style="italic" fill="#222" >downstream of GPD2</text>
<text x="450.30" y="638.50" font-size="6.6" textLength="57.70" lengthAdjust="spacingAndGlyphs" font-style="italic" fill="#222" >mROS augment HIF</text>
<text x="450.30" y="645.80" font-size="6.6" textLength="46.60" lengthAdjust="spacingAndGlyphs" font-style="italic" fill="#222" >stabilization and</text>
<text x="450.30" y="653.40" font-size="6.6" textLength="60.50" lengthAdjust="spacingAndGlyphs" font-style="italic" fill="#222" >survival through PHD</text>
<text x="450.30" y="660.80" font-size="6.6" textLength="51.60" lengthAdjust="spacingAndGlyphs" font-style="italic" fill="#222" >inhibition or other</text>
<text x="450.30" y="668.10" font-size="6.6" textLength="34.80" lengthAdjust="spacingAndGlyphs" font-style="italic" fill="#222" >mechanisms</text>
</svg>
</body></html>
